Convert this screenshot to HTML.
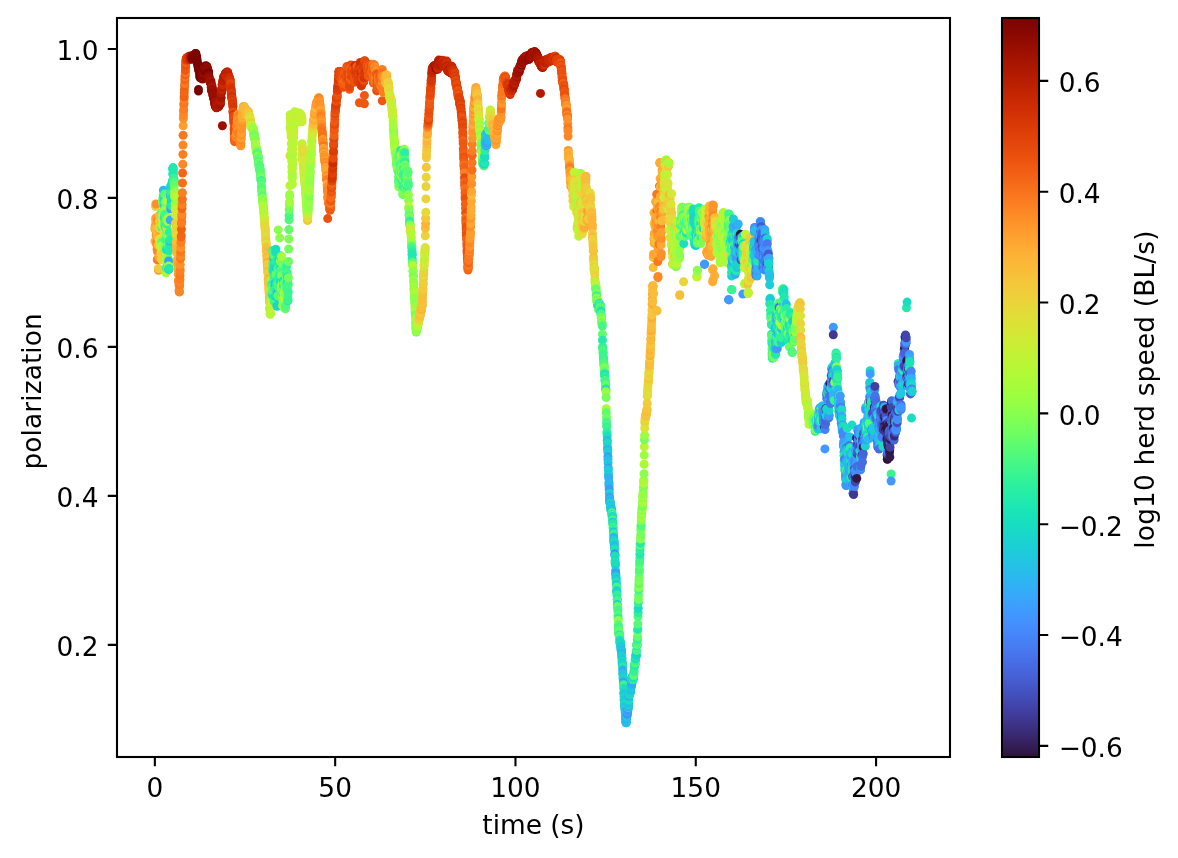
<!DOCTYPE html>
<html><head><meta charset="utf-8"><title>polarization vs time</title>
<style>html,body{margin:0;padding:0;background:#fff;overflow:hidden;}svg{display:block;}text{font-family:"DejaVu Sans","Liberation Sans",sans-serif;font-size:26.40px;fill:#000;}</style></head><body>
<svg width="1178" height="858" viewBox="0 0 1178 858">
<rect width="1178" height="858" fill="#fff"/>
<defs><linearGradient id="cb" x1="0" y1="1" x2="0" y2="0">
<stop offset="0.0000" stop-color="#30123b"/>
<stop offset="0.0156" stop-color="#351e58"/>
<stop offset="0.0312" stop-color="#392a73"/>
<stop offset="0.0469" stop-color="#3d358b"/>
<stop offset="0.0625" stop-color="#4040a2"/>
<stop offset="0.0781" stop-color="#424bb5"/>
<stop offset="0.0938" stop-color="#4456c7"/>
<stop offset="0.1094" stop-color="#4661d6"/>
<stop offset="0.1250" stop-color="#466be3"/>
<stop offset="0.1406" stop-color="#4776ee"/>
<stop offset="0.1562" stop-color="#4680f6"/>
<stop offset="0.1719" stop-color="#458afc"/>
<stop offset="0.1875" stop-color="#4294ff"/>
<stop offset="0.2031" stop-color="#3d9efe"/>
<stop offset="0.2188" stop-color="#37a8fa"/>
<stop offset="0.2344" stop-color="#2fb2f4"/>
<stop offset="0.2500" stop-color="#28bceb"/>
<stop offset="0.2656" stop-color="#22c5e2"/>
<stop offset="0.2812" stop-color="#1ccdd8"/>
<stop offset="0.2969" stop-color="#19d5cd"/>
<stop offset="0.3125" stop-color="#18ddc2"/>
<stop offset="0.3281" stop-color="#19e3b9"/>
<stop offset="0.3438" stop-color="#1fe9af"/>
<stop offset="0.3594" stop-color="#27eea4"/>
<stop offset="0.3750" stop-color="#32f298"/>
<stop offset="0.3906" stop-color="#3ff68a"/>
<stop offset="0.4062" stop-color="#4ef97d"/>
<stop offset="0.4219" stop-color="#5dfc6f"/>
<stop offset="0.4375" stop-color="#6dfe62"/>
<stop offset="0.4531" stop-color="#7dff56"/>
<stop offset="0.4688" stop-color="#8bff4b"/>
<stop offset="0.4844" stop-color="#99fe42"/>
<stop offset="0.5000" stop-color="#a4fc3c"/>
<stop offset="0.5156" stop-color="#affa37"/>
<stop offset="0.5312" stop-color="#b9f635"/>
<stop offset="0.5469" stop-color="#c3f134"/>
<stop offset="0.5625" stop-color="#cdec34"/>
<stop offset="0.5781" stop-color="#d7e535"/>
<stop offset="0.5938" stop-color="#dfdf37"/>
<stop offset="0.6094" stop-color="#e7d739"/>
<stop offset="0.6250" stop-color="#eecf3a"/>
<stop offset="0.6406" stop-color="#f4c73a"/>
<stop offset="0.6562" stop-color="#f8be39"/>
<stop offset="0.6719" stop-color="#fbb637"/>
<stop offset="0.6875" stop-color="#fdac34"/>
<stop offset="0.7031" stop-color="#fea130"/>
<stop offset="0.7188" stop-color="#fe962b"/>
<stop offset="0.7344" stop-color="#fd8a26"/>
<stop offset="0.7500" stop-color="#fb7e21"/>
<stop offset="0.7656" stop-color="#f8721c"/>
<stop offset="0.7812" stop-color="#f46617"/>
<stop offset="0.7969" stop-color="#f05b12"/>
<stop offset="0.8125" stop-color="#eb500e"/>
<stop offset="0.8281" stop-color="#e5470b"/>
<stop offset="0.8438" stop-color="#df3f08"/>
<stop offset="0.8594" stop-color="#d83706"/>
<stop offset="0.8750" stop-color="#d02f05"/>
<stop offset="0.8906" stop-color="#c82803"/>
<stop offset="0.9062" stop-color="#be2102"/>
<stop offset="0.9219" stop-color="#b41b01"/>
<stop offset="0.9375" stop-color="#a91601"/>
<stop offset="0.9531" stop-color="#9e1001"/>
<stop offset="0.9688" stop-color="#920b01"/>
<stop offset="0.9844" stop-color="#850702"/>
<stop offset="1.0000" stop-color="#7a0403"/>
</linearGradient><clipPath id="axclip"><rect x="117.00" y="18.00" width="833.00" height="739.00"/></clipPath></defs>
<g clip-path="url(#axclip)">
<g fill="none" stroke-linecap="round" stroke-width="9.0">
<path stroke="#e9d539" d="M154.9 228.4h0"/>
<path stroke="#fcb336" d="M155.0 241.1h0"/>
<path stroke="#fdac34" d="M155.1 229.5h0"/>
<path stroke="#faba39" d="M155.2 226.2h0"/>
<path stroke="#fcb336" d="M155.3 226.0h0"/>
<path stroke="#e9d539" d="M155.5 220.7h0"/>
<path stroke="#f1cb3a" d="M155.6 206.5h0"/>
<path stroke="#fe9e2f" d="M155.7 218.1h0M155.8 224.6h0"/>
<path stroke="#fe9029" d="M155.9 204.0h0"/>
<path stroke="#fcb336" d="M156.1 235.4h0"/>
<path stroke="#faba39" d="M156.2 243.7h0"/>
<path stroke="#eecf3a" d="M156.3 233.4h0"/>
<path stroke="#fe9e2f" d="M156.4 243.7h0M156.5 235.8h0"/>
<path stroke="#fe9029" d="M156.7 233.6h0"/>
<path stroke="#fc8725" d="M156.8 241.9h0"/>
<path stroke="#f8be39" d="M156.9 226.8h0"/>
<path stroke="#fe9029" d="M157.0 234.5h0"/>
<path stroke="#fc8725" d="M157.1 249.3h0"/>
<path stroke="#fb7e21" d="M157.3 259.7h0"/>
<path stroke="#fc8725" d="M157.4 251.4h0"/>
<path stroke="#f9781e" d="M157.5 259.1h0"/>
<path stroke="#f5c53a" d="M157.6 233.8h0"/>
<path stroke="#f8be39" d="M157.7 231.8h0"/>
<path stroke="#faba39" d="M157.9 236.8h0"/>
<path stroke="#f9781e" d="M158.0 220.1h0"/>
<path stroke="#fe962b" d="M158.1 222.5h0"/>
<path stroke="#faba39" d="M158.2 245.2h0M158.3 268.6h0"/>
<path stroke="#fe962b" d="M158.5 270.3h0"/>
<path stroke="#f1cb3a" d="M158.6 268.7h0"/>
<path stroke="#fea732" d="M158.7 257.1h0M158.8 237.6h0"/>
<path stroke="#fe9029" d="M159.0 218.1h0"/>
<path stroke="#faba39" d="M159.1 227.3h0"/>
<path stroke="#d2e935" d="M159.2 239.3h0"/>
<path stroke="#fe9e2f" d="M159.3 229.8h0"/>
<path stroke="#f8be39" d="M159.4 215.1h0"/>
<path stroke="#f1cb3a" d="M159.6 221.3h0"/>
<path stroke="#e3db38" d="M159.7 228.3h0"/>
<path stroke="#f5c53a" d="M159.8 226.5h0"/>
<path stroke="#e3db38" d="M159.9 245.1h0"/>
<path stroke="#d2e935" d="M160.0 242.3h0"/>
<path stroke="#d9e436" d="M160.2 238.8h0"/>
<path stroke="#eecf3a" d="M160.3 224.7h0"/>
<path stroke="#e3db38" d="M160.4 227.1h0"/>
<path stroke="#b1f936" d="M160.5 246.2h0"/>
<path stroke="#e3db38" d="M160.6 244.2h0"/>
<path stroke="#d2e935" d="M160.8 243.6h0"/>
<path stroke="#e3db38" d="M160.9 246.8h0"/>
<path stroke="#dfdf37" d="M161.0 246.9h0"/>
<path stroke="#b9f635" d="M161.1 252.6h0"/>
<path stroke="#eecf3a" d="M161.2 254.4h0"/>
<path stroke="#e9d539" d="M161.4 259.5h0"/>
<path stroke="#55fa76" d="M161.5 242.6h0"/>
<path stroke="#a4fc3c" d="M161.6 245.8h0"/>
<path stroke="#55fa76" d="M161.7 222.2h0"/>
<path stroke="#32f298" d="M161.8 227.2h0"/>
<path stroke="#38f491" d="M162.0 212.6h0"/>
<path stroke="#6dfe62" d="M162.1 215.3h0M162.2 225.8h0"/>
<path stroke="#d9e436" d="M162.3 221.2h0"/>
<path stroke="#bef434" d="M162.4 225.1h0"/>
<path stroke="#8bff4b" d="M162.6 202.8h0"/>
<path stroke="#61fc6c" d="M162.7 198.9h0"/>
<path stroke="#a4fc3c" d="M162.8 213.7h0"/>
<path stroke="#8bff4b" d="M162.9 201.7h0"/>
<path stroke="#c6f034" d="M163.0 215.6h0"/>
<path stroke="#6dfe62" d="M163.2 200.3h0"/>
<path stroke="#8bff4b" d="M163.3 194.5h0"/>
<path stroke="#28bceb" d="M163.4 190.3h0"/>
<path stroke="#22ebaa" d="M163.5 196.2h0"/>
<path stroke="#80ff53" d="M163.6 210.5h0"/>
<path stroke="#18e0bd" d="M163.8 200.4h0M163.9 204.7h0"/>
<path stroke="#dfdf37" d="M164.0 232.2h0"/>
<path stroke="#9cfe40" d="M164.1 227.7h0"/>
<path stroke="#38f491" d="M164.2 218.4h0"/>
<path stroke="#92ff47" d="M164.4 226.5h0"/>
<path stroke="#4ef97d" d="M164.5 223.8h0"/>
<path stroke="#1ae4b6" d="M164.6 216.6h0"/>
<path stroke="#55fa76" d="M164.7 194.1h0"/>
<path stroke="#4ef97d" d="M164.8 214.4h0"/>
<path stroke="#9cfe40" d="M165.0 209.7h0"/>
<path stroke="#43f787" d="M165.1 214.5h0"/>
<path stroke="#6dfe62" d="M165.2 202.3h0"/>
<path stroke="#2aefa1" d="M165.3 227.0h0"/>
<path stroke="#43f787" d="M165.4 239.8h0"/>
<path stroke="#61fc6c" d="M165.6 253.1h0"/>
<path stroke="#6dfe62" d="M165.7 247.6h0"/>
<path stroke="#bef434" d="M165.8 252.9h0"/>
<path stroke="#c6f034" d="M165.9 261.2h0"/>
<path stroke="#a4fc3c" d="M166.0 272.7h0"/>
<path stroke="#43f787" d="M166.2 267.7h0"/>
<path stroke="#b9f635" d="M166.3 259.2h0"/>
<path stroke="#1ae4b6" d="M166.4 249.7h0"/>
<path stroke="#75fe5c" d="M166.5 234.4h0"/>
<path stroke="#8bff4b" d="M166.6 219.3h0"/>
<path stroke="#d9e436" d="M166.8 227.6h0"/>
<path stroke="#32f298" d="M166.9 224.2h0"/>
<path stroke="#8bff4b" d="M167.0 196.8h0"/>
<path stroke="#9cfe40" d="M167.1 201.1h0"/>
<path stroke="#2aefa1" d="M167.2 222.6h0"/>
<path stroke="#dfdf37" d="M167.4 219.5h0"/>
<path stroke="#61fc6c" d="M167.5 196.0h0"/>
<path stroke="#b1f936" d="M167.6 200.3h0"/>
<path stroke="#2aefa1" d="M167.7 217.6h0"/>
<path stroke="#9cfe40" d="M167.8 221.6h0"/>
<path stroke="#b1f936" d="M168.0 218.1h0"/>
<path stroke="#55fa76" d="M168.1 245.4h0"/>
<path stroke="#f1cb3a" d="M168.2 268.6h0"/>
<path stroke="#6dfe62" d="M168.3 258.8h0"/>
<path stroke="#92ff47" d="M168.4 263.5h0"/>
<path stroke="#3ba0fd" d="M168.6 261.1h0"/>
<path stroke="#a9fb39" d="M168.7 266.1h0"/>
<path stroke="#25c0e7" d="M168.8 269.3h0"/>
<path stroke="#1ccdd8" d="M168.9 269.0h0"/>
<path stroke="#1fe9af" d="M169.0 268.5h0"/>
<path stroke="#22ebaa" d="M169.2 250.7h0"/>
<path stroke="#c6f034" d="M169.3 235.8h0"/>
<path stroke="#2aefa1" d="M169.4 232.2h0"/>
<path stroke="#22ebaa" d="M169.5 246.8h0"/>
<path stroke="#1fe9af" d="M169.6 245.6h0"/>
<path stroke="#38f491" d="M169.8 241.4h0"/>
<path stroke="#2eb4f2" d="M169.9 241.1h0"/>
<path stroke="#61fc6c" d="M170.0 239.0h0"/>
<path stroke="#22ebaa" d="M170.1 239.6h0"/>
<path stroke="#33adf7" d="M170.2 220.1h0"/>
<path stroke="#3ba0fd" d="M170.4 196.1h0"/>
<path stroke="#2eb4f2" d="M170.5 195.8h0"/>
<path stroke="#18d7ca" d="M170.6 186.3h0"/>
<path stroke="#3ba0fd" d="M170.7 208.8h0M170.9 206.1h0"/>
<path stroke="#2aefa1" d="M171.0 203.4h0"/>
<path stroke="#33adf7" d="M171.1 191.5h0"/>
<path stroke="#2aefa1" d="M171.2 195.7h0"/>
<path stroke="#32f298" d="M171.3 191.6h0"/>
<path stroke="#2eb4f2" d="M171.5 200.7h0"/>
<path stroke="#1fe9af" d="M171.6 205.7h0"/>
<path stroke="#1ae4b6" d="M171.7 198.7h0"/>
<path stroke="#18ddc2" d="M171.8 198.5h0"/>
<path stroke="#1ae4b6" d="M171.9 183.4h0M172.1 182.4h0"/>
<path stroke="#18ddc2" d="M172.2 186.1h0M172.3 187.4h0M172.4 184.5h0M172.5 180.7h0"/>
<path stroke="#18e0bd" d="M172.7 174.0h0M172.8 169.2h0"/>
<path stroke="#18d7ca" d="M172.9 168.7h0"/>
<path stroke="#22ebaa" d="M173.0 167.6h0"/>
<path stroke="#1fe9af" d="M173.1 168.6h0"/>
<path stroke="#22ebaa" d="M173.3 170.9h0"/>
<path stroke="#1fe9af" d="M173.4 173.9h0"/>
<path stroke="#2aefa1" d="M173.5 178.6h0"/>
<path stroke="#43f787" d="M173.6 178.5h0"/>
<path stroke="#38f491" d="M173.7 178.5h0"/>
<path stroke="#4ef97d" d="M173.9 182.0h0"/>
<path stroke="#32f298" d="M174.0 181.1h0"/>
<path stroke="#38f491" d="M174.1 180.3h0"/>
<path stroke="#4ef97d" d="M174.2 182.2h0"/>
<path stroke="#61fc6c" d="M174.3 185.3h0"/>
<path stroke="#8bff4b" d="M174.5 190.4h0"/>
<path stroke="#9cfe40" d="M174.6 193.4h0"/>
<path stroke="#61fc6c" d="M174.7 196.7h0"/>
<path stroke="#a4fc3c" d="M174.8 196.0h0"/>
<path stroke="#b9f635" d="M174.9 196.9h0"/>
<path stroke="#92ff47" d="M175.1 203.8h0"/>
<path stroke="#a9fb39" d="M175.2 207.4h0"/>
<path stroke="#c6f034" d="M175.3 209.4h0"/>
<path stroke="#d2e935" d="M175.4 214.9h0"/>
<path stroke="#f1cb3a" d="M175.5 223.2h0"/>
<path stroke="#dfdf37" d="M175.7 229.3h0"/>
<path stroke="#eecf3a" d="M175.8 230.1h0M175.9 230.3h0"/>
<path stroke="#f1cb3a" d="M176.0 233.1h0"/>
<path stroke="#e9d539" d="M176.1 235.1h0"/>
<path stroke="#f5c53a" d="M176.3 242.0h0"/>
<path stroke="#f8be39" d="M176.4 244.5h0M176.5 247.9h0"/>
<path stroke="#fea732" d="M176.6 246.6h0"/>
<path stroke="#f5c53a" d="M176.7 252.8h0"/>
<path stroke="#f8be39" d="M176.9 243.4h0M177.0 248.6h0"/>
<path stroke="#faba39" d="M177.1 252.4h0"/>
<path stroke="#fcb336" d="M177.2 249.3h0"/>
<path stroke="#fea732" d="M177.3 260.7h0"/>
<path stroke="#fe9e2f" d="M177.5 260.8h0"/>
<path stroke="#faba39" d="M177.6 260.9h0"/>
<path stroke="#fdac34" d="M177.7 259.1h0"/>
<path stroke="#fea732" d="M177.8 264.3h0"/>
<path stroke="#fe9e2f" d="M177.9 266.8h0M178.1 265.7h0"/>
<path stroke="#fdac34" d="M178.2 269.6h0"/>
<path stroke="#fe9e2f" d="M178.3 274.3h0"/>
<path stroke="#fea732" d="M178.4 280.2h0"/>
<path stroke="#fe9029" d="M178.5 280.8h0M178.7 280.8h0"/>
<path stroke="#fc8725" d="M178.8 281.9h0"/>
<path stroke="#fe9029" d="M178.9 280.7h0M179.0 285.0h0"/>
<path stroke="#fe962b" d="M179.1 290.5h0"/>
<path stroke="#f76f1a" d="M179.3 291.8h0"/>
<path stroke="#fc8725" d="M179.4 291.9h0M179.5 286.7h0"/>
<path stroke="#fb7e21" d="M179.6 284.7h0"/>
<path stroke="#fc8725" d="M179.7 281.6h0"/>
<path stroke="#fb7e21" d="M179.9 279.4h0"/>
<path stroke="#f9781e" d="M180.0 275.4h0"/>
<path stroke="#fb7e21" d="M180.1 271.2h0M180.2 269.8h0"/>
<path stroke="#fe9029" d="M180.3 264.7h0"/>
<path stroke="#f9781e" d="M180.5 258.9h0"/>
<path stroke="#fc8725" d="M180.6 255.5h0"/>
<path stroke="#f9781e" d="M180.7 251.9h0"/>
<path stroke="#fe9029" d="M180.8 247.4h0"/>
<path stroke="#fb7e21" d="M180.9 242.5h0M181.1 241.2h0"/>
<path stroke="#f46617" d="M181.2 236.8h0M181.3 235.8h0"/>
<path stroke="#f26014" d="M181.4 229.3h0"/>
<path stroke="#f9781e" d="M181.5 223.4h0"/>
<path stroke="#fb7e21" d="M181.7 221.5h0"/>
<path stroke="#f9781e" d="M181.8 216.8h0"/>
<path stroke="#fc8725" d="M181.9 214.2h0"/>
<path stroke="#f46617" d="M182.0 208.5h0"/>
<path stroke="#fb7e21" d="M182.1 204.5h0"/>
<path stroke="#f76f1a" d="M182.3 199.3h0"/>
<path stroke="#fb7e21" d="M182.4 192.8h0"/>
<path stroke="#f76f1a" d="M182.5 183.0h0"/>
<path stroke="#f46617" d="M182.6 173.0h0"/>
<path stroke="#fc8725" d="M182.8 164.2h0"/>
<path stroke="#fb7e21" d="M182.9 154.4h0"/>
<path stroke="#fc8725" d="M183.0 145.1h0"/>
<path stroke="#f9781e" d="M183.1 135.2h0"/>
<path stroke="#fe9e2f" d="M183.2 125.7h0"/>
<path stroke="#fe9029" d="M183.4 118.6h0"/>
<path stroke="#fc8725" d="M183.5 115.1h0M183.6 111.6h0"/>
<path stroke="#fb7e21" d="M183.7 109.4h0M183.8 105.1h0"/>
<path stroke="#f9781e" d="M184.0 103.2h0"/>
<path stroke="#fb7e21" d="M184.1 99.1h0"/>
<path stroke="#f26014" d="M184.2 96.5h0"/>
<path stroke="#f46617" d="M184.3 92.8h0M184.4 90.0h0"/>
<path stroke="#f26014" d="M184.6 86.0h0"/>
<path stroke="#f9781e" d="M184.7 83.6h0"/>
<path stroke="#f46617" d="M184.8 79.8h0M184.9 79.8h0"/>
<path stroke="#fb7e21" d="M185.0 76.6h0"/>
<path stroke="#f26014" d="M185.2 75.0h0"/>
<path stroke="#f9781e" d="M185.3 72.4h0"/>
<path stroke="#ef5811" d="M185.4 70.4h0M185.5 67.7h0"/>
<path stroke="#e84b0c" d="M185.6 64.7h0"/>
<path stroke="#ef5811" d="M185.8 63.3h0"/>
<path stroke="#f46617" d="M185.9 61.6h0"/>
<path stroke="#eb500e" d="M186.0 60.6h0"/>
<path stroke="#e84b0c" d="M186.1 59.6h0M186.2 58.9h0"/>
<path stroke="#e4450a" d="M186.4 58.1h0"/>
<path stroke="#eb500e" d="M186.5 59.4h0"/>
<path stroke="#e84b0c" d="M186.6 59.3h0"/>
<path stroke="#df3f08" d="M186.7 58.3h0M186.8 59.2h0"/>
<path stroke="#e84b0c" d="M187.0 58.5h0"/>
<path stroke="#df3f08" d="M187.1 58.5h0"/>
<path stroke="#d63506" d="M187.2 57.5h0"/>
<path stroke="#e84b0c" d="M187.3 58.2h0"/>
<path stroke="#d02f05" d="M187.4 59.7h0"/>
<path stroke="#dc3b07" d="M187.6 59.2h0"/>
<path stroke="#df3f08" d="M187.7 59.9h0"/>
<path stroke="#dc3b07" d="M187.8 58.6h0"/>
<path stroke="#d63506" d="M187.9 58.7h0"/>
<path stroke="#df3f08" d="M188.0 57.4h0M188.2 58.1h0"/>
<path stroke="#dc3b07" d="M188.3 58.2h0"/>
<path stroke="#e4450a" d="M188.4 58.5h0"/>
<path stroke="#d63506" d="M188.5 58.5h0"/>
<path stroke="#e4450a" d="M188.6 59.1h0"/>
<path stroke="#d63506" d="M188.8 57.2h0M188.9 56.3h0"/>
<path stroke="#dc3b07" d="M189.0 59.4h0M189.1 59.0h0"/>
<path stroke="#d63506" d="M189.2 58.1h0"/>
<path stroke="#c52603" d="M189.4 59.6h0M189.5 58.0h0"/>
<path stroke="#d02f05" d="M189.6 57.9h0"/>
<path stroke="#cc2b04" d="M189.7 57.2h0"/>
<path stroke="#d63506" d="M189.8 56.9h0M190.0 57.3h0"/>
<path stroke="#be2102" d="M190.1 56.9h0"/>
<path stroke="#d63506" d="M190.2 57.0h0M190.3 56.9h0"/>
<path stroke="#cc2b04" d="M190.4 56.6h0M190.6 56.5h0"/>
<path stroke="#be2102" d="M190.7 56.5h0"/>
<path stroke="#b91e02" d="M190.8 55.9h0M190.9 57.8h0"/>
<path stroke="#be2102" d="M191.0 57.3h0"/>
<path stroke="#b91e02" d="M191.2 57.8h0M191.3 56.5h0"/>
<path stroke="#a41301" d="M191.4 58.0h0"/>
<path stroke="#a91601" d="M191.5 58.7h0M191.6 56.8h0M191.8 59.0h0"/>
<path stroke="#920b01" d="M191.9 58.4h0M192.0 59.0h0"/>
<path stroke="#810602" d="M192.1 55.8h0"/>
<path stroke="#9b0f01" d="M192.2 58.0h0"/>
<path stroke="#920b01" d="M192.4 57.4h0"/>
<path stroke="#810602" d="M192.5 56.7h0"/>
<path stroke="#9b0f01" d="M192.6 56.1h0"/>
<path stroke="#810602" d="M192.7 57.9h0"/>
<path stroke="#9b0f01" d="M192.8 56.8h0"/>
<path stroke="#920b01" d="M193.0 57.3h0"/>
<path stroke="#8b0902" d="M193.1 57.2h0"/>
<path stroke="#9b0f01" d="M193.2 56.6h0"/>
<path stroke="#8b0902" d="M193.3 57.0h0"/>
<path stroke="#7a0403" d="M193.4 57.5h0"/>
<path stroke="#920b01" d="M193.6 58.9h0"/>
<path stroke="#8b0902" d="M193.7 57.9h0"/>
<path stroke="#920b01" d="M193.8 57.4h0"/>
<path stroke="#7a0403" d="M193.9 57.0h0M194.0 58.7h0"/>
<path stroke="#920b01" d="M194.2 58.1h0"/>
<path stroke="#810602" d="M194.3 58.4h0M194.4 57.0h0M194.5 57.8h0"/>
<path stroke="#7a0403" d="M194.7 56.3h0M194.8 56.8h0"/>
<path stroke="#810602" d="M194.9 56.3h0"/>
<path stroke="#8b0902" d="M195.0 55.4h0"/>
<path stroke="#7a0403" d="M195.1 54.7h0M195.3 53.8h0M195.4 53.5h0M195.5 54.6h0M195.6 54.8h0"/>
<path stroke="#8b0902" d="M195.7 54.3h0"/>
<path stroke="#810602" d="M195.9 53.4h0M196.0 55.2h0"/>
<path stroke="#7a0403" d="M196.1 56.0h0M196.2 55.6h0M196.3 57.6h0M196.5 57.9h0"/>
<path stroke="#810602" d="M196.6 57.9h0"/>
<path stroke="#7a0403" d="M196.7 57.3h0M196.8 58.4h0M196.9 59.3h0M197.1 59.7h0M197.2 60.0h0M197.3 61.9h0M197.4 64.3h0M197.5 62.1h0M197.7 65.2h0M197.8 65.9h0M197.9 65.4h0M198.0 64.8h0M198.1 65.6h0M198.3 67.9h0M198.4 68.7h0M198.5 89.4h0M198.5 91.0h0M198.5 69.9h0M198.6 70.3h0M198.7 69.5h0M198.9 69.8h0M199.0 70.2h0M199.1 68.9h0M199.2 69.6h0M199.3 70.9h0M199.5 74.3h0M199.6 76.6h0M199.7 75.5h0M199.8 74.3h0M199.9 76.6h0M200.1 77.8h0M200.2 75.8h0M200.3 76.7h0M200.4 76.2h0M200.5 76.4h0M200.7 76.4h0M200.8 77.2h0M200.9 74.6h0M201.0 74.8h0M201.1 75.0h0"/>
<path stroke="#810602" d="M201.3 73.9h0"/>
<path stroke="#7a0403" d="M201.4 73.4h0M201.5 75.6h0M201.6 75.3h0"/>
<path stroke="#8b0902" d="M201.7 74.7h0"/>
<path stroke="#7a0403" d="M201.9 76.6h0"/>
<path stroke="#810602" d="M202.0 76.0h0"/>
<path stroke="#7a0403" d="M202.1 75.4h0M202.2 75.7h0M202.3 75.9h0"/>
<path stroke="#8b0902" d="M202.5 79.0h0"/>
<path stroke="#7a0403" d="M202.6 77.3h0"/>
<path stroke="#810602" d="M202.7 76.1h0"/>
<path stroke="#920b01" d="M202.8 75.1h0M202.9 77.2h0"/>
<path stroke="#8b0902" d="M203.1 77.3h0M203.2 75.0h0M203.3 74.5h0M203.4 72.6h0M203.5 71.9h0"/>
<path stroke="#7a0403" d="M203.7 71.8h0"/>
<path stroke="#9b0f01" d="M203.8 72.7h0M203.9 70.8h0"/>
<path stroke="#920b01" d="M204.0 71.0h0"/>
<path stroke="#7a0403" d="M204.1 68.2h0M204.3 68.9h0"/>
<path stroke="#8b0902" d="M204.4 71.4h0"/>
<path stroke="#9b0f01" d="M204.5 70.4h0"/>
<path stroke="#920b01" d="M204.6 69.6h0"/>
<path stroke="#8b0902" d="M204.7 68.5h0"/>
<path stroke="#7a0403" d="M204.9 70.3h0"/>
<path stroke="#8b0902" d="M205.0 66.5h0"/>
<path stroke="#920b01" d="M205.1 66.0h0M205.2 66.9h0"/>
<path stroke="#a41301" d="M205.3 68.7h0"/>
<path stroke="#810602" d="M205.5 71.5h0M205.6 70.2h0M205.7 70.0h0"/>
<path stroke="#7a0403" d="M205.8 69.6h0"/>
<path stroke="#a41301" d="M205.9 68.4h0M206.1 68.8h0"/>
<path stroke="#920b01" d="M206.2 66.1h0"/>
<path stroke="#8b0902" d="M206.3 66.4h0"/>
<path stroke="#7a0403" d="M206.4 66.1h0"/>
<path stroke="#920b01" d="M206.6 67.7h0"/>
<path stroke="#810602" d="M206.7 66.5h0"/>
<path stroke="#8b0902" d="M206.8 68.9h0"/>
<path stroke="#7a0403" d="M206.9 68.6h0"/>
<path stroke="#920b01" d="M207.0 67.2h0M207.2 68.0h0"/>
<path stroke="#9b0f01" d="M207.3 68.3h0"/>
<path stroke="#8b0902" d="M207.4 68.8h0"/>
<path stroke="#920b01" d="M207.5 71.6h0M207.6 69.3h0"/>
<path stroke="#8b0902" d="M207.8 71.2h0"/>
<path stroke="#920b01" d="M207.9 71.6h0"/>
<path stroke="#7a0403" d="M208.0 72.5h0"/>
<path stroke="#8b0902" d="M208.1 71.9h0"/>
<path stroke="#810602" d="M208.2 72.2h0"/>
<path stroke="#920b01" d="M208.4 71.0h0"/>
<path stroke="#810602" d="M208.5 73.8h0"/>
<path stroke="#7a0403" d="M208.6 73.0h0"/>
<path stroke="#8b0902" d="M208.7 75.2h0"/>
<path stroke="#a41301" d="M208.8 77.6h0"/>
<path stroke="#9b0f01" d="M209.0 77.3h0"/>
<path stroke="#810602" d="M209.1 79.3h0"/>
<path stroke="#9b0f01" d="M209.2 79.2h0"/>
<path stroke="#8b0902" d="M209.3 79.0h0"/>
<path stroke="#a41301" d="M209.4 79.0h0"/>
<path stroke="#920b01" d="M209.6 79.5h0"/>
<path stroke="#a91601" d="M209.7 79.7h0"/>
<path stroke="#9b0f01" d="M209.8 79.7h0M209.9 80.2h0M210.0 80.8h0"/>
<path stroke="#a41301" d="M210.2 82.6h0"/>
<path stroke="#9b0f01" d="M210.3 81.3h0"/>
<path stroke="#a41301" d="M210.4 82.3h0M210.5 81.7h0"/>
<path stroke="#b21a01" d="M210.6 82.5h0"/>
<path stroke="#920b01" d="M210.8 81.6h0"/>
<path stroke="#a41301" d="M210.9 80.9h0"/>
<path stroke="#920b01" d="M211.0 83.5h0"/>
<path stroke="#9b0f01" d="M211.1 83.9h0"/>
<path stroke="#920b01" d="M211.2 87.3h0"/>
<path stroke="#a91601" d="M211.4 90.0h0"/>
<path stroke="#9b0f01" d="M211.5 87.2h0"/>
<path stroke="#a41301" d="M211.6 90.8h0"/>
<path stroke="#9b0f01" d="M211.7 88.8h0M211.8 88.7h0M212.0 85.9h0"/>
<path stroke="#b91e02" d="M212.1 87.8h0"/>
<path stroke="#b21a01" d="M212.2 90.1h0"/>
<path stroke="#920b01" d="M212.3 89.1h0M212.4 89.8h0"/>
<path stroke="#9b0f01" d="M212.6 89.6h0M212.7 91.9h0M212.8 92.9h0M212.9 94.7h0"/>
<path stroke="#8b0902" d="M213.0 94.5h0"/>
<path stroke="#9b0f01" d="M213.2 95.1h0"/>
<path stroke="#a91601" d="M213.3 95.8h0"/>
<path stroke="#9b0f01" d="M213.4 96.2h0"/>
<path stroke="#8b0902" d="M213.5 97.8h0M213.6 98.5h0"/>
<path stroke="#920b01" d="M213.8 97.3h0"/>
<path stroke="#9b0f01" d="M213.9 98.1h0"/>
<path stroke="#920b01" d="M214.0 96.5h0"/>
<path stroke="#9b0f01" d="M214.1 96.7h0M214.2 97.1h0M214.4 99.0h0"/>
<path stroke="#920b01" d="M214.5 100.1h0"/>
<path stroke="#a41301" d="M214.6 103.1h0"/>
<path stroke="#920b01" d="M214.7 102.6h0"/>
<path stroke="#a41301" d="M214.8 101.7h0M215.0 104.7h0M215.1 104.3h0M215.2 105.6h0"/>
<path stroke="#8b0902" d="M215.3 105.3h0"/>
<path stroke="#920b01" d="M215.4 104.4h0"/>
<path stroke="#a41301" d="M215.6 104.9h0"/>
<path stroke="#a91601" d="M215.7 106.3h0"/>
<path stroke="#920b01" d="M215.8 106.9h0M215.9 107.0h0"/>
<path stroke="#a41301" d="M216.0 106.9h0"/>
<path stroke="#a91601" d="M216.2 107.2h0"/>
<path stroke="#8b0902" d="M216.3 107.2h0"/>
<path stroke="#a91601" d="M216.4 107.8h0M216.5 106.9h0"/>
<path stroke="#b21a01" d="M216.6 107.6h0"/>
<path stroke="#b91e02" d="M216.8 107.1h0"/>
<path stroke="#a41301" d="M216.9 105.9h0M217.0 105.8h0"/>
<path stroke="#b91e02" d="M217.1 104.1h0"/>
<path stroke="#b21a01" d="M217.2 105.2h0"/>
<path stroke="#9b0f01" d="M217.4 103.0h0"/>
<path stroke="#b21a01" d="M217.5 103.3h0"/>
<path stroke="#a91601" d="M217.6 103.8h0"/>
<path stroke="#be2102" d="M217.7 103.7h0"/>
<path stroke="#b21a01" d="M217.8 104.1h0"/>
<path stroke="#a41301" d="M218.0 106.4h0"/>
<path stroke="#be2102" d="M218.1 106.2h0M218.2 106.0h0"/>
<path stroke="#a91601" d="M218.3 105.5h0"/>
<path stroke="#a41301" d="M218.5 105.0h0"/>
<path stroke="#b91e02" d="M218.6 105.5h0"/>
<path stroke="#b21a01" d="M218.7 106.8h0"/>
<path stroke="#a91601" d="M218.8 105.7h0"/>
<path stroke="#b21a01" d="M218.9 103.9h0"/>
<path stroke="#a91601" d="M219.1 102.8h0"/>
<path stroke="#b21a01" d="M219.2 101.3h0"/>
<path stroke="#a91601" d="M219.3 101.8h0M219.4 102.2h0"/>
<path stroke="#c52603" d="M219.5 102.9h0"/>
<path stroke="#a91601" d="M219.7 103.2h0"/>
<path stroke="#b91e02" d="M219.8 102.8h0"/>
<path stroke="#be2102" d="M219.9 102.9h0"/>
<path stroke="#b21a01" d="M220.0 102.2h0"/>
<path stroke="#b91e02" d="M220.1 103.5h0"/>
<path stroke="#a41301" d="M220.3 104.4h0M220.4 101.8h0"/>
<path stroke="#b91e02" d="M220.5 100.9h0"/>
<path stroke="#a91601" d="M220.6 98.4h0M220.7 97.8h0"/>
<path stroke="#b91e02" d="M220.9 97.9h0"/>
<path stroke="#a41301" d="M221.0 97.3h0"/>
<path stroke="#be2102" d="M221.1 92.8h0M221.2 92.8h0"/>
<path stroke="#b21a01" d="M221.3 92.8h0"/>
<path stroke="#b91e02" d="M221.5 91.5h0"/>
<path stroke="#b21a01" d="M221.6 91.6h0"/>
<path stroke="#be2102" d="M221.7 89.2h0"/>
<path stroke="#b91e02" d="M221.8 90.6h0"/>
<path stroke="#c52603" d="M221.9 89.4h0"/>
<path stroke="#b91e02" d="M222.1 87.4h0"/>
<path stroke="#a91601" d="M222.2 84.4h0"/>
<path stroke="#b91e02" d="M222.3 84.7h0"/>
<path stroke="#9b0f01" d="M222.4 125.7h0"/>
<path stroke="#cc2b04" d="M222.4 84.8h0"/>
<path stroke="#be2102" d="M222.5 82.9h0M222.7 82.6h0"/>
<path stroke="#c52603" d="M222.8 81.9h0"/>
<path stroke="#cc2b04" d="M222.9 82.9h0"/>
<path stroke="#c52603" d="M223.0 80.4h0"/>
<path stroke="#be2102" d="M223.1 80.7h0"/>
<path stroke="#b91e02" d="M223.3 79.7h0"/>
<path stroke="#c52603" d="M223.4 77.1h0M223.5 79.2h0"/>
<path stroke="#b91e02" d="M223.6 78.6h0M223.7 77.8h0"/>
<path stroke="#be2102" d="M223.9 76.6h0"/>
<path stroke="#cc2b04" d="M224.0 77.1h0"/>
<path stroke="#a91601" d="M224.1 77.6h0"/>
<path stroke="#c52603" d="M224.2 77.2h0"/>
<path stroke="#cc2b04" d="M224.3 77.3h0"/>
<path stroke="#b91e02" d="M224.5 78.1h0"/>
<path stroke="#b21a01" d="M224.6 78.5h0M224.7 77.7h0M224.8 77.4h0"/>
<path stroke="#cc2b04" d="M224.9 78.1h0"/>
<path stroke="#b21a01" d="M225.1 78.1h0M225.2 74.3h0"/>
<path stroke="#b91e02" d="M225.3 74.3h0"/>
<path stroke="#be2102" d="M225.4 73.2h0"/>
<path stroke="#cc2b04" d="M225.5 74.7h0M225.7 74.0h0"/>
<path stroke="#be2102" d="M225.8 75.1h0"/>
<path stroke="#b21a01" d="M225.9 74.1h0"/>
<path stroke="#c52603" d="M226.0 75.5h0"/>
<path stroke="#d02f05" d="M226.1 75.7h0"/>
<path stroke="#be2102" d="M226.3 76.1h0"/>
<path stroke="#b91e02" d="M226.4 73.9h0M226.5 72.8h0"/>
<path stroke="#be2102" d="M226.6 72.3h0"/>
<path stroke="#d02f05" d="M226.7 74.5h0"/>
<path stroke="#be2102" d="M226.9 74.2h0"/>
<path stroke="#d02f05" d="M227.0 75.3h0"/>
<path stroke="#b91e02" d="M227.1 72.5h0"/>
<path stroke="#c52603" d="M227.2 73.8h0"/>
<path stroke="#d63506" d="M227.3 72.1h0"/>
<path stroke="#b91e02" d="M227.5 72.1h0M227.6 72.7h0"/>
<path stroke="#c52603" d="M227.7 72.4h0"/>
<path stroke="#be2102" d="M227.8 74.0h0"/>
<path stroke="#d02f05" d="M227.9 76.5h0"/>
<path stroke="#c52603" d="M228.1 76.5h0M228.2 75.0h0"/>
<path stroke="#cc2b04" d="M228.3 75.9h0M228.4 78.1h0"/>
<path stroke="#be2102" d="M228.5 75.5h0"/>
<path stroke="#c52603" d="M228.7 77.2h0M228.8 78.8h0"/>
<path stroke="#d63506" d="M228.9 79.0h0"/>
<path stroke="#d02f05" d="M229.0 79.2h0"/>
<path stroke="#cc2b04" d="M229.1 79.8h0"/>
<path stroke="#d63506" d="M229.3 79.3h0"/>
<path stroke="#c52603" d="M229.4 79.9h0"/>
<path stroke="#dc3b07" d="M229.5 77.9h0"/>
<path stroke="#d02f05" d="M229.6 78.6h0"/>
<path stroke="#cc2b04" d="M229.7 78.4h0"/>
<path stroke="#dc3b07" d="M229.9 80.1h0"/>
<path stroke="#cc2b04" d="M230.0 79.9h0"/>
<path stroke="#d63506" d="M230.1 80.5h0M230.2 81.5h0"/>
<path stroke="#dc3b07" d="M230.4 84.2h0"/>
<path stroke="#cc2b04" d="M230.5 84.3h0"/>
<path stroke="#e4450a" d="M230.6 83.8h0"/>
<path stroke="#d63506" d="M230.7 87.0h0"/>
<path stroke="#dc3b07" d="M230.8 88.1h0"/>
<path stroke="#cc2b04" d="M231.0 89.6h0"/>
<path stroke="#d63506" d="M231.1 90.2h0"/>
<path stroke="#d02f05" d="M231.2 91.4h0"/>
<path stroke="#df3f08" d="M231.3 93.6h0"/>
<path stroke="#dc3b07" d="M231.4 93.0h0M231.6 96.5h0M231.7 95.3h0"/>
<path stroke="#cc2b04" d="M231.8 96.7h0"/>
<path stroke="#d02f05" d="M231.9 98.0h0"/>
<path stroke="#df3f08" d="M232.0 99.1h0"/>
<path stroke="#dc3b07" d="M232.2 99.1h0M232.3 100.8h0"/>
<path stroke="#d63506" d="M232.4 101.1h0"/>
<path stroke="#e4450a" d="M232.5 102.1h0"/>
<path stroke="#d63506" d="M232.6 103.4h0"/>
<path stroke="#dc3b07" d="M232.8 104.9h0"/>
<path stroke="#d63506" d="M232.9 106.7h0"/>
<path stroke="#dc3b07" d="M233.0 110.9h0"/>
<path stroke="#df3f08" d="M233.1 111.8h0"/>
<path stroke="#eb500e" d="M233.2 112.5h0"/>
<path stroke="#d63506" d="M233.4 114.6h0"/>
<path stroke="#e84b0c" d="M233.5 116.4h0"/>
<path stroke="#e4450a" d="M233.6 118.1h0"/>
<path stroke="#eb500e" d="M233.7 119.2h0"/>
<path stroke="#e84b0c" d="M233.8 121.3h0"/>
<path stroke="#e4450a" d="M234.0 123.2h0"/>
<path stroke="#eb500e" d="M234.1 128.1h0"/>
<path stroke="#e84b0c" d="M234.2 130.0h0M234.3 133.7h0"/>
<path stroke="#eb500e" d="M234.4 138.0h0"/>
<path stroke="#ef5811" d="M234.6 141.6h0M234.7 141.4h0"/>
<path stroke="#f46617" d="M234.8 140.2h0"/>
<path stroke="#ef5811" d="M234.9 140.5h0"/>
<path stroke="#f46617" d="M235.0 140.0h0"/>
<path stroke="#f76f1a" d="M235.2 138.0h0"/>
<path stroke="#f46617" d="M235.3 138.0h0"/>
<path stroke="#f26014" d="M235.4 137.4h0"/>
<path stroke="#ef5811" d="M235.5 137.0h0"/>
<path stroke="#f26014" d="M235.6 137.0h0"/>
<path stroke="#ef5811" d="M235.8 136.8h0"/>
<path stroke="#f76f1a" d="M235.9 137.6h0"/>
<path stroke="#fc8725" d="M236.0 137.0h0"/>
<path stroke="#fe962b" d="M236.1 135.3h0"/>
<path stroke="#fb7e21" d="M236.2 134.9h0"/>
<path stroke="#f9781e" d="M236.4 134.8h0"/>
<path stroke="#fe962b" d="M236.5 133.5h0"/>
<path stroke="#fb7e21" d="M236.6 131.6h0M236.7 131.1h0"/>
<path stroke="#fe9029" d="M236.8 126.8h0M237.0 125.2h0"/>
<path stroke="#fb7e21" d="M237.1 124.4h0"/>
<path stroke="#fc8725" d="M237.2 121.7h0"/>
<path stroke="#fe9029" d="M237.3 120.6h0"/>
<path stroke="#fe962b" d="M237.4 120.6h0M237.6 120.3h0M237.7 118.7h0"/>
<path stroke="#fe9029" d="M237.8 119.4h0"/>
<path stroke="#fc8725" d="M237.9 117.7h0"/>
<path stroke="#fea732" d="M238.0 114.4h0M238.2 115.0h0"/>
<path stroke="#fc8725" d="M238.3 117.6h0"/>
<path stroke="#fb7e21" d="M238.4 115.6h0"/>
<path stroke="#fe9029" d="M238.5 118.4h0"/>
<path stroke="#fe962b" d="M238.6 120.1h0"/>
<path stroke="#fe9029" d="M238.8 121.2h0"/>
<path stroke="#fe9e2f" d="M238.9 121.0h0"/>
<path stroke="#fc8725" d="M239.0 122.1h0"/>
<path stroke="#fe9e2f" d="M239.1 125.3h0"/>
<path stroke="#fe9029" d="M239.2 126.0h0M239.4 128.3h0M239.5 129.1h0"/>
<path stroke="#f76f1a" d="M239.6 132.7h0"/>
<path stroke="#fe9029" d="M239.7 133.8h0"/>
<path stroke="#f9781e" d="M239.8 135.6h0"/>
<path stroke="#fb7e21" d="M240.0 132.8h0M240.1 135.1h0"/>
<path stroke="#fc8725" d="M240.2 139.6h0"/>
<path stroke="#fe9029" d="M240.3 141.8h0M240.4 142.9h0"/>
<path stroke="#fb7e21" d="M240.6 143.8h0M240.7 145.8h0"/>
<path stroke="#fe962b" d="M240.8 145.2h0"/>
<path stroke="#fe9029" d="M240.9 143.8h0"/>
<path stroke="#fc8725" d="M241.0 139.5h0"/>
<path stroke="#fe9e2f" d="M241.2 138.3h0"/>
<path stroke="#fe962b" d="M241.3 135.4h0"/>
<path stroke="#fe9029" d="M241.4 134.4h0"/>
<path stroke="#fe9e2f" d="M241.5 132.9h0"/>
<path stroke="#fe9029" d="M241.6 128.9h0M241.8 128.0h0"/>
<path stroke="#fe962b" d="M241.9 125.8h0"/>
<path stroke="#fe9029" d="M242.0 123.0h0"/>
<path stroke="#fe9e2f" d="M242.1 120.3h0M242.3 118.2h0"/>
<path stroke="#fdac34" d="M242.4 117.8h0"/>
<path stroke="#fea732" d="M242.5 115.6h0"/>
<path stroke="#fdac34" d="M242.6 114.6h0"/>
<path stroke="#fea732" d="M242.7 112.0h0"/>
<path stroke="#fcb336" d="M242.9 110.4h0"/>
<path stroke="#fea732" d="M243.0 110.2h0"/>
<path stroke="#fcb336" d="M243.1 107.7h0M243.2 108.2h0M243.3 106.6h0"/>
<path stroke="#fdac34" d="M243.5 108.8h0M243.6 106.4h0"/>
<path stroke="#faba39" d="M243.7 107.3h0"/>
<path stroke="#fdac34" d="M243.8 106.5h0"/>
<path stroke="#faba39" d="M243.9 106.4h0"/>
<path stroke="#fdac34" d="M244.1 107.2h0"/>
<path stroke="#faba39" d="M244.2 108.8h0"/>
<path stroke="#fea732" d="M244.3 108.1h0"/>
<path stroke="#f8be39" d="M244.4 107.6h0"/>
<path stroke="#faba39" d="M244.5 109.4h0"/>
<path stroke="#f5c53a" d="M244.7 108.8h0"/>
<path stroke="#faba39" d="M244.8 108.3h0"/>
<path stroke="#f8be39" d="M244.9 109.1h0"/>
<path stroke="#fdac34" d="M245.0 109.5h0"/>
<path stroke="#fcb336" d="M245.1 110.7h0"/>
<path stroke="#fdac34" d="M245.3 109.9h0"/>
<path stroke="#fea732" d="M245.4 110.6h0"/>
<path stroke="#fcb336" d="M245.5 110.1h0"/>
<path stroke="#f8be39" d="M245.6 109.4h0M245.7 109.8h0"/>
<path stroke="#faba39" d="M245.9 109.4h0"/>
<path stroke="#f8be39" d="M246.0 110.1h0M246.1 111.2h0"/>
<path stroke="#faba39" d="M246.2 112.7h0"/>
<path stroke="#fdac34" d="M246.3 113.1h0"/>
<path stroke="#f1cb3a" d="M246.5 114.8h0"/>
<path stroke="#faba39" d="M246.6 113.8h0"/>
<path stroke="#f5c53a" d="M246.7 113.3h0"/>
<path stroke="#f8be39" d="M246.8 111.6h0"/>
<path stroke="#f5c53a" d="M246.9 111.7h0"/>
<path stroke="#fdac34" d="M247.1 110.9h0"/>
<path stroke="#f5c53a" d="M247.2 111.8h0"/>
<path stroke="#faba39" d="M247.3 113.3h0"/>
<path stroke="#fdac34" d="M247.4 112.5h0M247.5 113.3h0"/>
<path stroke="#faba39" d="M247.7 113.7h0"/>
<path stroke="#fcb336" d="M247.8 114.8h0"/>
<path stroke="#fdac34" d="M247.9 115.0h0"/>
<path stroke="#fcb336" d="M248.0 111.5h0"/>
<path stroke="#f5c53a" d="M248.1 111.6h0M248.3 112.4h0"/>
<path stroke="#f1cb3a" d="M248.4 113.3h0"/>
<path stroke="#f8be39" d="M248.5 112.5h0"/>
<path stroke="#f5c53a" d="M248.6 113.2h0"/>
<path stroke="#f8be39" d="M248.7 115.4h0"/>
<path stroke="#f1cb3a" d="M248.9 115.7h0M249.0 115.2h0"/>
<path stroke="#f5c53a" d="M249.1 117.0h0"/>
<path stroke="#f1cb3a" d="M249.2 115.2h0"/>
<path stroke="#faba39" d="M249.3 116.3h0"/>
<path stroke="#eecf3a" d="M249.5 115.7h0"/>
<path stroke="#f5c53a" d="M249.6 117.6h0"/>
<path stroke="#e3db38" d="M249.7 117.7h0"/>
<path stroke="#e9d539" d="M249.8 117.4h0"/>
<path stroke="#dfdf37" d="M249.9 116.6h0M250.1 120.6h0M250.2 121.0h0"/>
<path stroke="#d9e436" d="M250.3 120.3h0"/>
<path stroke="#d2e935" d="M250.4 120.3h0M250.5 120.3h0"/>
<path stroke="#eecf3a" d="M250.7 122.4h0"/>
<path stroke="#e3db38" d="M250.8 125.2h0"/>
<path stroke="#d9e436" d="M250.9 126.5h0"/>
<path stroke="#dfdf37" d="M251.0 125.6h0"/>
<path stroke="#cdec34" d="M251.1 126.3h0"/>
<path stroke="#b1f936" d="M251.3 125.9h0"/>
<path stroke="#cdec34" d="M251.4 125.9h0"/>
<path stroke="#d2e935" d="M251.5 127.0h0"/>
<path stroke="#bef434" d="M251.6 124.9h0"/>
<path stroke="#c6f034" d="M251.7 127.1h0M251.9 126.3h0"/>
<path stroke="#b1f936" d="M252.0 127.7h0"/>
<path stroke="#c6f034" d="M252.1 127.6h0"/>
<path stroke="#bef434" d="M252.2 127.8h0"/>
<path stroke="#b1f936" d="M252.3 127.9h0M252.5 127.6h0"/>
<path stroke="#a4fc3c" d="M252.6 127.7h0"/>
<path stroke="#bef434" d="M252.7 128.8h0M252.8 129.3h0"/>
<path stroke="#b9f635" d="M252.9 130.2h0"/>
<path stroke="#8bff4b" d="M253.1 129.6h0"/>
<path stroke="#a9fb39" d="M253.2 128.5h0"/>
<path stroke="#80ff53" d="M253.3 129.7h0"/>
<path stroke="#92ff47" d="M253.4 129.2h0"/>
<path stroke="#80ff53" d="M253.5 133.1h0"/>
<path stroke="#b9f635" d="M253.7 131.7h0"/>
<path stroke="#9cfe40" d="M253.8 132.3h0"/>
<path stroke="#80ff53" d="M253.9 135.1h0"/>
<path stroke="#92ff47" d="M254.0 136.4h0"/>
<path stroke="#b1f936" d="M254.2 135.7h0"/>
<path stroke="#75fe5c" d="M254.3 134.4h0"/>
<path stroke="#a4fc3c" d="M254.4 137.4h0"/>
<path stroke="#9cfe40" d="M254.5 135.9h0"/>
<path stroke="#6dfe62" d="M254.6 136.6h0"/>
<path stroke="#92ff47" d="M254.8 138.5h0"/>
<path stroke="#9cfe40" d="M254.9 138.7h0"/>
<path stroke="#8bff4b" d="M255.0 138.5h0"/>
<path stroke="#80ff53" d="M255.1 139.9h0M255.2 141.8h0"/>
<path stroke="#a4fc3c" d="M255.4 145.2h0"/>
<path stroke="#b9f635" d="M255.5 144.4h0"/>
<path stroke="#a4fc3c" d="M255.6 146.7h0"/>
<path stroke="#a9fb39" d="M255.7 145.9h0"/>
<path stroke="#92ff47" d="M255.8 146.8h0"/>
<path stroke="#80ff53" d="M256.0 146.5h0"/>
<path stroke="#b1f936" d="M256.1 147.0h0M256.2 150.1h0"/>
<path stroke="#8bff4b" d="M256.3 150.6h0"/>
<path stroke="#9cfe40" d="M256.4 152.2h0M256.6 151.4h0"/>
<path stroke="#a4fc3c" d="M256.7 150.4h0"/>
<path stroke="#92ff47" d="M256.8 150.1h0"/>
<path stroke="#8bff4b" d="M256.9 151.8h0M257.0 151.6h0"/>
<path stroke="#43f787" d="M257.2 152.3h0"/>
<path stroke="#a4fc3c" d="M257.3 154.2h0"/>
<path stroke="#61fc6c" d="M257.4 153.9h0"/>
<path stroke="#75fe5c" d="M257.5 153.1h0"/>
<path stroke="#43f787" d="M257.6 154.2h0"/>
<path stroke="#6dfe62" d="M257.8 155.8h0"/>
<path stroke="#43f787" d="M257.9 158.1h0"/>
<path stroke="#55fa76" d="M258.0 158.3h0M258.1 156.9h0"/>
<path stroke="#80ff53" d="M258.2 156.1h0"/>
<path stroke="#61fc6c" d="M258.4 158.0h0"/>
<path stroke="#43f787" d="M258.5 162.3h0"/>
<path stroke="#80ff53" d="M258.6 163.6h0"/>
<path stroke="#38f491" d="M258.7 164.6h0"/>
<path stroke="#8bff4b" d="M258.8 164.6h0"/>
<path stroke="#55fa76" d="M259.0 165.0h0"/>
<path stroke="#80ff53" d="M259.1 166.5h0"/>
<path stroke="#6dfe62" d="M259.2 167.7h0M259.3 168.4h0"/>
<path stroke="#8bff4b" d="M259.4 170.2h0"/>
<path stroke="#61fc6c" d="M259.6 169.0h0"/>
<path stroke="#75fe5c" d="M259.7 168.0h0"/>
<path stroke="#4ef97d" d="M259.8 166.2h0M259.9 167.2h0"/>
<path stroke="#61fc6c" d="M260.0 170.3h0"/>
<path stroke="#80ff53" d="M260.2 171.8h0"/>
<path stroke="#55fa76" d="M260.3 170.0h0M260.4 173.3h0"/>
<path stroke="#4ef97d" d="M260.5 175.1h0M260.6 176.6h0"/>
<path stroke="#61fc6c" d="M260.8 175.7h0"/>
<path stroke="#4ef97d" d="M260.9 178.4h0"/>
<path stroke="#38f491" d="M261.0 180.3h0"/>
<path stroke="#80ff53" d="M261.1 178.2h0"/>
<path stroke="#38f491" d="M261.2 180.5h0"/>
<path stroke="#4ef97d" d="M261.4 181.9h0"/>
<path stroke="#6dfe62" d="M261.5 186.2h0"/>
<path stroke="#55fa76" d="M261.6 187.3h0"/>
<path stroke="#4ef97d" d="M261.7 190.3h0"/>
<path stroke="#6dfe62" d="M261.8 192.1h0M262.0 192.6h0"/>
<path stroke="#8bff4b" d="M262.1 195.8h0"/>
<path stroke="#55fa76" d="M262.2 195.7h0"/>
<path stroke="#80ff53" d="M262.3 199.1h0"/>
<path stroke="#92ff47" d="M262.4 201.6h0"/>
<path stroke="#a4fc3c" d="M262.6 198.8h0M262.7 200.9h0"/>
<path stroke="#80ff53" d="M262.8 200.6h0"/>
<path stroke="#92ff47" d="M262.9 202.7h0M263.0 204.4h0"/>
<path stroke="#a4fc3c" d="M263.2 205.8h0"/>
<path stroke="#a9fb39" d="M263.3 207.4h0"/>
<path stroke="#b9f635" d="M263.4 207.3h0"/>
<path stroke="#a9fb39" d="M263.5 208.9h0"/>
<path stroke="#b1f936" d="M263.6 210.3h0"/>
<path stroke="#b9f635" d="M263.8 212.0h0"/>
<path stroke="#a9fb39" d="M263.9 213.7h0"/>
<path stroke="#b1f936" d="M264.0 213.4h0M264.1 217.1h0"/>
<path stroke="#c6f034" d="M264.2 217.9h0"/>
<path stroke="#d2e935" d="M264.4 221.0h0"/>
<path stroke="#bef434" d="M264.5 218.9h0"/>
<path stroke="#d2e935" d="M264.6 221.5h0"/>
<path stroke="#d9e436" d="M264.7 223.6h0"/>
<path stroke="#e3db38" d="M264.8 225.3h0"/>
<path stroke="#e9d539" d="M265.0 227.5h0"/>
<path stroke="#e3db38" d="M265.1 227.9h0"/>
<path stroke="#eecf3a" d="M265.2 230.4h0"/>
<path stroke="#e3db38" d="M265.3 230.3h0"/>
<path stroke="#e9d539" d="M265.4 233.6h0"/>
<path stroke="#e3db38" d="M265.6 235.8h0"/>
<path stroke="#dfdf37" d="M265.7 237.1h0"/>
<path stroke="#e3db38" d="M265.8 239.5h0"/>
<path stroke="#f1cb3a" d="M265.9 241.3h0"/>
<path stroke="#f8be39" d="M266.1 244.2h0"/>
<path stroke="#dfdf37" d="M266.2 244.0h0"/>
<path stroke="#f5c53a" d="M266.3 247.0h0"/>
<path stroke="#f8be39" d="M266.4 249.0h0"/>
<path stroke="#f1cb3a" d="M266.5 251.0h0"/>
<path stroke="#faba39" d="M266.7 251.5h0"/>
<path stroke="#eecf3a" d="M266.8 255.5h0"/>
<path stroke="#faba39" d="M266.9 255.9h0"/>
<path stroke="#f5c53a" d="M267.0 259.2h0"/>
<path stroke="#fdac34" d="M267.1 262.6h0"/>
<path stroke="#faba39" d="M267.3 264.9h0"/>
<path stroke="#eecf3a" d="M267.4 264.4h0"/>
<path stroke="#f8be39" d="M267.5 267.5h0"/>
<path stroke="#faba39" d="M267.6 268.5h0"/>
<path stroke="#eecf3a" d="M267.7 267.9h0"/>
<path stroke="#fcb336" d="M267.9 271.7h0"/>
<path stroke="#faba39" d="M268.0 272.7h0"/>
<path stroke="#eecf3a" d="M268.1 273.3h0"/>
<path stroke="#fcb336" d="M268.2 278.8h0"/>
<path stroke="#f8be39" d="M268.3 281.0h0"/>
<path stroke="#f5c53a" d="M268.5 281.0h0"/>
<path stroke="#f1cb3a" d="M268.6 283.5h0"/>
<path stroke="#f8be39" d="M268.7 284.9h0"/>
<path stroke="#f1cb3a" d="M268.8 287.7h0"/>
<path stroke="#f5c53a" d="M268.9 289.9h0"/>
<path stroke="#eecf3a" d="M269.1 291.8h0"/>
<path stroke="#f1cb3a" d="M269.2 293.7h0"/>
<path stroke="#f5c53a" d="M269.3 296.7h0"/>
<path stroke="#faba39" d="M269.4 298.2h0M269.5 301.4h0"/>
<path stroke="#f5c53a" d="M269.7 302.8h0"/>
<path stroke="#f1cb3a" d="M269.8 307.9h0"/>
<path stroke="#eecf3a" d="M269.9 308.5h0"/>
<path stroke="#f5c53a" d="M270.0 309.9h0"/>
<path stroke="#dfdf37" d="M270.1 313.9h0"/>
<path stroke="#b9f635" d="M270.3 314.2h0"/>
<path stroke="#b1f936" d="M270.4 313.0h0"/>
<path stroke="#cdec34" d="M270.5 308.4h0"/>
<path stroke="#a9fb39" d="M270.6 305.5h0"/>
<path stroke="#d2e935" d="M270.7 302.4h0"/>
<path stroke="#d9e436" d="M270.9 298.4h0"/>
<path stroke="#a9fb39" d="M271.0 298.1h0"/>
<path stroke="#75fe5c" d="M271.1 295.4h0"/>
<path stroke="#b9f635" d="M271.2 289.0h0M271.3 282.0h0"/>
<path stroke="#b1f936" d="M271.5 280.3h0"/>
<path stroke="#8bff4b" d="M271.6 280.2h0"/>
<path stroke="#75fe5c" d="M271.7 283.9h0"/>
<path stroke="#8bff4b" d="M271.8 280.8h0"/>
<path stroke="#2aefa1" d="M271.9 284.4h0"/>
<path stroke="#55fa76" d="M272.1 287.1h0M272.2 289.1h0"/>
<path stroke="#80ff53" d="M272.3 290.3h0"/>
<path stroke="#18ddc2" d="M272.4 294.5h0"/>
<path stroke="#4ef97d" d="M272.5 291.5h0M272.7 268.5h0"/>
<path stroke="#1fe9af" d="M272.8 250.6h0"/>
<path stroke="#38f491" d="M272.9 263.8h0"/>
<path stroke="#1ae4b6" d="M273.0 271.1h0"/>
<path stroke="#55fa76" d="M273.1 251.2h0"/>
<path stroke="#1ad2d2" d="M273.3 258.0h0"/>
<path stroke="#22ebaa" d="M273.4 255.4h0"/>
<path stroke="#4ef97d" d="M273.5 254.3h0"/>
<path stroke="#38f491" d="M273.6 251.0h0"/>
<path stroke="#55fa76" d="M273.7 251.7h0"/>
<path stroke="#4ef97d" d="M273.9 255.1h0"/>
<path stroke="#18e0bd" d="M274.0 266.5h0"/>
<path stroke="#32f298" d="M274.1 277.0h0"/>
<path stroke="#38f491" d="M274.2 288.3h0M274.3 301.2h0"/>
<path stroke="#4ef97d" d="M274.5 298.3h0"/>
<path stroke="#1ae4b6" d="M274.6 296.0h0"/>
<path stroke="#32f298" d="M274.7 287.8h0"/>
<path stroke="#55fa76" d="M274.8 290.5h0"/>
<path stroke="#1ad2d2" d="M274.9 285.0h0"/>
<path stroke="#1fe9af" d="M275.1 272.4h0"/>
<path stroke="#28bceb" d="M275.2 283.5h0"/>
<path stroke="#32f298" d="M275.3 289.2h0"/>
<path stroke="#22ebaa" d="M275.4 262.2h0"/>
<path stroke="#18e0bd" d="M275.5 249.5h0M275.7 252.3h0M275.8 249.3h0"/>
<path stroke="#2aefa1" d="M275.9 262.4h0"/>
<path stroke="#18d7ca" d="M276.0 268.0h0"/>
<path stroke="#61fc6c" d="M276.1 274.2h0"/>
<path stroke="#1fe9af" d="M276.3 284.5h0"/>
<path stroke="#22ebaa" d="M276.4 294.2h0"/>
<path stroke="#32f298" d="M276.5 289.6h0"/>
<path stroke="#1ccdd8" d="M276.6 291.4h0"/>
<path stroke="#32f298" d="M276.7 291.7h0"/>
<path stroke="#1fe9af" d="M276.9 295.9h0"/>
<path stroke="#1ad2d2" d="M277.0 296.9h0"/>
<path stroke="#1ccdd8" d="M277.1 306.2h0"/>
<path stroke="#18d7ca" d="M277.2 305.4h0M277.3 295.3h0"/>
<path stroke="#25c0e7" d="M277.5 292.4h0"/>
<path stroke="#1ae4b6" d="M277.6 280.1h0"/>
<path stroke="#43f787" d="M277.7 282.8h0"/>
<path stroke="#55fa76" d="M277.8 295.7h0"/>
<path stroke="#43f787" d="M278.0 285.9h0"/>
<path stroke="#80ff53" d="M278.1 268.6h0"/>
<path stroke="#2aefa1" d="M278.2 269.0h0"/>
<path stroke="#8bff4b" d="M278.2 229.9h0"/>
<path stroke="#38f491" d="M278.3 266.2h0"/>
<path stroke="#43f787" d="M278.4 268.5h0"/>
<path stroke="#22ebaa" d="M278.6 265.4h0"/>
<path stroke="#61fc6c" d="M278.7 268.8h0"/>
<path stroke="#1ad2d2" d="M278.8 259.6h0"/>
<path stroke="#2aefa1" d="M278.9 277.6h0M279.0 277.3h0"/>
<path stroke="#32f298" d="M279.2 281.5h0"/>
<path stroke="#9cfe40" d="M279.3 287.4h0"/>
<path stroke="#55fa76" d="M279.4 284.6h0"/>
<path stroke="#38f491" d="M279.5 286.8h0"/>
<path stroke="#80ff53" d="M279.6 282.7h0"/>
<path stroke="#8bff4b" d="M279.6 237.9h0"/>
<path stroke="#32f298" d="M279.8 276.7h0"/>
<path stroke="#2aefa1" d="M279.9 275.2h0"/>
<path stroke="#1ae4b6" d="M280.0 281.8h0"/>
<path stroke="#1ad2d2" d="M280.1 268.4h0"/>
<path stroke="#92ff47" d="M280.2 260.9h0"/>
<path stroke="#32f298" d="M280.4 256.7h0"/>
<path stroke="#1fe9af" d="M280.5 255.8h0M280.6 271.7h0"/>
<path stroke="#2aefa1" d="M280.7 271.4h0"/>
<path stroke="#55fa76" d="M280.8 270.0h0"/>
<path stroke="#43f787" d="M281.0 273.2h0"/>
<path stroke="#18e0bd" d="M281.1 284.9h0"/>
<path stroke="#38f491" d="M281.2 275.4h0"/>
<path stroke="#8bff4b" d="M281.3 286.4h0"/>
<path stroke="#75fe5c" d="M281.4 262.3h0"/>
<path stroke="#a4fc3c" d="M281.6 256.4h0"/>
<path stroke="#75fe5c" d="M281.7 275.4h0"/>
<path stroke="#43f787" d="M281.8 291.6h0"/>
<path stroke="#b9f635" d="M281.9 289.3h0"/>
<path stroke="#75fe5c" d="M282.0 283.7h0"/>
<path stroke="#92ff47" d="M282.2 290.8h0"/>
<path stroke="#9cfe40" d="M282.3 285.2h0"/>
<path stroke="#8bff4b" d="M282.4 297.1h0"/>
<path stroke="#2aefa1" d="M282.5 305.3h0"/>
<path stroke="#a4fc3c" d="M282.6 305.6h0"/>
<path stroke="#38f491" d="M282.8 293.1h0"/>
<path stroke="#8bff4b" d="M282.9 300.6h0"/>
<path stroke="#43f787" d="M283.0 293.0h0"/>
<path stroke="#75fe5c" d="M283.1 288.4h0"/>
<path stroke="#8bff4b" d="M283.2 282.6h0"/>
<path stroke="#1ae4b6" d="M283.4 280.7h0"/>
<path stroke="#2aefa1" d="M283.5 286.1h0"/>
<path stroke="#92ff47" d="M283.6 292.9h0"/>
<path stroke="#61fc6c" d="M283.7 297.8h0"/>
<path stroke="#4ef97d" d="M283.8 306.9h0"/>
<path stroke="#b9f635" d="M284.0 307.5h0"/>
<path stroke="#a9fb39" d="M284.1 307.0h0"/>
<path stroke="#8bff4b" d="M284.2 305.6h0"/>
<path stroke="#b9f635" d="M284.3 298.4h0"/>
<path stroke="#75fe5c" d="M284.4 283.2h0"/>
<path stroke="#b1f936" d="M284.6 294.7h0"/>
<path stroke="#b9f635" d="M284.7 293.9h0"/>
<path stroke="#a9fb39" d="M284.8 293.5h0"/>
<path stroke="#6dfe62" d="M284.9 289.4h0"/>
<path stroke="#a9fb39" d="M285.0 296.6h0"/>
<path stroke="#b1f936" d="M285.2 289.0h0"/>
<path stroke="#c6f034" d="M285.3 292.7h0"/>
<path stroke="#61fc6c" d="M285.4 308.8h0"/>
<path stroke="#4ef97d" d="M285.5 306.0h0"/>
<path stroke="#8bff4b" d="M285.6 294.8h0"/>
<path stroke="#4ef97d" d="M285.8 283.4h0"/>
<path stroke="#a4fc3c" d="M285.9 290.1h0"/>
<path stroke="#6dfe62" d="M286.0 290.6h0"/>
<path stroke="#55fa76" d="M286.1 280.5h0"/>
<path stroke="#2aefa1" d="M286.2 273.9h0"/>
<path stroke="#80ff53" d="M286.4 276.4h0"/>
<path stroke="#32f298" d="M286.5 266.8h0"/>
<path stroke="#a9fb39" d="M286.6 291.3h0"/>
<path stroke="#61fc6c" d="M286.7 288.7h0"/>
<path stroke="#4ef97d" d="M286.8 288.0h0"/>
<path stroke="#43f787" d="M287.0 288.3h0"/>
<path stroke="#1fe9af" d="M287.1 275.2h0"/>
<path stroke="#43f787" d="M287.2 272.4h0"/>
<path stroke="#1ae4b6" d="M287.3 276.9h0"/>
<path stroke="#2aefa1" d="M287.4 282.2h0"/>
<path stroke="#1ae4b6" d="M287.6 281.9h0"/>
<path stroke="#4ef97d" d="M287.7 292.3h0M287.8 296.0h0"/>
<path stroke="#22ebaa" d="M287.9 300.8h0"/>
<path stroke="#38f491" d="M288.0 299.9h0M288.2 292.1h0"/>
<path stroke="#43f787" d="M288.3 284.4h0"/>
<path stroke="#75fe5c" d="M288.4 277.7h0"/>
<path stroke="#6dfe62" d="M288.5 261.5h0"/>
<path stroke="#75fe5c" d="M288.6 249.0h0"/>
<path stroke="#80ff53" d="M288.8 238.9h0"/>
<path stroke="#61fc6c" d="M288.9 229.6h0"/>
<path stroke="#4ef97d" d="M289.0 219.9h0"/>
<path stroke="#43f787" d="M289.1 215.4h0"/>
<path stroke="#6dfe62" d="M289.2 209.8h0"/>
<path stroke="#80ff53" d="M289.4 205.0h0"/>
<path stroke="#a4fc3c" d="M289.5 201.9h0"/>
<path stroke="#9cfe40" d="M289.6 194.5h0M289.7 196.2h0"/>
<path stroke="#bef434" d="M289.9 185.6h0"/>
<path stroke="#e3db38" d="M290.0 155.8h0"/>
<path stroke="#cdec34" d="M290.1 127.8h0"/>
<path stroke="#bef434" d="M290.2 114.8h0"/>
<path stroke="#c6f034" d="M290.3 117.5h0"/>
<path stroke="#cdec34" d="M290.5 120.7h0"/>
<path stroke="#c6f034" d="M290.6 123.2h0M290.7 126.6h0"/>
<path stroke="#b1f936" d="M290.8 129.4h0"/>
<path stroke="#cdec34" d="M290.9 131.6h0"/>
<path stroke="#bef434" d="M291.1 134.8h0"/>
<path stroke="#c6f034" d="M291.2 136.9h0"/>
<path stroke="#bef434" d="M291.3 143.7h0M291.4 149.5h0"/>
<path stroke="#b1f936" d="M291.5 154.3h0"/>
<path stroke="#b9f635" d="M291.7 160.9h0"/>
<path stroke="#b1f936" d="M291.8 167.1h0"/>
<path stroke="#a9fb39" d="M291.9 171.6h0"/>
<path stroke="#b9f635" d="M292.0 177.4h0M292.1 184.6h0"/>
<path stroke="#b1f936" d="M292.3 183.4h0M292.4 178.3h0"/>
<path stroke="#a9fb39" d="M292.5 173.9h0"/>
<path stroke="#bef434" d="M292.6 168.6h0"/>
<path stroke="#b1f936" d="M292.7 164.0h0"/>
<path stroke="#b9f635" d="M292.9 159.9h0"/>
<path stroke="#a9fb39" d="M293.0 154.4h0"/>
<path stroke="#bef434" d="M293.1 148.9h0"/>
<path stroke="#b1f936" d="M293.2 143.1h0"/>
<path stroke="#b9f635" d="M293.3 142.2h0M293.5 138.2h0"/>
<path stroke="#bef434" d="M293.6 136.5h0M293.7 133.1h0"/>
<path stroke="#cdec34" d="M293.8 130.7h0"/>
<path stroke="#bef434" d="M293.9 126.9h0"/>
<path stroke="#b9f635" d="M294.1 125.1h0"/>
<path stroke="#bef434" d="M294.2 120.8h0"/>
<path stroke="#b9f635" d="M294.3 118.7h0"/>
<path stroke="#bef434" d="M294.4 116.8h0"/>
<path stroke="#d2e935" d="M294.5 113.1h0"/>
<path stroke="#a4fc3c" d="M294.7 111.7h0"/>
<path stroke="#c6f034" d="M294.8 113.4h0"/>
<path stroke="#b1f936" d="M294.9 112.3h0"/>
<path stroke="#c6f034" d="M295.0 112.5h0"/>
<path stroke="#a9fb39" d="M295.1 113.4h0"/>
<path stroke="#b9f635" d="M295.3 113.8h0"/>
<path stroke="#bef434" d="M295.4 114.6h0M295.5 113.0h0"/>
<path stroke="#d2e935" d="M295.6 114.1h0"/>
<path stroke="#c6f034" d="M295.7 113.7h0"/>
<path stroke="#b9f635" d="M295.9 113.2h0M296.0 115.3h0"/>
<path stroke="#bef434" d="M296.1 115.4h0M296.2 112.8h0"/>
<path stroke="#c6f034" d="M296.3 115.2h0"/>
<path stroke="#b1f936" d="M296.5 116.3h0"/>
<path stroke="#c6f034" d="M296.6 118.2h0"/>
<path stroke="#b9f635" d="M296.7 117.9h0M296.8 118.9h0"/>
<path stroke="#bef434" d="M296.9 117.8h0"/>
<path stroke="#c6f034" d="M297.1 118.7h0"/>
<path stroke="#b9f635" d="M297.2 120.8h0"/>
<path stroke="#b1f936" d="M297.3 122.1h0M297.4 118.1h0"/>
<path stroke="#a4fc3c" d="M297.5 118.7h0"/>
<path stroke="#a9fb39" d="M297.7 117.4h0"/>
<path stroke="#b9f635" d="M297.8 117.6h0"/>
<path stroke="#b1f936" d="M297.9 119.1h0"/>
<path stroke="#cdec34" d="M298.0 120.4h0"/>
<path stroke="#b9f635" d="M298.1 119.4h0"/>
<path stroke="#c6f034" d="M298.3 118.3h0"/>
<path stroke="#bef434" d="M298.4 115.6h0"/>
<path stroke="#b9f635" d="M298.5 113.3h0"/>
<path stroke="#c6f034" d="M298.6 115.8h0"/>
<path stroke="#bef434" d="M298.7 113.6h0M298.9 115.0h0"/>
<path stroke="#cdec34" d="M299.0 115.8h0M299.1 113.0h0"/>
<path stroke="#b9f635" d="M299.2 116.4h0"/>
<path stroke="#b1f936" d="M299.3 118.0h0"/>
<path stroke="#d2e935" d="M299.5 114.9h0"/>
<path stroke="#bef434" d="M299.6 114.4h0"/>
<path stroke="#d9e436" d="M299.7 115.1h0"/>
<path stroke="#d2e935" d="M299.8 115.3h0"/>
<path stroke="#bef434" d="M299.9 113.4h0"/>
<path stroke="#a9fb39" d="M300.1 115.0h0"/>
<path stroke="#d2e935" d="M300.2 115.6h0"/>
<path stroke="#bef434" d="M300.3 114.9h0"/>
<path stroke="#d2e935" d="M300.4 117.6h0"/>
<path stroke="#cdec34" d="M300.5 116.6h0"/>
<path stroke="#d2e935" d="M300.7 118.3h0"/>
<path stroke="#c6f034" d="M300.8 118.9h0"/>
<path stroke="#b9f635" d="M300.9 117.2h0"/>
<path stroke="#d2e935" d="M301.0 116.2h0"/>
<path stroke="#b9f635" d="M301.1 116.6h0"/>
<path stroke="#c6f034" d="M301.3 116.0h0"/>
<path stroke="#bef434" d="M301.4 115.6h0"/>
<path stroke="#c6f034" d="M301.5 118.3h0"/>
<path stroke="#bef434" d="M301.6 118.7h0"/>
<path stroke="#c6f034" d="M301.8 119.5h0"/>
<path stroke="#cdec34" d="M301.9 118.2h0"/>
<path stroke="#e9d539" d="M302.0 159.4h0"/>
<path stroke="#c6f034" d="M302.0 121.7h0"/>
<path stroke="#bef434" d="M302.1 143.8h0"/>
<path stroke="#cdec34" d="M302.2 145.9h0"/>
<path stroke="#b1f936" d="M302.4 149.1h0"/>
<path stroke="#bef434" d="M302.5 152.3h0"/>
<path stroke="#d2e935" d="M302.6 154.3h0"/>
<path stroke="#e3db38" d="M302.7 156.4h0"/>
<path stroke="#d2e935" d="M302.8 160.0h0"/>
<path stroke="#e3db38" d="M302.8 149.3h0"/>
<path stroke="#d2e935" d="M303.0 161.9h0M303.1 163.7h0M303.2 164.4h0M303.3 165.7h0M303.4 165.9h0"/>
<path stroke="#c6f034" d="M303.6 168.3h0"/>
<path stroke="#d2e935" d="M303.7 168.7h0M303.8 172.5h0"/>
<path stroke="#cdec34" d="M303.9 171.5h0"/>
<path stroke="#d2e935" d="M304.0 174.2h0"/>
<path stroke="#cdec34" d="M304.2 175.0h0"/>
<path stroke="#c6f034" d="M304.3 176.4h0"/>
<path stroke="#cdec34" d="M304.4 177.8h0"/>
<path stroke="#b1f936" d="M304.5 178.4h0"/>
<path stroke="#b9f635" d="M304.6 179.5h0"/>
<path stroke="#d2e935" d="M304.8 181.9h0"/>
<path stroke="#cdec34" d="M304.9 181.7h0M305.0 183.2h0"/>
<path stroke="#c6f034" d="M305.1 185.5h0"/>
<path stroke="#b1f936" d="M305.2 185.5h0"/>
<path stroke="#cdec34" d="M305.4 188.1h0"/>
<path stroke="#a9fb39" d="M305.5 187.8h0"/>
<path stroke="#bef434" d="M305.6 190.2h0"/>
<path stroke="#b1f936" d="M305.7 192.9h0"/>
<path stroke="#bef434" d="M305.8 194.2h0"/>
<path stroke="#a9fb39" d="M306.0 195.9h0"/>
<path stroke="#b9f635" d="M306.1 197.7h0"/>
<path stroke="#b1f936" d="M306.2 199.1h0"/>
<path stroke="#a9fb39" d="M306.3 201.3h0M306.4 203.0h0"/>
<path stroke="#b1f936" d="M306.6 205.7h0"/>
<path stroke="#a4fc3c" d="M306.7 207.5h0M306.8 209.2h0"/>
<path stroke="#a9fb39" d="M306.9 211.1h0"/>
<path stroke="#9cfe40" d="M307.0 212.7h0"/>
<path stroke="#b1f936" d="M307.2 215.3h0"/>
<path stroke="#d9e436" d="M307.3 217.1h0M307.4 217.6h0"/>
<path stroke="#e3db38" d="M307.5 220.4h0"/>
<path stroke="#f5c53a" d="M307.6 220.3h0"/>
<path stroke="#dfdf37" d="M307.8 217.9h0M307.9 214.8h0"/>
<path stroke="#cdec34" d="M308.0 213.5h0"/>
<path stroke="#a9fb39" d="M308.1 211.0h0M308.2 209.8h0"/>
<path stroke="#92ff47" d="M308.4 208.4h0M308.5 205.6h0"/>
<path stroke="#8bff4b" d="M308.6 203.2h0"/>
<path stroke="#9cfe40" d="M308.7 201.6h0"/>
<path stroke="#92ff47" d="M308.8 199.2h0"/>
<path stroke="#8bff4b" d="M309.0 195.7h0"/>
<path stroke="#80ff53" d="M309.1 196.0h0"/>
<path stroke="#8bff4b" d="M309.2 193.0h0"/>
<path stroke="#a4fc3c" d="M309.3 190.6h0"/>
<path stroke="#9cfe40" d="M309.4 187.6h0"/>
<path stroke="#a9fb39" d="M309.6 185.6h0"/>
<path stroke="#a4fc3c" d="M309.7 182.9h0"/>
<path stroke="#92ff47" d="M309.8 181.0h0M309.9 178.6h0M310.0 177.3h0"/>
<path stroke="#9cfe40" d="M310.2 174.1h0M310.3 172.6h0M310.4 171.2h0"/>
<path stroke="#8bff4b" d="M310.5 166.0h0"/>
<path stroke="#9cfe40" d="M310.6 164.9h0M310.8 162.7h0"/>
<path stroke="#a4fc3c" d="M310.9 160.3h0"/>
<path stroke="#bef434" d="M311.0 158.1h0"/>
<path stroke="#9cfe40" d="M311.1 155.6h0"/>
<path stroke="#a9fb39" d="M311.2 154.2h0"/>
<path stroke="#a4fc3c" d="M311.4 150.9h0"/>
<path stroke="#b1f936" d="M311.5 147.5h0"/>
<path stroke="#b9f635" d="M311.6 146.7h0M311.7 142.6h0"/>
<path stroke="#bef434" d="M311.8 140.8h0"/>
<path stroke="#b1f936" d="M312.0 140.0h0"/>
<path stroke="#bef434" d="M312.1 136.7h0"/>
<path stroke="#cdec34" d="M312.2 135.0h0"/>
<path stroke="#d9e436" d="M312.3 133.9h0"/>
<path stroke="#b9f635" d="M312.4 132.9h0"/>
<path stroke="#cdec34" d="M312.6 131.8h0M312.7 129.0h0M312.8 129.7h0"/>
<path stroke="#e3db38" d="M312.9 128.2h0"/>
<path stroke="#e9d539" d="M313.0 126.1h0"/>
<path stroke="#dfdf37" d="M313.2 125.1h0"/>
<path stroke="#f1cb3a" d="M313.3 125.6h0"/>
<path stroke="#faba39" d="M313.4 123.5h0"/>
<path stroke="#f1cb3a" d="M313.5 121.5h0"/>
<path stroke="#f8be39" d="M313.7 122.6h0M313.8 121.2h0"/>
<path stroke="#fdac34" d="M313.9 119.8h0"/>
<path stroke="#fea732" d="M314.0 120.0h0"/>
<path stroke="#fcb336" d="M314.1 118.2h0M314.3 117.6h0"/>
<path stroke="#f8be39" d="M314.4 116.2h0"/>
<path stroke="#fcb336" d="M314.5 115.5h0"/>
<path stroke="#fe9e2f" d="M314.6 114.0h0M314.7 113.4h0M314.9 113.1h0"/>
<path stroke="#fdac34" d="M315.0 112.1h0"/>
<path stroke="#fea732" d="M315.1 111.0h0"/>
<path stroke="#fdac34" d="M315.2 110.8h0"/>
<path stroke="#fea732" d="M315.3 110.3h0"/>
<path stroke="#fdac34" d="M315.5 108.6h0"/>
<path stroke="#fea732" d="M315.6 108.5h0"/>
<path stroke="#fe9e2f" d="M315.7 108.3h0"/>
<path stroke="#fdac34" d="M315.8 108.5h0"/>
<path stroke="#faba39" d="M315.9 107.5h0"/>
<path stroke="#fdac34" d="M316.1 105.0h0"/>
<path stroke="#fe9e2f" d="M316.2 104.6h0M316.3 104.0h0"/>
<path stroke="#fe9029" d="M316.4 103.7h0"/>
<path stroke="#fe9e2f" d="M316.5 103.4h0"/>
<path stroke="#fea732" d="M316.7 103.1h0"/>
<path stroke="#fe962b" d="M316.8 102.8h0"/>
<path stroke="#fe9029" d="M316.9 103.5h0"/>
<path stroke="#fe962b" d="M317.0 102.7h0"/>
<path stroke="#fe9e2f" d="M317.1 103.8h0"/>
<path stroke="#fe962b" d="M317.3 103.6h0"/>
<path stroke="#fe9e2f" d="M317.4 101.4h0M317.5 102.7h0"/>
<path stroke="#fea732" d="M317.6 102.2h0M317.7 102.5h0"/>
<path stroke="#fe9e2f" d="M317.9 101.7h0"/>
<path stroke="#fe9029" d="M318.0 100.0h0"/>
<path stroke="#fe962b" d="M318.1 100.8h0"/>
<path stroke="#fe9e2f" d="M318.2 99.5h0"/>
<path stroke="#fe9029" d="M318.3 99.6h0M318.5 99.0h0"/>
<path stroke="#fe962b" d="M318.6 98.2h0"/>
<path stroke="#fe9e2f" d="M318.7 98.0h0"/>
<path stroke="#fea732" d="M318.8 97.7h0"/>
<path stroke="#fe9029" d="M318.9 99.1h0"/>
<path stroke="#fc8725" d="M319.1 98.2h0"/>
<path stroke="#fdac34" d="M319.2 101.5h0"/>
<path stroke="#fea732" d="M319.3 101.3h0"/>
<path stroke="#fdac34" d="M319.4 101.4h0"/>
<path stroke="#fe9029" d="M319.5 101.4h0"/>
<path stroke="#fe962b" d="M319.7 103.3h0"/>
<path stroke="#fc8725" d="M319.8 105.2h0"/>
<path stroke="#fe9029" d="M319.9 104.7h0"/>
<path stroke="#fe962b" d="M320.0 106.2h0M320.1 107.0h0"/>
<path stroke="#fc8725" d="M320.3 108.2h0"/>
<path stroke="#fe9e2f" d="M320.4 109.0h0"/>
<path stroke="#fe9029" d="M320.5 110.6h0"/>
<path stroke="#fea732" d="M320.6 111.4h0"/>
<path stroke="#fdac34" d="M320.7 111.0h0"/>
<path stroke="#fe9e2f" d="M320.9 112.5h0"/>
<path stroke="#fe9029" d="M321.0 113.3h0"/>
<path stroke="#fb7e21" d="M321.1 116.1h0"/>
<path stroke="#fc8725" d="M321.2 118.7h0"/>
<path stroke="#fe9029" d="M321.3 119.8h0"/>
<path stroke="#fdac34" d="M321.5 122.9h0"/>
<path stroke="#fe9029" d="M321.6 123.8h0M321.7 127.7h0"/>
<path stroke="#fb7e21" d="M321.8 127.4h0"/>
<path stroke="#f9781e" d="M321.9 129.7h0"/>
<path stroke="#fe9029" d="M322.1 132.3h0"/>
<path stroke="#f76f1a" d="M322.2 132.1h0"/>
<path stroke="#f9781e" d="M322.3 134.7h0"/>
<path stroke="#f76f1a" d="M322.4 136.5h0"/>
<path stroke="#f9781e" d="M322.5 139.0h0M322.7 138.9h0"/>
<path stroke="#fe9029" d="M322.8 139.6h0"/>
<path stroke="#fe962b" d="M322.9 139.6h0"/>
<path stroke="#fc8725" d="M323.0 142.3h0"/>
<path stroke="#fe9029" d="M323.1 142.9h0"/>
<path stroke="#fc8725" d="M323.3 143.4h0"/>
<path stroke="#f9781e" d="M323.4 145.9h0"/>
<path stroke="#fea732" d="M323.5 148.4h0"/>
<path stroke="#fb7e21" d="M323.6 150.9h0"/>
<path stroke="#fe9e2f" d="M323.7 149.9h0M323.9 149.2h0"/>
<path stroke="#fe9029" d="M324.0 151.7h0"/>
<path stroke="#fdac34" d="M324.1 153.8h0"/>
<path stroke="#fe962b" d="M324.2 155.2h0"/>
<path stroke="#fe9e2f" d="M324.3 156.6h0"/>
<path stroke="#fc8725" d="M324.5 157.5h0"/>
<path stroke="#fe9e2f" d="M324.6 158.2h0"/>
<path stroke="#fea732" d="M324.7 160.4h0"/>
<path stroke="#fc8725" d="M324.8 159.5h0"/>
<path stroke="#fe9e2f" d="M324.9 162.0h0"/>
<path stroke="#fe9029" d="M325.1 161.0h0"/>
<path stroke="#fe9e2f" d="M325.2 160.2h0M325.3 163.5h0"/>
<path stroke="#fb7e21" d="M325.4 162.8h0"/>
<path stroke="#fe9029" d="M325.6 163.5h0"/>
<path stroke="#fb7e21" d="M325.7 166.8h0"/>
<path stroke="#fe9e2f" d="M325.8 169.8h0"/>
<path stroke="#fdac34" d="M325.9 167.6h0"/>
<path stroke="#fe962b" d="M326.0 170.7h0"/>
<path stroke="#fe9e2f" d="M326.2 168.8h0"/>
<path stroke="#fea732" d="M326.3 170.1h0"/>
<path stroke="#fe962b" d="M326.4 175.6h0"/>
<path stroke="#fe9029" d="M326.5 176.1h0M326.6 179.3h0"/>
<path stroke="#fc8725" d="M326.8 180.1h0"/>
<path stroke="#fe9e2f" d="M326.9 177.7h0"/>
<path stroke="#fb7e21" d="M327.0 179.8h0"/>
<path stroke="#fdac34" d="M327.1 184.2h0"/>
<path stroke="#fe9029" d="M327.2 187.0h0M327.4 188.5h0M327.5 189.6h0"/>
<path stroke="#fc8725" d="M327.6 189.9h0"/>
<path stroke="#eb500e" d="M327.7 218.6h0"/>
<path stroke="#fc8725" d="M327.7 192.3h0"/>
<path stroke="#fe962b" d="M327.8 196.5h0"/>
<path stroke="#f46617" d="M328.0 197.8h0"/>
<path stroke="#fe962b" d="M328.1 198.3h0"/>
<path stroke="#fb7e21" d="M328.2 199.6h0"/>
<path stroke="#fe962b" d="M328.3 200.1h0"/>
<path stroke="#fb7e21" d="M328.4 200.4h0"/>
<path stroke="#fe962b" d="M328.6 200.7h0"/>
<path stroke="#fc8725" d="M328.7 202.9h0"/>
<path stroke="#fe9029" d="M328.8 203.2h0"/>
<path stroke="#f9781e" d="M328.9 202.2h0"/>
<path stroke="#fb7e21" d="M329.0 203.2h0"/>
<path stroke="#f9781e" d="M329.2 204.0h0"/>
<path stroke="#f46617" d="M329.3 205.4h0"/>
<path stroke="#fc8725" d="M329.4 207.1h0"/>
<path stroke="#fe9029" d="M329.5 207.4h0"/>
<path stroke="#fb7e21" d="M329.6 207.1h0"/>
<path stroke="#f76f1a" d="M329.8 208.3h0"/>
<path stroke="#f46617" d="M329.9 209.5h0"/>
<path stroke="#f9781e" d="M330.0 209.2h0"/>
<path stroke="#ef5811" d="M330.1 210.3h0"/>
<path stroke="#f26014" d="M330.2 207.6h0"/>
<path stroke="#ef5811" d="M330.4 206.9h0"/>
<path stroke="#f46617" d="M330.5 204.7h0"/>
<path stroke="#fb7e21" d="M330.6 203.0h0"/>
<path stroke="#f26014" d="M330.7 201.4h0"/>
<path stroke="#ef5811" d="M330.8 200.7h0"/>
<path stroke="#f46617" d="M331.0 197.4h0"/>
<path stroke="#f76f1a" d="M331.1 197.2h0"/>
<path stroke="#f46617" d="M331.2 195.2h0"/>
<path stroke="#f76f1a" d="M331.3 193.9h0"/>
<path stroke="#ef5811" d="M331.4 192.3h0M331.6 188.3h0"/>
<path stroke="#e84b0c" d="M331.7 187.6h0"/>
<path stroke="#ef5811" d="M331.8 185.7h0"/>
<path stroke="#f46617" d="M331.9 183.0h0"/>
<path stroke="#e4450a" d="M332.0 181.1h0"/>
<path stroke="#df3f08" d="M332.2 179.0h0"/>
<path stroke="#d63506" d="M332.3 178.0h0"/>
<path stroke="#d02f05" d="M332.4 175.1h0"/>
<path stroke="#df3f08" d="M332.5 173.9h0M332.6 171.4h0"/>
<path stroke="#d63506" d="M332.8 168.5h0"/>
<path stroke="#dc3b07" d="M332.9 164.8h0"/>
<path stroke="#cc2b04" d="M333.0 162.8h0M333.1 160.0h0"/>
<path stroke="#e84b0c" d="M333.2 158.3h0M333.4 153.8h0"/>
<path stroke="#dc3b07" d="M333.5 151.1h0"/>
<path stroke="#df3f08" d="M333.6 146.0h0"/>
<path stroke="#e84b0c" d="M333.7 143.6h0"/>
<path stroke="#eb500e" d="M333.8 139.6h0"/>
<path stroke="#e4450a" d="M334.0 138.1h0"/>
<path stroke="#f26014" d="M334.1 135.2h0M334.2 131.8h0"/>
<path stroke="#ef5811" d="M334.3 129.4h0M334.4 127.2h0"/>
<path stroke="#e4450a" d="M334.6 124.2h0"/>
<path stroke="#ef5811" d="M334.7 121.9h0M334.8 119.5h0"/>
<path stroke="#eb500e" d="M334.9 116.1h0"/>
<path stroke="#e4450a" d="M335.0 113.3h0"/>
<path stroke="#ef5811" d="M335.2 111.6h0"/>
<path stroke="#e4450a" d="M335.3 109.6h0M335.4 110.1h0"/>
<path stroke="#e84b0c" d="M335.5 109.2h0"/>
<path stroke="#eb500e" d="M335.6 106.7h0"/>
<path stroke="#e4450a" d="M335.8 106.9h0"/>
<path stroke="#e84b0c" d="M335.9 105.0h0"/>
<path stroke="#df3f08" d="M336.0 105.0h0"/>
<path stroke="#dc3b07" d="M336.1 104.5h0M336.2 102.5h0"/>
<path stroke="#eb500e" d="M336.4 101.1h0M336.5 99.7h0"/>
<path stroke="#df3f08" d="M336.6 97.7h0M336.7 98.0h0"/>
<path stroke="#e4450a" d="M336.8 97.8h0"/>
<path stroke="#df3f08" d="M337.0 97.1h0"/>
<path stroke="#e4450a" d="M337.1 96.1h0"/>
<path stroke="#eb500e" d="M337.2 95.1h0"/>
<path stroke="#ef5811" d="M337.3 91.7h0"/>
<path stroke="#e84b0c" d="M337.5 90.6h0"/>
<path stroke="#df3f08" d="M337.6 90.2h0"/>
<path stroke="#dc3b07" d="M337.7 88.3h0"/>
<path stroke="#df3f08" d="M337.8 87.0h0"/>
<path stroke="#dc3b07" d="M337.9 86.5h0"/>
<path stroke="#d63506" d="M338.1 85.1h0M338.2 83.3h0"/>
<path stroke="#eb500e" d="M338.3 81.0h0"/>
<path stroke="#dc3b07" d="M338.4 80.1h0"/>
<path stroke="#d63506" d="M338.5 78.5h0"/>
<path stroke="#e84b0c" d="M338.7 76.0h0"/>
<path stroke="#e4450a" d="M338.8 74.2h0M338.9 72.2h0"/>
<path stroke="#dc3b07" d="M339.0 71.5h0"/>
<path stroke="#e84b0c" d="M339.1 71.6h0"/>
<path stroke="#d63506" d="M339.3 71.6h0"/>
<path stroke="#eb500e" d="M339.4 71.4h0"/>
<path stroke="#dc3b07" d="M339.5 73.4h0"/>
<path stroke="#df3f08" d="M339.6 73.3h0"/>
<path stroke="#dc3b07" d="M339.7 72.8h0M339.9 74.6h0"/>
<path stroke="#e84b0c" d="M340.0 72.6h0M340.1 71.5h0"/>
<path stroke="#df3f08" d="M340.2 72.4h0M340.3 71.9h0"/>
<path stroke="#e84b0c" d="M340.5 73.3h0"/>
<path stroke="#e4450a" d="M340.6 75.7h0"/>
<path stroke="#ef5811" d="M340.7 75.2h0"/>
<path stroke="#e4450a" d="M340.8 74.0h0"/>
<path stroke="#eb500e" d="M340.9 75.4h0"/>
<path stroke="#e4450a" d="M341.1 77.9h0"/>
<path stroke="#f26014" d="M341.2 79.5h0"/>
<path stroke="#e84b0c" d="M341.3 80.4h0M341.4 76.1h0"/>
<path stroke="#e4450a" d="M341.5 74.7h0"/>
<path stroke="#df3f08" d="M341.7 74.5h0"/>
<path stroke="#f26014" d="M341.8 72.5h0"/>
<path stroke="#eb500e" d="M341.9 72.7h0"/>
<path stroke="#e4450a" d="M342.0 74.6h0"/>
<path stroke="#e84b0c" d="M342.1 74.1h0"/>
<path stroke="#ef5811" d="M342.3 78.1h0"/>
<path stroke="#f26014" d="M342.4 78.9h0"/>
<path stroke="#e4450a" d="M342.5 80.2h0"/>
<path stroke="#f26014" d="M342.6 80.2h0"/>
<path stroke="#eb500e" d="M342.7 84.2h0"/>
<path stroke="#e84b0c" d="M342.9 78.9h0"/>
<path stroke="#eb500e" d="M343.0 82.8h0"/>
<path stroke="#f26014" d="M343.1 79.9h0"/>
<path stroke="#f46617" d="M343.2 83.7h0"/>
<path stroke="#e84b0c" d="M343.3 87.2h0M343.5 85.8h0"/>
<path stroke="#f26014" d="M343.6 84.1h0"/>
<path stroke="#ef5811" d="M343.7 83.3h0"/>
<path stroke="#f76f1a" d="M343.8 82.6h0"/>
<path stroke="#ef5811" d="M343.9 77.0h0"/>
<path stroke="#f46617" d="M344.1 76.8h0"/>
<path stroke="#f26014" d="M344.2 74.5h0M344.3 78.6h0"/>
<path stroke="#ef5811" d="M344.4 84.2h0"/>
<path stroke="#f46617" d="M344.5 79.3h0"/>
<path stroke="#e4450a" d="M344.7 77.0h0"/>
<path stroke="#f26014" d="M344.8 72.6h0"/>
<path stroke="#ef5811" d="M344.9 74.7h0"/>
<path stroke="#eb500e" d="M345.0 78.3h0"/>
<path stroke="#f26014" d="M345.1 83.7h0"/>
<path stroke="#eb500e" d="M345.3 78.9h0"/>
<path stroke="#f46617" d="M345.4 80.5h0"/>
<path stroke="#f76f1a" d="M345.5 80.2h0M345.6 76.0h0"/>
<path stroke="#e84b0c" d="M345.7 75.3h0"/>
<path stroke="#f46617" d="M345.9 73.2h0"/>
<path stroke="#e84b0c" d="M346.0 76.0h0"/>
<path stroke="#eb500e" d="M346.1 75.3h0"/>
<path stroke="#ef5811" d="M346.2 79.9h0"/>
<path stroke="#eb500e" d="M346.3 77.5h0M346.5 71.1h0"/>
<path stroke="#e84b0c" d="M346.6 69.6h0"/>
<path stroke="#ef5811" d="M346.7 72.0h0"/>
<path stroke="#e84b0c" d="M346.8 67.1h0M346.9 66.4h0"/>
<path stroke="#ef5811" d="M347.1 71.4h0"/>
<path stroke="#f26014" d="M347.2 67.9h0"/>
<path stroke="#ef5811" d="M347.3 72.7h0M347.4 74.2h0"/>
<path stroke="#f26014" d="M347.5 72.1h0"/>
<path stroke="#eb500e" d="M347.7 72.9h0"/>
<path stroke="#e84b0c" d="M347.8 72.4h0"/>
<path stroke="#eb500e" d="M347.9 71.1h0"/>
<path stroke="#ef5811" d="M348.0 71.6h0"/>
<path stroke="#eb500e" d="M348.1 73.9h0"/>
<path stroke="#e4450a" d="M348.3 73.6h0"/>
<path stroke="#e84b0c" d="M348.4 72.0h0"/>
<path stroke="#ef5811" d="M348.5 68.3h0"/>
<path stroke="#e84b0c" d="M348.6 79.2h0"/>
<path stroke="#e4450a" d="M348.7 73.7h0"/>
<path stroke="#e84b0c" d="M348.9 74.1h0"/>
<path stroke="#e4450a" d="M349.0 79.3h0"/>
<path stroke="#ef5811" d="M349.1 82.5h0"/>
<path stroke="#df3f08" d="M349.2 78.4h0"/>
<path stroke="#eb500e" d="M349.4 86.3h0"/>
<path stroke="#ef5811" d="M349.5 89.3h0"/>
<path stroke="#e4450a" d="M349.6 86.7h0M349.7 81.0h0"/>
<path stroke="#df3f08" d="M349.8 81.4h0"/>
<path stroke="#eb500e" d="M350.0 80.8h0"/>
<path stroke="#f26014" d="M350.1 78.3h0"/>
<path stroke="#ef5811" d="M350.2 76.3h0M350.3 73.1h0"/>
<path stroke="#f46617" d="M350.4 75.0h0"/>
<path stroke="#f26014" d="M350.6 78.3h0"/>
<path stroke="#f46617" d="M350.7 69.5h0"/>
<path stroke="#e84b0c" d="M350.8 65.0h0"/>
<path stroke="#ef5811" d="M350.9 69.0h0"/>
<path stroke="#f46617" d="M351.0 67.9h0"/>
<path stroke="#ef5811" d="M351.2 71.5h0"/>
<path stroke="#eb500e" d="M351.3 71.7h0"/>
<path stroke="#e4450a" d="M351.4 77.1h0M351.5 80.2h0"/>
<path stroke="#f26014" d="M351.6 79.0h0"/>
<path stroke="#dc3b07" d="M351.8 77.0h0"/>
<path stroke="#eb500e" d="M351.9 78.6h0"/>
<path stroke="#f46617" d="M352.0 79.8h0"/>
<path stroke="#e4450a" d="M352.1 77.0h0M352.2 71.8h0"/>
<path stroke="#f46617" d="M352.4 72.3h0M352.5 71.4h0"/>
<path stroke="#eb500e" d="M352.6 73.2h0"/>
<path stroke="#dc3b07" d="M352.7 69.3h0"/>
<path stroke="#e4450a" d="M352.8 73.0h0"/>
<path stroke="#ef5811" d="M353.0 65.9h0"/>
<path stroke="#e84b0c" d="M353.1 66.8h0"/>
<path stroke="#e4450a" d="M353.2 72.5h0"/>
<path stroke="#e84b0c" d="M353.3 68.8h0"/>
<path stroke="#e4450a" d="M353.4 71.4h0M353.6 72.7h0"/>
<path stroke="#ef5811" d="M353.7 74.2h0"/>
<path stroke="#f46617" d="M353.8 69.4h0"/>
<path stroke="#e84b0c" d="M353.9 73.0h0"/>
<path stroke="#eb500e" d="M354.0 74.2h0"/>
<path stroke="#df3f08" d="M354.2 75.4h0M354.3 75.2h0"/>
<path stroke="#e84b0c" d="M354.4 75.3h0"/>
<path stroke="#ef5811" d="M354.5 78.4h0"/>
<path stroke="#eb500e" d="M354.6 82.3h0M354.8 75.2h0"/>
<path stroke="#e4450a" d="M354.9 71.5h0"/>
<path stroke="#dc3b07" d="M355.0 70.8h0"/>
<path stroke="#c52603" d="M355.1 65.6h0"/>
<path stroke="#dc3b07" d="M355.2 70.5h0"/>
<path stroke="#e84b0c" d="M355.4 68.1h0"/>
<path stroke="#e4450a" d="M355.5 70.7h0M355.6 70.7h0"/>
<path stroke="#dc3b07" d="M355.7 72.2h0M355.8 69.0h0"/>
<path stroke="#df3f08" d="M356.0 68.6h0"/>
<path stroke="#e4450a" d="M356.1 69.3h0"/>
<path stroke="#e84b0c" d="M356.2 71.9h0"/>
<path stroke="#dc3b07" d="M356.3 71.1h0M356.4 69.9h0M356.6 70.6h0"/>
<path stroke="#d02f05" d="M356.7 75.2h0"/>
<path stroke="#e4450a" d="M356.8 75.6h0"/>
<path stroke="#d02f05" d="M356.9 71.8h0"/>
<path stroke="#e84b0c" d="M357.0 69.6h0"/>
<path stroke="#e4450a" d="M357.2 67.6h0M357.3 66.2h0"/>
<path stroke="#f26014" d="M357.4 66.1h0"/>
<path stroke="#e4450a" d="M357.5 71.5h0"/>
<path stroke="#df3f08" d="M357.6 73.2h0"/>
<path stroke="#dc3b07" d="M357.8 73.9h0"/>
<path stroke="#df3f08" d="M357.9 75.3h0M358.0 81.5h0"/>
<path stroke="#eb500e" d="M358.1 75.3h0"/>
<path stroke="#df3f08" d="M358.2 76.8h0"/>
<path stroke="#d63506" d="M358.4 74.4h0"/>
<path stroke="#dc3b07" d="M358.5 75.1h0"/>
<path stroke="#e84b0c" d="M358.6 76.0h0"/>
<path stroke="#dc3b07" d="M358.7 74.8h0M358.8 75.8h0M359.0 68.2h0M359.1 70.0h0"/>
<path stroke="#df3f08" d="M359.2 72.9h0"/>
<path stroke="#e4450a" d="M359.3 69.9h0"/>
<path stroke="#ef5811" d="M359.4 102.8h0"/>
<path stroke="#df3f08" d="M359.4 67.9h0"/>
<path stroke="#e84b0c" d="M359.6 74.6h0"/>
<path stroke="#df3f08" d="M359.7 71.0h0M359.8 71.2h0M359.9 68.3h0M360.0 67.9h0"/>
<path stroke="#d63506" d="M360.2 65.8h0"/>
<path stroke="#d02f05" d="M360.3 62.5h0"/>
<path stroke="#cc2b04" d="M360.4 71.3h0"/>
<path stroke="#e84b0c" d="M360.5 69.2h0"/>
<path stroke="#e4450a" d="M360.6 72.3h0"/>
<path stroke="#d63506" d="M360.8 71.6h0"/>
<path stroke="#d02f05" d="M360.9 76.3h0"/>
<path stroke="#e4450a" d="M361.0 78.4h0"/>
<path stroke="#d02f05" d="M361.1 82.2h0M361.3 85.9h0"/>
<path stroke="#df3f08" d="M361.4 84.7h0"/>
<path stroke="#eb500e" d="M361.5 83.1h0"/>
<path stroke="#d63506" d="M361.6 84.7h0M361.7 78.1h0"/>
<path stroke="#dc3b07" d="M361.9 80.4h0"/>
<path stroke="#df3f08" d="M362.0 81.9h0"/>
<path stroke="#d02f05" d="M362.1 81.6h0"/>
<path stroke="#d63506" d="M362.2 75.8h0"/>
<path stroke="#e4450a" d="M362.3 78.6h0M362.5 76.8h0"/>
<path stroke="#eb500e" d="M362.6 78.1h0"/>
<path stroke="#e84b0c" d="M362.7 69.4h0M362.8 70.6h0"/>
<path stroke="#df3f08" d="M362.9 69.3h0M363.1 66.4h0"/>
<path stroke="#dc3b07" d="M363.2 66.1h0"/>
<path stroke="#df3f08" d="M363.3 72.4h0"/>
<path stroke="#ef5811" d="M363.4 72.2h0"/>
<path stroke="#df3f08" d="M363.5 74.8h0"/>
<path stroke="#dc3b07" d="M363.7 81.9h0"/>
<path stroke="#e84b0c" d="M363.8 75.3h0"/>
<path stroke="#eb500e" d="M363.9 80.3h0"/>
<path stroke="#d63506" d="M364.0 77.7h0"/>
<path stroke="#df3f08" d="M364.1 72.9h0"/>
<path stroke="#e4450a" d="M364.3 71.1h0"/>
<path stroke="#df3f08" d="M364.4 66.5h0"/>
<path stroke="#ef5811" d="M364.4 95.4h0M364.4 103.8h0"/>
<path stroke="#dc3b07" d="M364.5 61.7h0M364.6 61.0h0"/>
<path stroke="#e84b0c" d="M364.7 60.8h0"/>
<path stroke="#dc3b07" d="M364.9 66.0h0"/>
<path stroke="#df3f08" d="M365.0 69.8h0"/>
<path stroke="#e4450a" d="M365.1 69.5h0"/>
<path stroke="#dc3b07" d="M365.2 72.1h0"/>
<path stroke="#d02f05" d="M365.3 72.3h0"/>
<path stroke="#cc2b04" d="M365.5 71.3h0"/>
<path stroke="#d02f05" d="M365.6 72.2h0"/>
<path stroke="#df3f08" d="M365.7 69.0h0"/>
<path stroke="#dc3b07" d="M365.8 73.1h0M365.9 72.0h0"/>
<path stroke="#e4450a" d="M366.1 72.3h0M366.2 72.2h0"/>
<path stroke="#dc3b07" d="M366.3 72.8h0"/>
<path stroke="#d02f05" d="M366.4 70.1h0"/>
<path stroke="#e4450a" d="M366.5 66.1h0"/>
<path stroke="#e84b0c" d="M366.7 66.3h0"/>
<path stroke="#df3f08" d="M366.8 65.3h0M366.9 63.8h0"/>
<path stroke="#e4450a" d="M367.0 65.4h0"/>
<path stroke="#e84b0c" d="M367.1 63.7h0"/>
<path stroke="#df3f08" d="M367.3 67.3h0"/>
<path stroke="#eb500e" d="M367.4 69.2h0"/>
<path stroke="#ef5811" d="M367.5 65.1h0"/>
<path stroke="#eb500e" d="M367.6 67.2h0M367.7 65.3h0"/>
<path stroke="#e84b0c" d="M367.9 68.2h0"/>
<path stroke="#f26014" d="M368.0 71.0h0"/>
<path stroke="#eb500e" d="M368.1 71.3h0"/>
<path stroke="#e84b0c" d="M368.2 72.4h0M368.3 76.2h0"/>
<path stroke="#ef5811" d="M368.5 75.5h0"/>
<path stroke="#e84b0c" d="M368.6 68.5h0"/>
<path stroke="#df3f08" d="M368.7 69.0h0"/>
<path stroke="#eb500e" d="M368.8 69.0h0"/>
<path stroke="#f26014" d="M368.9 71.2h0M369.1 68.3h0M369.2 70.4h0"/>
<path stroke="#f76f1a" d="M369.3 72.4h0"/>
<path stroke="#f46617" d="M369.4 73.4h0M369.5 69.3h0M369.7 66.5h0"/>
<path stroke="#eb500e" d="M369.8 69.8h0"/>
<path stroke="#ef5811" d="M369.9 72.7h0"/>
<path stroke="#e4450a" d="M370.0 72.4h0"/>
<path stroke="#eb500e" d="M370.1 76.3h0"/>
<path stroke="#f26014" d="M370.3 76.5h0"/>
<path stroke="#e84b0c" d="M370.4 73.6h0"/>
<path stroke="#ef5811" d="M370.5 68.5h0"/>
<path stroke="#eb500e" d="M370.6 71.9h0"/>
<path stroke="#e4450a" d="M370.7 72.7h0"/>
<path stroke="#f46617" d="M370.9 72.6h0"/>
<path stroke="#ef5811" d="M371.0 66.5h0"/>
<path stroke="#f26014" d="M371.1 65.9h0"/>
<path stroke="#e84b0c" d="M371.2 68.6h0"/>
<path stroke="#f46617" d="M371.3 69.6h0"/>
<path stroke="#eb500e" d="M371.5 67.2h0"/>
<path stroke="#e84b0c" d="M371.6 65.3h0"/>
<path stroke="#eb500e" d="M371.7 66.6h0"/>
<path stroke="#f26014" d="M371.8 67.7h0"/>
<path stroke="#eb500e" d="M371.9 68.0h0"/>
<path stroke="#e84b0c" d="M372.1 68.5h0"/>
<path stroke="#eb500e" d="M372.2 66.3h0"/>
<path stroke="#f76f1a" d="M372.3 66.7h0"/>
<path stroke="#eb500e" d="M372.4 66.7h0"/>
<path stroke="#f76f1a" d="M372.5 68.8h0"/>
<path stroke="#ef5811" d="M372.7 64.5h0"/>
<path stroke="#f9781e" d="M372.8 64.2h0"/>
<path stroke="#f46617" d="M372.9 66.8h0M373.0 66.1h0"/>
<path stroke="#f26014" d="M373.2 68.5h0"/>
<path stroke="#f76f1a" d="M373.3 77.3h0"/>
<path stroke="#ef5811" d="M373.4 79.9h0"/>
<path stroke="#fb7e21" d="M373.5 82.6h0"/>
<path stroke="#ef5811" d="M373.6 83.1h0"/>
<path stroke="#f26014" d="M373.8 82.0h0"/>
<path stroke="#f76f1a" d="M373.9 77.2h0"/>
<path stroke="#ef5811" d="M374.0 70.5h0"/>
<path stroke="#f46617" d="M374.1 68.4h0"/>
<path stroke="#fb7e21" d="M374.2 64.8h0"/>
<path stroke="#f76f1a" d="M374.4 66.7h0"/>
<path stroke="#fb7e21" d="M374.5 67.1h0"/>
<path stroke="#f76f1a" d="M374.6 66.5h0M374.7 66.0h0"/>
<path stroke="#fe9029" d="M374.8 66.7h0"/>
<path stroke="#fb7e21" d="M375.0 69.5h0"/>
<path stroke="#f76f1a" d="M375.1 75.5h0"/>
<path stroke="#f46617" d="M375.2 79.2h0"/>
<path stroke="#f76f1a" d="M375.3 81.7h0"/>
<path stroke="#fc8725" d="M375.4 82.2h0"/>
<path stroke="#fb7e21" d="M375.6 79.8h0M375.7 81.6h0"/>
<path stroke="#f9781e" d="M375.8 79.8h0M375.9 78.2h0"/>
<path stroke="#fc8725" d="M376.0 80.1h0"/>
<path stroke="#fe9029" d="M376.2 75.5h0M376.3 70.1h0"/>
<path stroke="#ef5811" d="M376.4 74.1h0"/>
<path stroke="#f46617" d="M376.5 81.0h0"/>
<path stroke="#f9781e" d="M376.6 84.9h0"/>
<path stroke="#eb500e" d="M376.8 90.9h0"/>
<path stroke="#e84b0c" d="M376.9 89.6h0"/>
<path stroke="#eb500e" d="M377.0 85.0h0"/>
<path stroke="#ef5811" d="M377.1 75.4h0"/>
<path stroke="#f46617" d="M377.2 74.1h0"/>
<path stroke="#f26014" d="M377.4 81.3h0"/>
<path stroke="#ef5811" d="M377.5 88.4h0"/>
<path stroke="#e84b0c" d="M377.6 82.2h0"/>
<path stroke="#f26014" d="M377.7 81.8h0"/>
<path stroke="#eb500e" d="M377.8 77.4h0M378.0 74.4h0"/>
<path stroke="#ef5811" d="M378.1 74.8h0M378.2 74.6h0"/>
<path stroke="#fc8725" d="M378.3 77.2h0"/>
<path stroke="#fb7e21" d="M378.4 78.9h0M378.6 81.9h0"/>
<path stroke="#f76f1a" d="M378.7 86.9h0"/>
<path stroke="#eb500e" d="M378.8 86.1h0"/>
<path stroke="#f46617" d="M378.9 84.4h0M379.0 83.3h0"/>
<path stroke="#f26014" d="M379.2 84.6h0M379.3 83.7h0"/>
<path stroke="#f9781e" d="M379.4 78.9h0"/>
<path stroke="#eb500e" d="M379.5 77.0h0"/>
<path stroke="#fb7e21" d="M379.6 82.1h0"/>
<path stroke="#f9781e" d="M379.8 77.3h0"/>
<path stroke="#f76f1a" d="M379.9 82.4h0"/>
<path stroke="#ef5811" d="M380.0 76.4h0"/>
<path stroke="#f46617" d="M380.1 80.1h0M380.2 82.6h0"/>
<path stroke="#e4450a" d="M380.4 81.1h0"/>
<path stroke="#f9781e" d="M380.5 80.7h0"/>
<path stroke="#f26014" d="M380.6 79.1h0"/>
<path stroke="#f9781e" d="M380.7 85.8h0"/>
<path stroke="#f76f1a" d="M380.8 82.9h0M381.0 79.5h0"/>
<path stroke="#ef5811" d="M381.1 80.9h0"/>
<path stroke="#fb7e21" d="M381.2 86.0h0"/>
<path stroke="#f76f1a" d="M381.3 84.9h0M381.4 85.4h0"/>
<path stroke="#fe9029" d="M381.6 86.9h0"/>
<path stroke="#f76f1a" d="M381.7 83.6h0"/>
<path stroke="#f9781e" d="M381.8 80.1h0"/>
<path stroke="#fc8725" d="M381.9 75.7h0"/>
<path stroke="#f76f1a" d="M382.0 80.8h0"/>
<path stroke="#fc8725" d="M382.2 72.5h0"/>
<path stroke="#ef5811" d="M382.3 100.8h0"/>
<path stroke="#fb7e21" d="M382.3 69.5h0"/>
<path stroke="#f76f1a" d="M382.4 73.1h0"/>
<path stroke="#fc8725" d="M382.5 76.0h0"/>
<path stroke="#fb7e21" d="M382.6 83.1h0"/>
<path stroke="#fe9e2f" d="M382.8 83.0h0"/>
<path stroke="#f9781e" d="M382.9 80.8h0M383.0 86.3h0"/>
<path stroke="#f76f1a" d="M383.1 89.7h0"/>
<path stroke="#fc8725" d="M383.2 92.4h0"/>
<path stroke="#fb7e21" d="M383.4 91.2h0M383.5 91.8h0"/>
<path stroke="#fe962b" d="M383.6 84.1h0"/>
<path stroke="#fc8725" d="M383.7 79.0h0"/>
<path stroke="#f9781e" d="M383.8 87.0h0"/>
<path stroke="#fb7e21" d="M384.0 86.0h0"/>
<path stroke="#fe962b" d="M384.1 78.1h0"/>
<path stroke="#fe9029" d="M384.2 77.5h0"/>
<path stroke="#f9781e" d="M384.3 83.1h0"/>
<path stroke="#fc8725" d="M384.4 82.2h0"/>
<path stroke="#fe9029" d="M384.6 83.5h0M384.7 75.9h0"/>
<path stroke="#fea732" d="M384.8 77.4h0"/>
<path stroke="#fe9029" d="M384.9 76.0h0"/>
<path stroke="#fb7e21" d="M385.1 82.5h0"/>
<path stroke="#fe962b" d="M385.2 82.5h0"/>
<path stroke="#fdac34" d="M385.3 82.3h0"/>
<path stroke="#fe9e2f" d="M385.4 80.3h0"/>
<path stroke="#fea732" d="M385.5 81.2h0"/>
<path stroke="#faba39" d="M385.7 81.0h0"/>
<path stroke="#fdac34" d="M385.8 80.1h0"/>
<path stroke="#fcb336" d="M385.9 78.2h0"/>
<path stroke="#fdac34" d="M386.0 76.5h0M386.1 77.9h0"/>
<path stroke="#f8be39" d="M386.3 76.6h0"/>
<path stroke="#fdac34" d="M386.4 78.5h0"/>
<path stroke="#faba39" d="M386.5 75.0h0"/>
<path stroke="#f8be39" d="M386.6 74.9h0"/>
<path stroke="#faba39" d="M386.7 75.4h0M386.9 77.0h0"/>
<path stroke="#f8be39" d="M387.0 81.3h0"/>
<path stroke="#faba39" d="M387.1 82.9h0"/>
<path stroke="#fcb336" d="M387.2 81.9h0"/>
<path stroke="#f1cb3a" d="M387.3 84.4h0M387.5 83.1h0"/>
<path stroke="#f8be39" d="M387.6 81.8h0"/>
<path stroke="#f1cb3a" d="M387.7 84.7h0"/>
<path stroke="#f8be39" d="M387.8 83.2h0"/>
<path stroke="#f1cb3a" d="M387.9 85.2h0"/>
<path stroke="#f8be39" d="M388.1 84.5h0"/>
<path stroke="#eecf3a" d="M388.2 82.4h0"/>
<path stroke="#e9d539" d="M388.3 82.9h0"/>
<path stroke="#f5c53a" d="M388.4 86.3h0"/>
<path stroke="#e9d539" d="M388.5 89.9h0"/>
<path stroke="#f1cb3a" d="M388.7 87.2h0"/>
<path stroke="#e3db38" d="M388.8 87.5h0"/>
<path stroke="#e9d539" d="M388.9 87.6h0"/>
<path stroke="#dfdf37" d="M389.0 89.3h0"/>
<path stroke="#e9d539" d="M389.1 92.2h0"/>
<path stroke="#d2e935" d="M389.3 95.2h0"/>
<path stroke="#dfdf37" d="M389.4 96.2h0"/>
<path stroke="#e3db38" d="M389.5 96.4h0"/>
<path stroke="#d9e436" d="M389.6 95.0h0"/>
<path stroke="#dfdf37" d="M389.7 97.2h0"/>
<path stroke="#cdec34" d="M389.9 97.1h0"/>
<path stroke="#d2e935" d="M390.0 96.2h0"/>
<path stroke="#c6f034" d="M390.1 96.4h0"/>
<path stroke="#d2e935" d="M390.2 97.7h0"/>
<path stroke="#c6f034" d="M390.3 99.9h0"/>
<path stroke="#d9e436" d="M390.5 98.4h0"/>
<path stroke="#c6f034" d="M390.6 97.9h0"/>
<path stroke="#cdec34" d="M390.7 98.2h0"/>
<path stroke="#d2e935" d="M390.8 99.2h0"/>
<path stroke="#d9e436" d="M390.9 100.0h0"/>
<path stroke="#d2e935" d="M391.1 101.6h0"/>
<path stroke="#c6f034" d="M391.2 101.2h0"/>
<path stroke="#dfdf37" d="M391.3 100.7h0"/>
<path stroke="#c6f034" d="M391.4 103.7h0M391.5 104.4h0"/>
<path stroke="#bef434" d="M391.7 104.1h0"/>
<path stroke="#d9e436" d="M391.8 106.5h0"/>
<path stroke="#c6f034" d="M391.9 106.4h0"/>
<path stroke="#d2e935" d="M392.0 108.9h0"/>
<path stroke="#c6f034" d="M392.1 110.2h0"/>
<path stroke="#cdec34" d="M392.3 110.7h0"/>
<path stroke="#c6f034" d="M392.4 111.5h0"/>
<path stroke="#d9e436" d="M392.5 115.3h0"/>
<path stroke="#bef434" d="M392.6 115.8h0"/>
<path stroke="#c6f034" d="M392.7 115.4h0"/>
<path stroke="#cdec34" d="M392.9 115.9h0"/>
<path stroke="#c6f034" d="M393.0 117.2h0"/>
<path stroke="#b9f635" d="M393.1 120.5h0"/>
<path stroke="#a9fb39" d="M393.2 124.7h0"/>
<path stroke="#a4fc3c" d="M393.3 128.6h0"/>
<path stroke="#a9fb39" d="M393.5 129.7h0M393.6 130.8h0"/>
<path stroke="#a4fc3c" d="M393.7 131.3h0"/>
<path stroke="#92ff47" d="M393.8 133.9h0"/>
<path stroke="#a4fc3c" d="M393.9 137.0h0M394.1 138.2h0"/>
<path stroke="#b1f936" d="M394.2 140.8h0"/>
<path stroke="#a4fc3c" d="M394.3 141.0h0"/>
<path stroke="#a9fb39" d="M394.4 141.8h0"/>
<path stroke="#a4fc3c" d="M394.5 144.0h0"/>
<path stroke="#a9fb39" d="M394.7 144.8h0"/>
<path stroke="#9cfe40" d="M394.8 146.8h0"/>
<path stroke="#a9fb39" d="M394.9 148.4h0"/>
<path stroke="#a4fc3c" d="M395.0 150.7h0M395.1 151.9h0"/>
<path stroke="#bef434" d="M395.3 152.6h0"/>
<path stroke="#a4fc3c" d="M395.4 152.2h0"/>
<path stroke="#a9fb39" d="M395.5 152.9h0"/>
<path stroke="#a4fc3c" d="M395.6 153.0h0"/>
<path stroke="#b1f936" d="M395.7 154.5h0"/>
<path stroke="#a9fb39" d="M395.9 153.8h0"/>
<path stroke="#8bff4b" d="M396.0 154.0h0"/>
<path stroke="#80ff53" d="M396.1 157.4h0M396.2 158.9h0"/>
<path stroke="#6dfe62" d="M396.3 160.9h0"/>
<path stroke="#92ff47" d="M396.5 161.2h0"/>
<path stroke="#6dfe62" d="M396.6 163.6h0"/>
<path stroke="#75fe5c" d="M396.7 164.1h0"/>
<path stroke="#6dfe62" d="M396.8 164.2h0"/>
<path stroke="#61fc6c" d="M397.0 166.7h0"/>
<path stroke="#75fe5c" d="M397.1 165.8h0M397.2 164.3h0"/>
<path stroke="#6dfe62" d="M397.3 169.0h0M397.4 169.6h0"/>
<path stroke="#75fe5c" d="M397.6 166.3h0"/>
<path stroke="#80ff53" d="M397.7 166.6h0"/>
<path stroke="#4ef97d" d="M397.8 159.4h0"/>
<path stroke="#75fe5c" d="M397.9 160.4h0"/>
<path stroke="#6dfe62" d="M398.0 165.2h0"/>
<path stroke="#4ef97d" d="M398.2 171.0h0M398.3 171.7h0"/>
<path stroke="#b1f936" d="M398.4 168.6h0"/>
<path stroke="#6dfe62" d="M398.5 177.5h0"/>
<path stroke="#4ef97d" d="M398.6 181.2h0"/>
<path stroke="#8bff4b" d="M398.8 186.8h0"/>
<path stroke="#61fc6c" d="M398.9 183.4h0M399.0 183.9h0M399.1 170.8h0"/>
<path stroke="#4ef97d" d="M399.2 173.5h0M399.4 158.6h0M399.5 154.0h0"/>
<path stroke="#92ff47" d="M399.6 151.1h0"/>
<path stroke="#61fc6c" d="M399.7 159.2h0M399.8 168.0h0"/>
<path stroke="#43f787" d="M400.0 164.2h0"/>
<path stroke="#4ef97d" d="M400.1 174.0h0"/>
<path stroke="#75fe5c" d="M400.2 174.3h0M400.3 158.8h0"/>
<path stroke="#22ebaa" d="M400.4 157.3h0M400.6 150.5h0"/>
<path stroke="#38f491" d="M400.7 153.5h0"/>
<path stroke="#8bff4b" d="M400.8 159.8h0"/>
<path stroke="#9cfe40" d="M400.9 155.7h0"/>
<path stroke="#4ef97d" d="M401.0 163.5h0"/>
<path stroke="#92ff47" d="M401.2 171.8h0"/>
<path stroke="#55fa76" d="M401.3 165.9h0"/>
<path stroke="#6dfe62" d="M401.4 170.1h0"/>
<path stroke="#43f787" d="M401.5 170.0h0"/>
<path stroke="#80ff53" d="M401.6 168.2h0"/>
<path stroke="#22ebaa" d="M401.8 179.7h0"/>
<path stroke="#1fe9af" d="M401.9 173.0h0"/>
<path stroke="#32f298" d="M402.0 169.4h0"/>
<path stroke="#75fe5c" d="M402.1 169.2h0M402.2 172.1h0"/>
<path stroke="#92ff47" d="M402.4 177.3h0"/>
<path stroke="#75fe5c" d="M402.5 170.4h0"/>
<path stroke="#8bff4b" d="M402.6 178.3h0"/>
<path stroke="#6dfe62" d="M402.7 190.0h0"/>
<path stroke="#61fc6c" d="M402.8 194.5h0"/>
<path stroke="#80ff53" d="M403.0 193.5h0"/>
<path stroke="#32f298" d="M403.1 186.8h0"/>
<path stroke="#61fc6c" d="M403.2 175.1h0M403.3 178.0h0"/>
<path stroke="#43f787" d="M403.4 174.9h0"/>
<path stroke="#38f491" d="M403.6 174.5h0"/>
<path stroke="#32f298" d="M403.7 168.1h0"/>
<path stroke="#55fa76" d="M403.8 150.6h0"/>
<path stroke="#2aefa1" d="M403.9 153.5h0"/>
<path stroke="#75fe5c" d="M404.0 154.7h0"/>
<path stroke="#43f787" d="M404.2 156.9h0"/>
<path stroke="#92ff47" d="M404.3 149.3h0"/>
<path stroke="#4ef97d" d="M404.4 152.7h0"/>
<path stroke="#61fc6c" d="M404.5 155.4h0"/>
<path stroke="#2aefa1" d="M404.6 152.8h0"/>
<path stroke="#4ef97d" d="M404.8 160.0h0"/>
<path stroke="#2aefa1" d="M404.9 162.3h0"/>
<path stroke="#6dfe62" d="M405.0 165.0h0"/>
<path stroke="#92ff47" d="M405.1 169.0h0"/>
<path stroke="#55fa76" d="M405.2 168.1h0"/>
<path stroke="#6dfe62" d="M405.4 168.9h0"/>
<path stroke="#32f298" d="M405.5 173.3h0"/>
<path stroke="#4ef97d" d="M405.6 179.5h0"/>
<path stroke="#61fc6c" d="M405.7 183.4h0"/>
<path stroke="#2aefa1" d="M405.8 179.5h0"/>
<path stroke="#4ef97d" d="M406.0 184.6h0"/>
<path stroke="#6dfe62" d="M406.1 188.8h0"/>
<path stroke="#4ef97d" d="M406.2 177.1h0"/>
<path stroke="#80ff53" d="M406.3 174.8h0"/>
<path stroke="#22ebaa" d="M406.4 174.3h0"/>
<path stroke="#4ef97d" d="M406.6 175.4h0"/>
<path stroke="#43f787" d="M406.7 185.1h0"/>
<path stroke="#55fa76" d="M406.8 190.8h0"/>
<path stroke="#1ae4b6" d="M406.9 185.6h0"/>
<path stroke="#80ff53" d="M407.0 184.0h0"/>
<path stroke="#4ef97d" d="M407.2 174.1h0"/>
<path stroke="#43f787" d="M407.3 171.4h0"/>
<path stroke="#75fe5c" d="M407.4 178.0h0"/>
<path stroke="#55fa76" d="M407.5 171.0h0"/>
<path stroke="#80ff53" d="M407.6 174.6h0"/>
<path stroke="#6dfe62" d="M407.8 172.8h0"/>
<path stroke="#61fc6c" d="M407.9 171.4h0"/>
<path stroke="#55fa76" d="M408.0 172.8h0"/>
<path stroke="#b9f635" d="M408.1 183.8h0"/>
<path stroke="#4ef97d" d="M408.2 182.7h0"/>
<path stroke="#43f787" d="M408.4 185.5h0"/>
<path stroke="#92ff47" d="M408.5 194.9h0"/>
<path stroke="#8bff4b" d="M408.6 200.5h0"/>
<path stroke="#cdec34" d="M408.7 207.8h0"/>
<path stroke="#bef434" d="M408.9 206.6h0"/>
<path stroke="#80ff53" d="M409.0 209.5h0"/>
<path stroke="#75fe5c" d="M409.1 214.0h0"/>
<path stroke="#8bff4b" d="M409.2 216.0h0"/>
<path stroke="#61fc6c" d="M409.3 215.5h0"/>
<path stroke="#75fe5c" d="M409.5 217.5h0"/>
<path stroke="#32f298" d="M409.6 221.1h0"/>
<path stroke="#2aefa1" d="M409.7 222.2h0"/>
<path stroke="#4ef97d" d="M409.8 224.1h0"/>
<path stroke="#55fa76" d="M409.9 224.5h0"/>
<path stroke="#9cfe40" d="M410.1 226.0h0"/>
<path stroke="#92ff47" d="M410.2 226.5h0"/>
<path stroke="#b1f936" d="M410.3 230.8h0"/>
<path stroke="#c6f034" d="M410.4 229.7h0"/>
<path stroke="#d9e436" d="M410.5 229.5h0"/>
<path stroke="#dfdf37" d="M410.7 229.8h0"/>
<path stroke="#e3db38" d="M410.8 232.3h0"/>
<path stroke="#c6f034" d="M410.9 232.1h0"/>
<path stroke="#b9f635" d="M411.0 233.3h0"/>
<path stroke="#a9fb39" d="M411.1 236.1h0"/>
<path stroke="#bef434" d="M411.3 237.8h0"/>
<path stroke="#b1f936" d="M411.4 241.4h0"/>
<path stroke="#9cfe40" d="M411.5 241.9h0"/>
<path stroke="#75fe5c" d="M411.6 245.8h0"/>
<path stroke="#55fa76" d="M411.7 246.3h0"/>
<path stroke="#43f787" d="M411.9 248.6h0"/>
<path stroke="#2aefa1" d="M412.0 251.2h0"/>
<path stroke="#1ae4b6" d="M412.1 254.5h0"/>
<path stroke="#1fe9af" d="M412.2 254.5h0"/>
<path stroke="#22ebaa" d="M412.3 258.7h0"/>
<path stroke="#61fc6c" d="M412.5 262.5h0"/>
<path stroke="#4ef97d" d="M412.6 264.1h0"/>
<path stroke="#92ff47" d="M412.7 265.1h0"/>
<path stroke="#b9f635" d="M412.8 266.2h0"/>
<path stroke="#9cfe40" d="M412.9 271.2h0"/>
<path stroke="#92ff47" d="M413.1 271.0h0"/>
<path stroke="#a9fb39" d="M413.2 276.1h0"/>
<path stroke="#b1f936" d="M413.3 275.5h0"/>
<path stroke="#80ff53" d="M413.4 275.6h0"/>
<path stroke="#a4fc3c" d="M413.5 280.6h0"/>
<path stroke="#92ff47" d="M413.7 281.9h0M413.8 284.6h0"/>
<path stroke="#a9fb39" d="M413.9 287.5h0"/>
<path stroke="#8bff4b" d="M414.0 290.0h0"/>
<path stroke="#a4fc3c" d="M414.1 291.5h0"/>
<path stroke="#b1f936" d="M414.3 293.5h0"/>
<path stroke="#a9fb39" d="M414.4 296.0h0"/>
<path stroke="#80ff53" d="M414.5 298.2h0"/>
<path stroke="#92ff47" d="M414.6 299.1h0M414.7 302.3h0"/>
<path stroke="#8bff4b" d="M414.9 304.5h0"/>
<path stroke="#9cfe40" d="M415.0 307.6h0"/>
<path stroke="#92ff47" d="M415.1 310.9h0"/>
<path stroke="#b1f936" d="M415.2 312.3h0"/>
<path stroke="#75fe5c" d="M415.3 314.8h0"/>
<path stroke="#9cfe40" d="M415.5 318.5h0M415.6 321.7h0"/>
<path stroke="#8bff4b" d="M415.7 324.3h0M415.8 327.2h0M415.9 327.9h0"/>
<path stroke="#75fe5c" d="M416.1 329.3h0"/>
<path stroke="#55fa76" d="M416.2 332.1h0"/>
<path stroke="#9cfe40" d="M416.3 331.6h0"/>
<path stroke="#80ff53" d="M416.4 329.9h0"/>
<path stroke="#9cfe40" d="M416.5 330.1h0"/>
<path stroke="#80ff53" d="M416.7 330.0h0"/>
<path stroke="#9cfe40" d="M416.8 329.7h0M416.9 328.1h0"/>
<path stroke="#8bff4b" d="M417.0 327.7h0"/>
<path stroke="#92ff47" d="M417.1 327.1h0"/>
<path stroke="#a9fb39" d="M417.3 326.1h0"/>
<path stroke="#92ff47" d="M417.4 327.0h0"/>
<path stroke="#a4fc3c" d="M417.5 325.0h0"/>
<path stroke="#bef434" d="M417.6 325.0h0"/>
<path stroke="#b1f936" d="M417.7 325.4h0"/>
<path stroke="#a9fb39" d="M417.9 324.5h0"/>
<path stroke="#b1f936" d="M418.0 323.2h0"/>
<path stroke="#b9f635" d="M418.1 323.1h0"/>
<path stroke="#d2e935" d="M418.2 322.8h0"/>
<path stroke="#b9f635" d="M418.3 323.4h0"/>
<path stroke="#bef434" d="M418.5 322.4h0"/>
<path stroke="#d2e935" d="M418.6 321.6h0"/>
<path stroke="#cdec34" d="M418.7 319.9h0"/>
<path stroke="#d9e436" d="M418.8 319.7h0"/>
<path stroke="#e3db38" d="M418.9 318.0h0"/>
<path stroke="#eecf3a" d="M419.1 319.3h0"/>
<path stroke="#e9d539" d="M419.2 318.8h0M419.3 316.9h0M419.4 318.2h0"/>
<path stroke="#eecf3a" d="M419.5 318.5h0M419.7 316.6h0"/>
<path stroke="#f1cb3a" d="M419.8 316.4h0M419.9 315.0h0"/>
<path stroke="#f8be39" d="M420.0 316.0h0"/>
<path stroke="#f1cb3a" d="M420.1 312.6h0"/>
<path stroke="#faba39" d="M420.3 314.2h0"/>
<path stroke="#e3db38" d="M420.4 312.7h0"/>
<path stroke="#f5c53a" d="M420.5 314.2h0"/>
<path stroke="#f1cb3a" d="M420.6 310.9h0"/>
<path stroke="#f5c53a" d="M420.8 309.5h0"/>
<path stroke="#eecf3a" d="M420.9 311.2h0"/>
<path stroke="#f8be39" d="M421.0 310.5h0"/>
<path stroke="#f1cb3a" d="M421.1 311.2h0"/>
<path stroke="#faba39" d="M421.2 309.8h0"/>
<path stroke="#fcb336" d="M421.4 309.4h0M421.5 309.5h0"/>
<path stroke="#f5c53a" d="M421.6 307.7h0"/>
<path stroke="#f8be39" d="M421.7 307.3h0"/>
<path stroke="#faba39" d="M421.8 306.0h0"/>
<path stroke="#f5c53a" d="M422.0 305.4h0"/>
<path stroke="#faba39" d="M422.1 304.7h0"/>
<path stroke="#f8be39" d="M422.2 305.3h0"/>
<path stroke="#eecf3a" d="M422.3 301.8h0"/>
<path stroke="#f8be39" d="M422.4 300.7h0M422.6 298.0h0M422.7 294.2h0M422.8 292.6h0"/>
<path stroke="#f5c53a" d="M422.9 289.9h0"/>
<path stroke="#f1cb3a" d="M423.0 288.6h0"/>
<path stroke="#f5c53a" d="M423.2 284.4h0"/>
<path stroke="#eecf3a" d="M423.3 282.9h0M423.4 279.1h0"/>
<path stroke="#f1cb3a" d="M423.5 276.2h0"/>
<path stroke="#d9e436" d="M423.6 274.9h0"/>
<path stroke="#eecf3a" d="M423.8 273.0h0"/>
<path stroke="#e9d539" d="M423.9 270.1h0"/>
<path stroke="#cdec34" d="M424.0 266.4h0"/>
<path stroke="#d9e436" d="M424.1 264.9h0"/>
<path stroke="#d2e935" d="M424.2 262.7h0"/>
<path stroke="#d9e436" d="M424.4 260.2h0"/>
<path stroke="#c6f034" d="M424.5 258.7h0"/>
<path stroke="#bef434" d="M424.6 254.7h0"/>
<path stroke="#c6f034" d="M424.7 253.0h0"/>
<path stroke="#d2e935" d="M424.8 251.4h0"/>
<path stroke="#d9e436" d="M425.0 250.1h0"/>
<path stroke="#b9f635" d="M425.1 248.8h0"/>
<path stroke="#d9e436" d="M425.2 247.6h0"/>
<path stroke="#e9d539" d="M425.3 235.7h0"/>
<path stroke="#f8be39" d="M425.4 228.3h0"/>
<path stroke="#fcb336" d="M425.6 223.6h0"/>
<path stroke="#f5c53a" d="M425.7 218.3h0"/>
<path stroke="#e3db38" d="M425.8 212.3h0"/>
<path stroke="#e9d539" d="M425.9 198.9h0M426.0 186.5h0M426.2 177.2h0"/>
<path stroke="#f5c53a" d="M426.3 167.2h0"/>
<path stroke="#f1cb3a" d="M426.4 157.7h0"/>
<path stroke="#f5c53a" d="M426.5 154.6h0"/>
<path stroke="#f1cb3a" d="M426.6 151.0h0"/>
<path stroke="#f5c53a" d="M426.8 147.5h0"/>
<path stroke="#faba39" d="M426.9 143.7h0"/>
<path stroke="#fcb336" d="M427.0 140.6h0"/>
<path stroke="#f5c53a" d="M427.1 136.7h0"/>
<path stroke="#fdac34" d="M427.2 134.5h0"/>
<path stroke="#fea732" d="M427.4 133.3h0"/>
<path stroke="#fdac34" d="M427.5 131.7h0"/>
<path stroke="#fe962b" d="M427.6 128.1h0M427.7 127.6h0"/>
<path stroke="#fb7e21" d="M427.8 126.5h0"/>
<path stroke="#f76f1a" d="M428.0 125.0h0M428.1 124.2h0"/>
<path stroke="#ef5811" d="M428.2 123.2h0M428.3 121.0h0"/>
<path stroke="#df3f08" d="M428.4 120.2h0"/>
<path stroke="#e84b0c" d="M428.6 118.7h0"/>
<path stroke="#ef5811" d="M428.7 117.2h0M428.8 115.1h0"/>
<path stroke="#eb500e" d="M428.9 113.4h0"/>
<path stroke="#e84b0c" d="M429.0 110.3h0M429.2 110.2h0"/>
<path stroke="#ef5811" d="M429.3 107.0h0"/>
<path stroke="#eb500e" d="M429.4 107.0h0"/>
<path stroke="#f26014" d="M429.5 103.5h0"/>
<path stroke="#ef5811" d="M429.6 102.7h0M429.8 99.7h0M429.9 98.0h0"/>
<path stroke="#f46617" d="M430.0 97.0h0"/>
<path stroke="#e84b0c" d="M430.1 95.9h0M430.2 94.6h0"/>
<path stroke="#e4450a" d="M430.4 93.0h0M430.5 91.5h0"/>
<path stroke="#e84b0c" d="M430.6 90.6h0"/>
<path stroke="#eb500e" d="M430.7 87.6h0"/>
<path stroke="#e4450a" d="M430.8 88.2h0"/>
<path stroke="#e84b0c" d="M431.0 84.3h0"/>
<path stroke="#df3f08" d="M431.1 83.0h0"/>
<path stroke="#dc3b07" d="M431.2 80.3h0"/>
<path stroke="#d63506" d="M431.3 80.7h0M431.4 79.0h0M431.6 77.2h0M431.7 75.1h0"/>
<path stroke="#d02f05" d="M431.8 73.1h0"/>
<path stroke="#c52603" d="M431.9 72.6h0M432.0 71.1h0"/>
<path stroke="#b91e02" d="M432.2 69.7h0"/>
<path stroke="#c52603" d="M432.3 68.1h0"/>
<path stroke="#a41301" d="M432.4 68.8h0"/>
<path stroke="#be2102" d="M432.5 69.2h0"/>
<path stroke="#b21a01" d="M432.7 68.5h0"/>
<path stroke="#c52603" d="M432.8 67.6h0M432.9 67.6h0"/>
<path stroke="#be2102" d="M433.0 69.3h0"/>
<path stroke="#cc2b04" d="M433.1 68.8h0"/>
<path stroke="#c52603" d="M433.3 68.3h0"/>
<path stroke="#cc2b04" d="M433.4 67.0h0"/>
<path stroke="#b91e02" d="M433.5 67.7h0"/>
<path stroke="#be2102" d="M433.6 67.2h0"/>
<path stroke="#c52603" d="M433.7 66.2h0"/>
<path stroke="#b21a01" d="M433.9 65.9h0M434.0 66.4h0M434.1 66.3h0"/>
<path stroke="#be2102" d="M434.2 66.2h0"/>
<path stroke="#b91e02" d="M434.3 67.7h0"/>
<path stroke="#be2102" d="M434.5 67.3h0"/>
<path stroke="#a41301" d="M434.6 66.8h0"/>
<path stroke="#be2102" d="M434.7 66.4h0"/>
<path stroke="#c52603" d="M434.8 67.3h0"/>
<path stroke="#b21a01" d="M434.9 66.1h0"/>
<path stroke="#be2102" d="M435.1 66.5h0"/>
<path stroke="#9b0f01" d="M435.2 65.3h0"/>
<path stroke="#b21a01" d="M435.3 65.5h0"/>
<path stroke="#a91601" d="M435.4 65.9h0"/>
<path stroke="#b91e02" d="M435.5 65.7h0"/>
<path stroke="#9b0f01" d="M435.7 67.4h0"/>
<path stroke="#a91601" d="M435.8 66.9h0M435.9 67.2h0M436.0 67.6h0M436.1 66.9h0"/>
<path stroke="#be2102" d="M436.3 66.7h0"/>
<path stroke="#b21a01" d="M436.4 67.4h0"/>
<path stroke="#a41301" d="M436.5 69.0h0M436.6 69.0h0"/>
<path stroke="#a91601" d="M436.7 68.6h0M436.9 68.1h0"/>
<path stroke="#8b0902" d="M437.0 69.0h0"/>
<path stroke="#b21a01" d="M437.1 66.4h0M437.2 65.2h0M437.3 65.7h0"/>
<path stroke="#a41301" d="M437.5 67.5h0"/>
<path stroke="#b21a01" d="M437.6 66.8h0"/>
<path stroke="#a91601" d="M437.7 69.2h0M437.8 67.3h0"/>
<path stroke="#cc2b04" d="M437.9 68.3h0"/>
<path stroke="#c52603" d="M438.1 65.4h0"/>
<path stroke="#be2102" d="M438.2 64.0h0"/>
<path stroke="#b21a01" d="M438.3 64.8h0M438.4 64.5h0"/>
<path stroke="#b91e02" d="M438.5 61.1h0"/>
<path stroke="#be2102" d="M438.7 60.1h0"/>
<path stroke="#b21a01" d="M438.8 62.2h0"/>
<path stroke="#b91e02" d="M438.9 64.1h0M439.0 63.1h0"/>
<path stroke="#be2102" d="M439.1 65.5h0"/>
<path stroke="#b91e02" d="M439.3 64.1h0M439.4 64.1h0"/>
<path stroke="#d02f05" d="M439.5 64.2h0"/>
<path stroke="#be2102" d="M439.6 65.7h0"/>
<path stroke="#b91e02" d="M439.7 62.9h0"/>
<path stroke="#cc2b04" d="M439.9 64.2h0"/>
<path stroke="#b21a01" d="M440.0 64.4h0"/>
<path stroke="#be2102" d="M440.1 62.4h0"/>
<path stroke="#b21a01" d="M440.2 62.5h0"/>
<path stroke="#b91e02" d="M440.3 62.9h0M440.5 62.5h0"/>
<path stroke="#d02f05" d="M440.6 63.0h0"/>
<path stroke="#be2102" d="M440.7 61.7h0"/>
<path stroke="#b21a01" d="M440.8 62.8h0"/>
<path stroke="#b91e02" d="M440.9 62.0h0"/>
<path stroke="#b21a01" d="M441.1 63.2h0"/>
<path stroke="#b91e02" d="M441.2 63.7h0"/>
<path stroke="#c52603" d="M441.3 60.7h0"/>
<path stroke="#b91e02" d="M441.4 62.0h0"/>
<path stroke="#c52603" d="M441.5 61.5h0"/>
<path stroke="#b21a01" d="M441.7 62.5h0"/>
<path stroke="#a91601" d="M441.8 60.3h0"/>
<path stroke="#b91e02" d="M441.9 62.0h0M442.0 63.8h0"/>
<path stroke="#b21a01" d="M442.1 64.3h0"/>
<path stroke="#c52603" d="M442.3 62.2h0"/>
<path stroke="#b21a01" d="M442.4 64.2h0"/>
<path stroke="#be2102" d="M442.5 63.7h0"/>
<path stroke="#b91e02" d="M442.6 64.4h0"/>
<path stroke="#b21a01" d="M442.7 63.3h0"/>
<path stroke="#b91e02" d="M442.9 63.7h0"/>
<path stroke="#be2102" d="M443.0 63.7h0"/>
<path stroke="#cc2b04" d="M443.1 62.8h0"/>
<path stroke="#d02f05" d="M443.2 60.5h0"/>
<path stroke="#c52603" d="M443.3 63.1h0"/>
<path stroke="#cc2b04" d="M443.5 61.8h0"/>
<path stroke="#a91601" d="M443.6 63.4h0"/>
<path stroke="#be2102" d="M443.7 64.2h0"/>
<path stroke="#cc2b04" d="M443.8 64.7h0"/>
<path stroke="#be2102" d="M443.9 66.1h0"/>
<path stroke="#c52603" d="M444.1 66.4h0"/>
<path stroke="#be2102" d="M444.2 65.2h0"/>
<path stroke="#cc2b04" d="M444.3 63.1h0"/>
<path stroke="#b91e02" d="M444.4 63.4h0"/>
<path stroke="#cc2b04" d="M444.6 64.2h0"/>
<path stroke="#c52603" d="M444.7 66.1h0"/>
<path stroke="#cc2b04" d="M444.8 62.8h0"/>
<path stroke="#b91e02" d="M444.9 64.9h0"/>
<path stroke="#d02f05" d="M445.0 64.3h0"/>
<path stroke="#b21a01" d="M445.2 64.3h0"/>
<path stroke="#cc2b04" d="M445.3 65.7h0"/>
<path stroke="#be2102" d="M445.4 66.1h0"/>
<path stroke="#b21a01" d="M445.5 63.0h0"/>
<path stroke="#c52603" d="M445.6 62.3h0"/>
<path stroke="#b21a01" d="M445.8 62.6h0"/>
<path stroke="#d02f05" d="M445.9 62.4h0M446.0 62.9h0M446.1 61.5h0"/>
<path stroke="#cc2b04" d="M446.2 62.4h0"/>
<path stroke="#be2102" d="M446.4 62.9h0"/>
<path stroke="#b21a01" d="M446.5 61.9h0"/>
<path stroke="#c52603" d="M446.6 61.0h0"/>
<path stroke="#cc2b04" d="M446.7 61.6h0"/>
<path stroke="#c52603" d="M446.8 62.3h0"/>
<path stroke="#d02f05" d="M447.0 62.2h0"/>
<path stroke="#cc2b04" d="M447.1 65.1h0"/>
<path stroke="#d02f05" d="M447.2 65.5h0"/>
<path stroke="#be2102" d="M447.3 66.0h0"/>
<path stroke="#d63506" d="M447.4 67.7h0"/>
<path stroke="#b91e02" d="M447.6 69.7h0"/>
<path stroke="#d63506" d="M447.7 70.6h0"/>
<path stroke="#c52603" d="M447.8 69.3h0"/>
<path stroke="#d63506" d="M447.9 70.7h0"/>
<path stroke="#c52603" d="M448.0 71.0h0"/>
<path stroke="#cc2b04" d="M448.2 70.8h0"/>
<path stroke="#b91e02" d="M448.3 68.8h0"/>
<path stroke="#a41301" d="M448.4 69.8h0"/>
<path stroke="#b91e02" d="M448.5 67.4h0"/>
<path stroke="#d02f05" d="M448.6 67.4h0"/>
<path stroke="#be2102" d="M448.8 69.0h0"/>
<path stroke="#cc2b04" d="M448.9 69.7h0"/>
<path stroke="#be2102" d="M449.0 69.0h0"/>
<path stroke="#b91e02" d="M449.1 71.8h0"/>
<path stroke="#cc2b04" d="M449.2 71.2h0M449.4 70.4h0"/>
<path stroke="#b21a01" d="M449.5 68.8h0"/>
<path stroke="#d02f05" d="M449.6 70.6h0"/>
<path stroke="#be2102" d="M449.7 69.8h0"/>
<path stroke="#d63506" d="M449.8 70.1h0"/>
<path stroke="#b91e02" d="M450.0 70.4h0"/>
<path stroke="#be2102" d="M450.1 68.0h0M450.2 70.7h0"/>
<path stroke="#a91601" d="M450.3 69.0h0"/>
<path stroke="#c52603" d="M450.4 69.2h0"/>
<path stroke="#b91e02" d="M450.6 72.5h0"/>
<path stroke="#b21a01" d="M450.7 71.8h0"/>
<path stroke="#c52603" d="M450.8 71.9h0"/>
<path stroke="#b91e02" d="M450.9 71.3h0"/>
<path stroke="#be2102" d="M451.0 73.0h0"/>
<path stroke="#cc2b04" d="M451.2 71.5h0"/>
<path stroke="#d02f05" d="M451.3 71.5h0"/>
<path stroke="#be2102" d="M451.4 70.5h0M451.5 67.6h0M451.6 66.9h0"/>
<path stroke="#c52603" d="M451.8 66.3h0"/>
<path stroke="#d63506" d="M451.9 67.7h0"/>
<path stroke="#b91e02" d="M452.0 68.6h0"/>
<path stroke="#c52603" d="M452.1 67.6h0"/>
<path stroke="#be2102" d="M452.2 71.6h0"/>
<path stroke="#cc2b04" d="M452.4 70.7h0"/>
<path stroke="#d63506" d="M452.5 69.1h0"/>
<path stroke="#c52603" d="M452.6 68.9h0M452.7 70.2h0"/>
<path stroke="#cc2b04" d="M452.8 72.4h0"/>
<path stroke="#d02f05" d="M453.0 71.0h0"/>
<path stroke="#cc2b04" d="M453.1 71.6h0"/>
<path stroke="#d63506" d="M453.2 70.3h0"/>
<path stroke="#cc2b04" d="M453.3 74.6h0"/>
<path stroke="#d02f05" d="M453.4 73.6h0"/>
<path stroke="#cc2b04" d="M453.6 72.5h0"/>
<path stroke="#dc3b07" d="M453.7 75.0h0"/>
<path stroke="#d63506" d="M453.8 73.2h0"/>
<path stroke="#d02f05" d="M453.9 70.9h0"/>
<path stroke="#df3f08" d="M454.0 72.4h0"/>
<path stroke="#d63506" d="M454.2 73.7h0"/>
<path stroke="#dc3b07" d="M454.3 73.0h0M454.4 73.5h0"/>
<path stroke="#d63506" d="M454.5 72.5h0"/>
<path stroke="#c52603" d="M454.6 72.6h0"/>
<path stroke="#df3f08" d="M454.8 72.7h0M454.9 74.2h0M455.0 75.8h0"/>
<path stroke="#dc3b07" d="M455.1 78.8h0"/>
<path stroke="#d63506" d="M455.2 76.8h0"/>
<path stroke="#e4450a" d="M455.4 77.7h0"/>
<path stroke="#df3f08" d="M455.5 79.9h0"/>
<path stroke="#dc3b07" d="M455.6 78.9h0"/>
<path stroke="#e84b0c" d="M455.7 80.8h0"/>
<path stroke="#d63506" d="M455.8 84.3h0M456.0 83.5h0"/>
<path stroke="#df3f08" d="M456.1 83.2h0"/>
<path stroke="#eb500e" d="M456.2 82.7h0"/>
<path stroke="#df3f08" d="M456.3 82.9h0M456.5 84.4h0"/>
<path stroke="#e4450a" d="M456.6 84.3h0"/>
<path stroke="#eb500e" d="M456.7 85.0h0M456.8 86.7h0"/>
<path stroke="#e84b0c" d="M456.9 86.5h0"/>
<path stroke="#dc3b07" d="M457.1 88.8h0"/>
<path stroke="#e4450a" d="M457.2 89.3h0"/>
<path stroke="#e84b0c" d="M457.3 88.7h0"/>
<path stroke="#df3f08" d="M457.4 88.8h0"/>
<path stroke="#e4450a" d="M457.5 90.1h0"/>
<path stroke="#ef5811" d="M457.7 90.9h0"/>
<path stroke="#f26014" d="M457.8 93.5h0"/>
<path stroke="#eb500e" d="M457.9 95.7h0"/>
<path stroke="#e4450a" d="M458.0 93.4h0M458.1 92.9h0"/>
<path stroke="#df3f08" d="M458.3 93.3h0"/>
<path stroke="#eb500e" d="M458.4 92.3h0"/>
<path stroke="#e84b0c" d="M458.5 93.7h0"/>
<path stroke="#ef5811" d="M458.6 98.1h0M458.7 95.6h0"/>
<path stroke="#eb500e" d="M458.9 97.2h0"/>
<path stroke="#e84b0c" d="M459.0 98.0h0"/>
<path stroke="#df3f08" d="M459.1 97.4h0"/>
<path stroke="#e84b0c" d="M459.2 98.9h0"/>
<path stroke="#df3f08" d="M459.3 99.0h0"/>
<path stroke="#ef5811" d="M459.5 102.1h0"/>
<path stroke="#e4450a" d="M459.6 103.7h0"/>
<path stroke="#eb500e" d="M459.7 104.1h0"/>
<path stroke="#d63506" d="M459.8 102.1h0"/>
<path stroke="#e84b0c" d="M459.9 102.7h0"/>
<path stroke="#df3f08" d="M460.1 100.6h0"/>
<path stroke="#e84b0c" d="M460.2 101.4h0"/>
<path stroke="#df3f08" d="M460.3 102.2h0M460.4 105.2h0M460.5 105.2h0"/>
<path stroke="#d63506" d="M460.7 105.7h0"/>
<path stroke="#e84b0c" d="M460.8 105.8h0"/>
<path stroke="#dc3b07" d="M460.9 108.2h0"/>
<path stroke="#e4450a" d="M461.0 109.6h0M461.1 110.4h0"/>
<path stroke="#df3f08" d="M461.3 112.4h0"/>
<path stroke="#e4450a" d="M461.4 115.5h0"/>
<path stroke="#ef5811" d="M461.5 113.3h0"/>
<path stroke="#df3f08" d="M461.6 113.9h0"/>
<path stroke="#e4450a" d="M461.7 116.7h0"/>
<path stroke="#e84b0c" d="M461.9 115.9h0"/>
<path stroke="#ef5811" d="M462.0 118.6h0"/>
<path stroke="#df3f08" d="M462.1 120.4h0"/>
<path stroke="#e84b0c" d="M462.2 120.3h0"/>
<path stroke="#df3f08" d="M462.3 123.1h0"/>
<path stroke="#e84b0c" d="M462.5 124.3h0"/>
<path stroke="#e4450a" d="M462.6 127.4h0"/>
<path stroke="#eb500e" d="M462.7 132.0h0M462.8 133.5h0M462.9 137.0h0"/>
<path stroke="#f26014" d="M463.1 140.8h0"/>
<path stroke="#ef5811" d="M463.2 143.4h0M463.3 148.6h0M463.4 150.4h0"/>
<path stroke="#f26014" d="M463.5 153.9h0"/>
<path stroke="#eb500e" d="M463.7 157.2h0"/>
<path stroke="#ef5811" d="M463.8 159.4h0"/>
<path stroke="#f26014" d="M463.9 163.1h0"/>
<path stroke="#fb7e21" d="M464.0 165.4h0"/>
<path stroke="#f46617" d="M464.1 166.3h0"/>
<path stroke="#f26014" d="M464.3 168.8h0"/>
<path stroke="#fb7e21" d="M464.4 173.0h0"/>
<path stroke="#e84b0c" d="M464.5 177.8h0"/>
<path stroke="#f26014" d="M464.6 182.0h0"/>
<path stroke="#ef5811" d="M464.7 185.3h0"/>
<path stroke="#f76f1a" d="M464.9 188.7h0"/>
<path stroke="#f26014" d="M465.0 192.9h0M465.1 196.8h0"/>
<path stroke="#eb500e" d="M465.2 198.8h0"/>
<path stroke="#f26014" d="M465.3 204.1h0M465.5 208.3h0"/>
<path stroke="#eb500e" d="M465.6 212.9h0"/>
<path stroke="#f76f1a" d="M465.7 217.6h0"/>
<path stroke="#ef5811" d="M465.8 220.7h0"/>
<path stroke="#f46617" d="M465.9 223.8h0"/>
<path stroke="#eb500e" d="M466.1 227.1h0M466.2 229.2h0"/>
<path stroke="#ef5811" d="M466.3 232.6h0"/>
<path stroke="#e84b0c" d="M466.4 235.6h0"/>
<path stroke="#f26014" d="M466.5 239.1h0M466.7 239.8h0M466.8 243.2h0"/>
<path stroke="#ef5811" d="M466.9 246.1h0M467.0 250.1h0"/>
<path stroke="#eb500e" d="M467.1 252.3h0M467.3 254.3h0"/>
<path stroke="#f26014" d="M467.4 257.4h0"/>
<path stroke="#eb500e" d="M467.5 259.8h0"/>
<path stroke="#f76f1a" d="M467.6 262.4h0"/>
<path stroke="#ef5811" d="M467.7 266.5h0M467.9 268.2h0"/>
<path stroke="#f46617" d="M468.0 270.1h0"/>
<path stroke="#f76f1a" d="M468.1 268.0h0"/>
<path stroke="#f46617" d="M468.2 267.2h0"/>
<path stroke="#f9781e" d="M468.4 265.7h0"/>
<path stroke="#f26014" d="M468.5 262.7h0"/>
<path stroke="#f76f1a" d="M468.6 261.1h0"/>
<path stroke="#fb7e21" d="M468.7 259.4h0"/>
<path stroke="#f9781e" d="M468.8 258.2h0M469.0 255.5h0M469.1 255.7h0"/>
<path stroke="#fb7e21" d="M469.2 253.9h0"/>
<path stroke="#f76f1a" d="M469.3 252.0h0"/>
<path stroke="#fe9029" d="M469.4 251.1h0"/>
<path stroke="#fb7e21" d="M469.6 250.1h0"/>
<path stroke="#fe962b" d="M469.7 246.4h0"/>
<path stroke="#fc8725" d="M469.8 242.7h0M469.9 240.8h0"/>
<path stroke="#fe962b" d="M470.0 238.7h0"/>
<path stroke="#fe9e2f" d="M470.2 236.4h0"/>
<path stroke="#fe962b" d="M470.3 234.1h0"/>
<path stroke="#fe9e2f" d="M470.4 233.3h0M470.5 231.9h0"/>
<path stroke="#fe9029" d="M470.6 226.9h0"/>
<path stroke="#fea732" d="M470.8 223.4h0"/>
<path stroke="#fe962b" d="M470.9 218.5h0"/>
<path stroke="#fea732" d="M471.0 215.3h0"/>
<path stroke="#fdac34" d="M471.1 211.1h0M471.2 207.3h0"/>
<path stroke="#fea732" d="M471.4 201.0h0"/>
<path stroke="#faba39" d="M471.5 195.2h0"/>
<path stroke="#fea732" d="M471.6 191.4h0"/>
<path stroke="#fe9029" d="M471.7 183.8h0"/>
<path stroke="#fe962b" d="M471.8 176.7h0"/>
<path stroke="#f76f1a" d="M472.0 170.0h0"/>
<path stroke="#f9781e" d="M472.1 162.6h0"/>
<path stroke="#f46617" d="M472.2 155.6h0"/>
<path stroke="#fb7e21" d="M472.3 150.9h0M472.4 144.3h0"/>
<path stroke="#fe962b" d="M472.6 138.2h0"/>
<path stroke="#fe9e2f" d="M472.7 133.3h0"/>
<path stroke="#fe962b" d="M472.8 130.5h0M472.9 127.0h0"/>
<path stroke="#fdac34" d="M473.0 124.5h0"/>
<path stroke="#fe9e2f" d="M473.2 121.0h0"/>
<path stroke="#fea732" d="M473.3 116.9h0"/>
<path stroke="#fe962b" d="M473.4 113.7h0"/>
<path stroke="#fea732" d="M473.5 111.8h0"/>
<path stroke="#fe9029" d="M473.6 108.2h0"/>
<path stroke="#fe962b" d="M473.8 109.6h0"/>
<path stroke="#fdac34" d="M473.9 107.6h0"/>
<path stroke="#fcb336" d="M474.0 105.5h0M474.1 105.5h0"/>
<path stroke="#fdac34" d="M474.2 103.4h0"/>
<path stroke="#fea732" d="M474.4 104.3h0"/>
<path stroke="#fc8725" d="M474.5 103.0h0"/>
<path stroke="#fea732" d="M474.6 101.9h0M474.7 100.4h0M474.8 98.1h0"/>
<path stroke="#fe962b" d="M475.0 97.7h0"/>
<path stroke="#fc8725" d="M475.1 97.1h0M475.2 95.4h0"/>
<path stroke="#fe9029" d="M475.3 95.2h0"/>
<path stroke="#fe962b" d="M475.4 92.9h0"/>
<path stroke="#fea732" d="M475.6 91.0h0"/>
<path stroke="#fdac34" d="M475.7 89.5h0M475.8 89.4h0"/>
<path stroke="#fea732" d="M475.9 87.5h0"/>
<path stroke="#fcb336" d="M476.0 90.0h0"/>
<path stroke="#fdac34" d="M476.2 90.2h0"/>
<path stroke="#fcb336" d="M476.3 90.8h0M476.4 92.4h0"/>
<path stroke="#fdac34" d="M476.5 93.5h0"/>
<path stroke="#fcb336" d="M476.6 93.1h0"/>
<path stroke="#faba39" d="M476.8 93.8h0"/>
<path stroke="#f8be39" d="M476.9 93.6h0M477.0 95.2h0"/>
<path stroke="#f5c53a" d="M477.1 95.1h0"/>
<path stroke="#f8be39" d="M477.2 96.2h0M477.4 96.0h0"/>
<path stroke="#f5c53a" d="M477.5 96.6h0M477.6 98.8h0"/>
<path stroke="#fcb336" d="M477.7 99.8h0M477.8 101.6h0"/>
<path stroke="#f1cb3a" d="M478.0 103.8h0"/>
<path stroke="#eecf3a" d="M478.1 106.0h0M478.2 106.7h0"/>
<path stroke="#e9d539" d="M478.3 109.1h0"/>
<path stroke="#dfdf37" d="M478.4 109.0h0"/>
<path stroke="#e3db38" d="M478.6 111.3h0"/>
<path stroke="#e9d539" d="M478.7 112.0h0"/>
<path stroke="#d9e436" d="M478.8 115.6h0"/>
<path stroke="#c6f034" d="M478.9 119.3h0"/>
<path stroke="#d2e935" d="M479.0 119.9h0"/>
<path stroke="#cdec34" d="M479.2 119.5h0"/>
<path stroke="#c6f034" d="M479.3 122.7h0"/>
<path stroke="#9cfe40" d="M479.4 124.5h0"/>
<path stroke="#c6f034" d="M479.5 127.4h0"/>
<path stroke="#d2e935" d="M479.6 130.3h0"/>
<path stroke="#92ff47" d="M479.8 129.8h0"/>
<path stroke="#80ff53" d="M479.9 130.6h0"/>
<path stroke="#8bff4b" d="M480.0 130.5h0"/>
<path stroke="#92ff47" d="M480.1 130.6h0"/>
<path stroke="#b9f635" d="M480.3 131.7h0"/>
<path stroke="#b1f936" d="M480.4 133.9h0M480.5 134.2h0"/>
<path stroke="#92ff47" d="M480.6 135.5h0"/>
<path stroke="#8bff4b" d="M480.7 138.9h0"/>
<path stroke="#bef434" d="M480.9 138.5h0"/>
<path stroke="#9cfe40" d="M481.0 143.7h0"/>
<path stroke="#8bff4b" d="M481.1 143.6h0"/>
<path stroke="#9cfe40" d="M481.2 145.4h0"/>
<path stroke="#6dfe62" d="M481.3 149.3h0"/>
<path stroke="#8bff4b" d="M481.5 150.8h0"/>
<path stroke="#75fe5c" d="M481.6 145.7h0M481.7 147.1h0"/>
<path stroke="#6dfe62" d="M481.8 147.5h0"/>
<path stroke="#9cfe40" d="M481.9 152.0h0"/>
<path stroke="#a4fc3c" d="M482.1 157.1h0"/>
<path stroke="#80ff53" d="M482.2 158.4h0M482.3 158.1h0"/>
<path stroke="#4ef97d" d="M482.4 162.0h0"/>
<path stroke="#9cfe40" d="M482.5 161.2h0"/>
<path stroke="#6dfe62" d="M482.7 162.8h0"/>
<path stroke="#43f787" d="M482.8 163.9h0"/>
<path stroke="#61fc6c" d="M482.9 162.8h0"/>
<path stroke="#38f491" d="M483.0 161.5h0"/>
<path stroke="#61fc6c" d="M483.1 162.1h0"/>
<path stroke="#4ef97d" d="M483.3 164.1h0"/>
<path stroke="#55fa76" d="M483.4 164.9h0"/>
<path stroke="#80ff53" d="M483.5 160.8h0"/>
<path stroke="#18d7ca" d="M483.6 161.3h0"/>
<path stroke="#4ef97d" d="M483.7 161.2h0"/>
<path stroke="#18d7ca" d="M483.9 165.6h0"/>
<path stroke="#4ef97d" d="M484.0 165.7h0"/>
<path stroke="#18e0bd" d="M484.1 164.2h0"/>
<path stroke="#1ae4b6" d="M484.2 163.3h0"/>
<path stroke="#33adf7" d="M484.3 163.2h0"/>
<path stroke="#1fe9af" d="M484.5 163.1h0M484.6 157.1h0"/>
<path stroke="#18ddc2" d="M484.7 155.7h0"/>
<path stroke="#18e0bd" d="M484.8 157.7h0"/>
<path stroke="#2aefa1" d="M484.9 150.5h0"/>
<path stroke="#1ccdd8" d="M485.1 142.3h0"/>
<path stroke="#18d7ca" d="M485.2 145.1h0"/>
<path stroke="#1ccdd8" d="M485.3 139.6h0"/>
<path stroke="#4099ff" d="M485.4 135.5h0"/>
<path stroke="#1ae4b6" d="M485.5 136.1h0M485.7 138.0h0"/>
<path stroke="#25c0e7" d="M485.8 139.9h0"/>
<path stroke="#2eb4f2" d="M485.9 140.8h0"/>
<path stroke="#18d7ca" d="M486.0 145.2h0"/>
<path stroke="#1ccdd8" d="M486.1 144.9h0"/>
<path stroke="#28bceb" d="M486.3 141.2h0M486.4 133.2h0"/>
<path stroke="#18d7ca" d="M486.5 138.1h0"/>
<path stroke="#4099ff" d="M486.6 141.9h0"/>
<path stroke="#3ba0fd" d="M486.7 145.7h0"/>
<path stroke="#25c0e7" d="M486.9 144.6h0"/>
<path stroke="#18d7ca" d="M487.0 140.2h0"/>
<path stroke="#20c7df" d="M487.1 142.6h0"/>
<path stroke="#458cfd" d="M487.2 142.6h0"/>
<path stroke="#4099ff" d="M487.3 137.2h0M487.5 143.1h0"/>
<path stroke="#4680f6" d="M487.6 138.0h0"/>
<path stroke="#1ae4b6" d="M487.7 136.2h0"/>
<path stroke="#37a8fa" d="M487.8 142.3h0"/>
<path stroke="#18d7ca" d="M487.9 138.0h0"/>
<path stroke="#2eb4f2" d="M488.1 137.6h0"/>
<path stroke="#28bceb" d="M488.2 140.0h0M488.3 139.1h0M488.4 131.9h0"/>
<path stroke="#2eb4f2" d="M488.5 130.4h0"/>
<path stroke="#18d7ca" d="M488.7 128.8h0"/>
<path stroke="#32f298" d="M488.8 123.3h0"/>
<path stroke="#38f491" d="M488.9 129.2h0M489.0 130.2h0"/>
<path stroke="#61fc6c" d="M489.1 130.0h0"/>
<path stroke="#92ff47" d="M489.3 127.8h0"/>
<path stroke="#43f787" d="M489.4 127.8h0"/>
<path stroke="#80ff53" d="M489.5 123.2h0"/>
<path stroke="#9cfe40" d="M489.6 117.6h0"/>
<path stroke="#80ff53" d="M489.7 116.8h0"/>
<path stroke="#9cfe40" d="M489.9 116.3h0"/>
<path stroke="#b9f635" d="M490.0 115.5h0"/>
<path stroke="#cdec34" d="M490.1 111.4h0"/>
<path stroke="#b1f936" d="M490.2 109.9h0"/>
<path stroke="#d9e436" d="M490.3 113.2h0"/>
<path stroke="#d2e935" d="M490.5 112.5h0"/>
<path stroke="#c6f034" d="M490.6 111.0h0"/>
<path stroke="#d2e935" d="M490.7 112.0h0"/>
<path stroke="#bef434" d="M490.8 116.2h0"/>
<path stroke="#d9e436" d="M490.9 114.9h0M491.1 116.9h0"/>
<path stroke="#e3db38" d="M491.2 116.7h0"/>
<path stroke="#e9d539" d="M491.3 117.2h0"/>
<path stroke="#e3db38" d="M491.4 117.6h0"/>
<path stroke="#f1cb3a" d="M491.5 119.5h0"/>
<path stroke="#f5c53a" d="M491.7 120.5h0"/>
<path stroke="#e9d539" d="M491.8 120.2h0M491.9 121.8h0"/>
<path stroke="#eecf3a" d="M492.0 121.6h0M492.2 121.4h0"/>
<path stroke="#f1cb3a" d="M492.3 123.2h0"/>
<path stroke="#eecf3a" d="M492.4 122.5h0"/>
<path stroke="#f5c53a" d="M492.5 123.7h0"/>
<path stroke="#f8be39" d="M492.6 125.7h0"/>
<path stroke="#fcb336" d="M492.8 124.6h0M492.9 127.0h0M493.0 127.4h0"/>
<path stroke="#f8be39" d="M493.1 128.5h0"/>
<path stroke="#faba39" d="M493.2 129.9h0"/>
<path stroke="#fcb336" d="M493.4 129.5h0"/>
<path stroke="#faba39" d="M493.5 129.5h0"/>
<path stroke="#fea732" d="M493.6 131.5h0"/>
<path stroke="#fdac34" d="M493.7 132.8h0"/>
<path stroke="#faba39" d="M493.8 132.6h0M494.0 132.0h0"/>
<path stroke="#f8be39" d="M494.1 134.2h0"/>
<path stroke="#faba39" d="M494.2 133.5h0"/>
<path stroke="#f8be39" d="M494.3 133.5h0"/>
<path stroke="#fea732" d="M494.4 136.3h0M494.6 134.9h0"/>
<path stroke="#fdac34" d="M494.7 135.4h0"/>
<path stroke="#fea732" d="M494.8 136.5h0"/>
<path stroke="#faba39" d="M494.9 135.7h0"/>
<path stroke="#fea732" d="M495.0 137.5h0"/>
<path stroke="#faba39" d="M495.2 140.6h0"/>
<path stroke="#fdac34" d="M495.3 141.0h0M495.4 142.4h0"/>
<path stroke="#faba39" d="M495.5 143.4h0"/>
<path stroke="#fea732" d="M495.6 142.9h0M495.8 143.3h0M495.9 144.8h0"/>
<path stroke="#fe9e2f" d="M496.0 142.4h0"/>
<path stroke="#fdac34" d="M496.1 141.9h0"/>
<path stroke="#fe962b" d="M496.2 140.3h0"/>
<path stroke="#fe9e2f" d="M496.4 138.8h0"/>
<path stroke="#fea732" d="M496.5 137.7h0"/>
<path stroke="#fdac34" d="M496.6 137.4h0"/>
<path stroke="#fe9e2f" d="M496.7 136.6h0"/>
<path stroke="#fcb336" d="M496.8 133.1h0"/>
<path stroke="#fea732" d="M497.0 134.4h0M497.1 130.8h0"/>
<path stroke="#fe9029" d="M497.2 130.8h0"/>
<path stroke="#fe962b" d="M497.3 130.4h0M497.4 128.0h0"/>
<path stroke="#fea732" d="M497.6 127.4h0"/>
<path stroke="#fe962b" d="M497.7 125.6h0"/>
<path stroke="#fb7e21" d="M497.8 125.3h0"/>
<path stroke="#fe9e2f" d="M497.9 124.5h0"/>
<path stroke="#fe9029" d="M498.0 123.1h0"/>
<path stroke="#fe962b" d="M498.2 121.5h0"/>
<path stroke="#fe9029" d="M498.3 121.0h0"/>
<path stroke="#fea732" d="M498.4 121.6h0"/>
<path stroke="#fe962b" d="M498.5 121.5h0M498.6 120.7h0"/>
<path stroke="#fe9e2f" d="M498.8 121.7h0"/>
<path stroke="#fe962b" d="M498.9 121.8h0"/>
<path stroke="#fea732" d="M499.0 118.7h0"/>
<path stroke="#fc8725" d="M499.1 118.9h0"/>
<path stroke="#fe9029" d="M499.2 120.1h0M499.4 119.6h0"/>
<path stroke="#fe962b" d="M499.5 120.4h0"/>
<path stroke="#fc8725" d="M499.6 120.9h0M499.7 120.5h0"/>
<path stroke="#fe9029" d="M499.8 120.6h0"/>
<path stroke="#fe962b" d="M500.0 119.8h0"/>
<path stroke="#fe9029" d="M500.1 120.4h0"/>
<path stroke="#fe962b" d="M500.2 118.7h0"/>
<path stroke="#fe9e2f" d="M500.3 120.0h0M500.4 120.3h0"/>
<path stroke="#fc8725" d="M500.6 118.6h0"/>
<path stroke="#fe9029" d="M500.7 117.4h0"/>
<path stroke="#fe962b" d="M500.8 117.2h0M500.9 117.9h0M501.0 116.3h0"/>
<path stroke="#fe9029" d="M501.2 111.9h0"/>
<path stroke="#f9781e" d="M501.3 108.9h0M501.4 105.2h0"/>
<path stroke="#fe962b" d="M501.5 103.2h0"/>
<path stroke="#fc8725" d="M501.6 98.6h0M501.8 96.4h0"/>
<path stroke="#f9781e" d="M501.9 95.5h0"/>
<path stroke="#fb7e21" d="M502.0 94.9h0"/>
<path stroke="#fc8725" d="M502.1 92.6h0"/>
<path stroke="#f9781e" d="M502.2 92.1h0M502.4 88.7h0"/>
<path stroke="#fc8725" d="M502.5 87.8h0"/>
<path stroke="#fb7e21" d="M502.6 87.5h0"/>
<path stroke="#f76f1a" d="M502.7 86.5h0"/>
<path stroke="#fb7e21" d="M502.8 85.6h0M503.0 84.8h0"/>
<path stroke="#f76f1a" d="M503.1 84.0h0"/>
<path stroke="#f26014" d="M503.2 81.0h0"/>
<path stroke="#f46617" d="M503.3 79.5h0M503.4 78.3h0"/>
<path stroke="#f26014" d="M503.6 79.5h0"/>
<path stroke="#fc8725" d="M503.7 80.6h0"/>
<path stroke="#f9781e" d="M503.8 80.4h0"/>
<path stroke="#f46617" d="M503.9 78.3h0"/>
<path stroke="#f9781e" d="M504.1 78.0h0"/>
<path stroke="#ef5811" d="M504.2 78.3h0M504.3 79.5h0"/>
<path stroke="#f46617" d="M504.4 79.0h0M504.5 76.8h0"/>
<path stroke="#f26014" d="M504.7 77.0h0M504.8 76.2h0"/>
<path stroke="#f76f1a" d="M504.9 75.9h0"/>
<path stroke="#ef5811" d="M505.0 77.2h0"/>
<path stroke="#f26014" d="M505.1 77.0h0M505.3 77.4h0M505.4 78.8h0"/>
<path stroke="#e4450a" d="M505.5 77.5h0"/>
<path stroke="#eb500e" d="M505.6 77.8h0M505.7 78.4h0M505.9 79.7h0"/>
<path stroke="#ef5811" d="M506.0 79.0h0M506.1 80.0h0"/>
<path stroke="#e84b0c" d="M506.2 81.5h0"/>
<path stroke="#ef5811" d="M506.3 80.8h0"/>
<path stroke="#eb500e" d="M506.5 81.8h0"/>
<path stroke="#ef5811" d="M506.6 81.5h0"/>
<path stroke="#e84b0c" d="M506.7 83.4h0"/>
<path stroke="#df3f08" d="M506.8 82.8h0"/>
<path stroke="#e84b0c" d="M506.9 82.3h0M507.1 84.2h0M507.2 85.5h0"/>
<path stroke="#df3f08" d="M507.3 85.0h0"/>
<path stroke="#e84b0c" d="M507.4 84.7h0"/>
<path stroke="#df3f08" d="M507.5 83.8h0M507.7 83.6h0M507.8 85.7h0"/>
<path stroke="#e84b0c" d="M507.9 85.6h0"/>
<path stroke="#d63506" d="M508.0 86.1h0"/>
<path stroke="#df3f08" d="M508.1 85.5h0"/>
<path stroke="#d02f05" d="M508.3 84.7h0"/>
<path stroke="#dc3b07" d="M508.4 85.9h0M508.5 88.5h0"/>
<path stroke="#df3f08" d="M508.6 88.4h0"/>
<path stroke="#d63506" d="M508.7 88.8h0"/>
<path stroke="#dc3b07" d="M508.9 90.7h0M509.0 89.5h0"/>
<path stroke="#cc2b04" d="M509.1 91.2h0"/>
<path stroke="#dc3b07" d="M509.2 89.9h0"/>
<path stroke="#d63506" d="M509.3 89.1h0M509.5 91.9h0"/>
<path stroke="#df3f08" d="M509.6 91.8h0"/>
<path stroke="#d63506" d="M509.7 93.4h0M509.8 93.1h0M509.9 91.5h0"/>
<path stroke="#d02f05" d="M510.1 93.0h0M510.2 94.5h0"/>
<path stroke="#dc3b07" d="M510.3 92.6h0"/>
<path stroke="#df3f08" d="M510.4 90.6h0"/>
<path stroke="#d63506" d="M510.5 90.1h0"/>
<path stroke="#df3f08" d="M510.7 90.3h0"/>
<path stroke="#d02f05" d="M510.8 90.0h0"/>
<path stroke="#c52603" d="M510.9 89.0h0"/>
<path stroke="#d02f05" d="M511.0 90.0h0M511.1 90.7h0M511.3 87.0h0"/>
<path stroke="#cc2b04" d="M511.4 88.2h0"/>
<path stroke="#d63506" d="M511.5 87.7h0"/>
<path stroke="#cc2b04" d="M511.6 87.8h0M511.7 89.2h0"/>
<path stroke="#be2102" d="M511.9 90.1h0"/>
<path stroke="#cc2b04" d="M512.0 90.3h0M512.1 90.6h0"/>
<path stroke="#c52603" d="M512.2 89.9h0"/>
<path stroke="#d63506" d="M512.3 89.8h0"/>
<path stroke="#d02f05" d="M512.5 88.6h0"/>
<path stroke="#c52603" d="M512.6 89.0h0"/>
<path stroke="#b21a01" d="M512.7 87.3h0"/>
<path stroke="#b91e02" d="M512.8 87.0h0"/>
<path stroke="#be2102" d="M512.9 87.8h0"/>
<path stroke="#c52603" d="M513.1 86.0h0"/>
<path stroke="#d02f05" d="M513.2 85.7h0"/>
<path stroke="#c52603" d="M513.3 84.9h0M513.4 83.7h0"/>
<path stroke="#be2102" d="M513.5 82.3h0"/>
<path stroke="#c52603" d="M513.7 84.2h0"/>
<path stroke="#be2102" d="M513.8 86.2h0"/>
<path stroke="#a91601" d="M513.9 85.9h0"/>
<path stroke="#b21a01" d="M514.0 84.1h0"/>
<path stroke="#a41301" d="M514.1 84.3h0"/>
<path stroke="#be2102" d="M514.3 83.9h0"/>
<path stroke="#a91601" d="M514.4 84.1h0"/>
<path stroke="#b91e02" d="M514.5 83.7h0"/>
<path stroke="#b21a01" d="M514.6 83.3h0"/>
<path stroke="#b91e02" d="M514.7 82.5h0M514.9 80.9h0"/>
<path stroke="#be2102" d="M515.0 82.3h0"/>
<path stroke="#b91e02" d="M515.1 80.9h0M515.2 80.0h0M515.3 80.4h0"/>
<path stroke="#c52603" d="M515.5 79.8h0"/>
<path stroke="#b91e02" d="M515.6 81.1h0"/>
<path stroke="#a91601" d="M515.7 80.2h0"/>
<path stroke="#b91e02" d="M515.8 80.1h0"/>
<path stroke="#b21a01" d="M516.0 79.3h0"/>
<path stroke="#c52603" d="M516.1 78.6h0"/>
<path stroke="#b21a01" d="M516.2 79.9h0"/>
<path stroke="#b91e02" d="M516.3 77.5h0"/>
<path stroke="#c52603" d="M516.4 77.8h0"/>
<path stroke="#a91601" d="M516.6 77.3h0"/>
<path stroke="#a41301" d="M516.7 76.8h0"/>
<path stroke="#b91e02" d="M516.8 75.2h0"/>
<path stroke="#c52603" d="M516.9 74.1h0"/>
<path stroke="#a91601" d="M517.0 73.8h0"/>
<path stroke="#b21a01" d="M517.2 74.5h0M517.3 72.9h0"/>
<path stroke="#a91601" d="M517.4 73.4h0"/>
<path stroke="#b21a01" d="M517.5 70.5h0"/>
<path stroke="#a91601" d="M517.6 73.6h0"/>
<path stroke="#a41301" d="M517.8 73.1h0"/>
<path stroke="#a91601" d="M517.9 71.5h0"/>
<path stroke="#920b01" d="M518.0 72.0h0"/>
<path stroke="#a41301" d="M518.1 71.7h0"/>
<path stroke="#9b0f01" d="M518.2 70.6h0"/>
<path stroke="#a41301" d="M518.4 70.8h0"/>
<path stroke="#a91601" d="M518.5 70.0h0M518.6 72.2h0"/>
<path stroke="#b21a01" d="M518.7 71.3h0"/>
<path stroke="#a41301" d="M518.8 70.9h0M519.0 72.2h0M519.1 71.3h0"/>
<path stroke="#9b0f01" d="M519.2 72.0h0M519.3 69.1h0"/>
<path stroke="#be2102" d="M519.4 69.8h0"/>
<path stroke="#9b0f01" d="M519.6 69.9h0"/>
<path stroke="#b21a01" d="M519.7 67.3h0"/>
<path stroke="#9b0f01" d="M519.8 67.5h0"/>
<path stroke="#920b01" d="M519.9 68.5h0"/>
<path stroke="#b91e02" d="M520.0 67.5h0"/>
<path stroke="#a41301" d="M520.2 66.1h0"/>
<path stroke="#9b0f01" d="M520.3 65.3h0M520.4 65.4h0"/>
<path stroke="#a91601" d="M520.5 66.2h0"/>
<path stroke="#920b01" d="M520.6 67.0h0"/>
<path stroke="#9b0f01" d="M520.8 66.3h0"/>
<path stroke="#a41301" d="M520.9 67.4h0"/>
<path stroke="#b21a01" d="M521.0 65.8h0"/>
<path stroke="#9b0f01" d="M521.1 64.8h0"/>
<path stroke="#a41301" d="M521.2 64.1h0"/>
<path stroke="#7a0403" d="M521.4 64.7h0"/>
<path stroke="#920b01" d="M521.5 63.0h0"/>
<path stroke="#a91601" d="M521.6 63.7h0"/>
<path stroke="#920b01" d="M521.7 61.5h0"/>
<path stroke="#9b0f01" d="M521.8 62.1h0"/>
<path stroke="#920b01" d="M522.0 60.9h0"/>
<path stroke="#9b0f01" d="M522.1 60.4h0"/>
<path stroke="#a41301" d="M522.2 60.7h0"/>
<path stroke="#9b0f01" d="M522.3 61.9h0"/>
<path stroke="#920b01" d="M522.4 60.6h0M522.6 62.1h0"/>
<path stroke="#9b0f01" d="M522.7 59.4h0"/>
<path stroke="#a41301" d="M522.8 60.3h0"/>
<path stroke="#9b0f01" d="M522.9 60.8h0"/>
<path stroke="#b91e02" d="M523.0 59.7h0"/>
<path stroke="#9b0f01" d="M523.2 60.3h0"/>
<path stroke="#810602" d="M523.3 60.8h0"/>
<path stroke="#8b0902" d="M523.4 61.5h0"/>
<path stroke="#a41301" d="M523.5 61.0h0"/>
<path stroke="#920b01" d="M523.6 60.1h0"/>
<path stroke="#7a0403" d="M523.8 59.5h0"/>
<path stroke="#920b01" d="M523.9 59.8h0"/>
<path stroke="#8b0902" d="M524.0 59.3h0"/>
<path stroke="#a41301" d="M524.1 57.8h0"/>
<path stroke="#7a0403" d="M524.2 58.2h0"/>
<path stroke="#920b01" d="M524.4 60.0h0"/>
<path stroke="#a41301" d="M524.5 58.2h0"/>
<path stroke="#a91601" d="M524.6 61.0h0"/>
<path stroke="#920b01" d="M524.7 60.3h0"/>
<path stroke="#b21a01" d="M524.8 58.3h0"/>
<path stroke="#a41301" d="M525.0 58.3h0"/>
<path stroke="#9b0f01" d="M525.1 56.6h0M525.2 57.6h0M525.3 58.5h0"/>
<path stroke="#920b01" d="M525.4 58.8h0"/>
<path stroke="#a41301" d="M525.6 59.2h0"/>
<path stroke="#920b01" d="M525.7 58.0h0M525.8 58.3h0M525.9 56.9h0M526.0 58.6h0"/>
<path stroke="#a91601" d="M526.2 57.0h0"/>
<path stroke="#9b0f01" d="M526.3 56.9h0"/>
<path stroke="#8b0902" d="M526.4 56.9h0"/>
<path stroke="#b21a01" d="M526.5 56.1h0"/>
<path stroke="#a91601" d="M526.6 57.4h0"/>
<path stroke="#a41301" d="M526.8 57.8h0M526.9 58.0h0"/>
<path stroke="#920b01" d="M527.0 57.8h0"/>
<path stroke="#9b0f01" d="M527.1 58.3h0M527.2 57.6h0"/>
<path stroke="#b21a01" d="M527.4 56.8h0"/>
<path stroke="#920b01" d="M527.5 58.2h0"/>
<path stroke="#a41301" d="M527.6 57.2h0"/>
<path stroke="#a91601" d="M527.7 57.6h0M527.9 57.8h0"/>
<path stroke="#a41301" d="M528.0 56.2h0M528.1 55.5h0"/>
<path stroke="#a91601" d="M528.2 55.4h0M528.3 57.0h0"/>
<path stroke="#a41301" d="M528.5 58.9h0"/>
<path stroke="#a91601" d="M528.6 58.2h0"/>
<path stroke="#8b0902" d="M528.7 57.4h0M528.8 59.3h0"/>
<path stroke="#920b01" d="M528.9 59.2h0M529.1 57.0h0"/>
<path stroke="#8b0902" d="M529.2 56.9h0"/>
<path stroke="#7a0403" d="M529.3 56.9h0"/>
<path stroke="#9b0f01" d="M529.4 56.9h0"/>
<path stroke="#920b01" d="M529.5 56.7h0"/>
<path stroke="#a41301" d="M529.7 56.7h0"/>
<path stroke="#8b0902" d="M529.8 58.6h0"/>
<path stroke="#a41301" d="M529.9 57.5h0"/>
<path stroke="#9b0f01" d="M530.0 57.6h0M530.1 56.7h0M530.3 57.3h0"/>
<path stroke="#a41301" d="M530.4 55.9h0"/>
<path stroke="#9b0f01" d="M530.5 57.0h0"/>
<path stroke="#920b01" d="M530.6 55.6h0M530.7 54.5h0M530.9 54.4h0"/>
<path stroke="#810602" d="M531.0 54.4h0"/>
<path stroke="#b21a01" d="M531.1 55.8h0"/>
<path stroke="#a41301" d="M531.2 56.2h0M531.3 55.9h0"/>
<path stroke="#9b0f01" d="M531.5 54.3h0M531.6 52.7h0"/>
<path stroke="#920b01" d="M531.7 53.1h0M531.8 52.9h0"/>
<path stroke="#9b0f01" d="M531.9 53.2h0"/>
<path stroke="#a41301" d="M532.1 53.7h0"/>
<path stroke="#9b0f01" d="M532.2 54.1h0M532.3 52.6h0"/>
<path stroke="#a91601" d="M532.4 53.6h0"/>
<path stroke="#9b0f01" d="M532.5 54.2h0"/>
<path stroke="#920b01" d="M532.7 52.4h0"/>
<path stroke="#a91601" d="M532.8 52.6h0"/>
<path stroke="#920b01" d="M532.9 52.6h0"/>
<path stroke="#a41301" d="M533.0 53.9h0"/>
<path stroke="#b21a01" d="M533.1 52.9h0"/>
<path stroke="#a41301" d="M533.3 52.4h0"/>
<path stroke="#a91601" d="M533.4 53.9h0M533.5 52.4h0"/>
<path stroke="#b21a01" d="M533.6 54.5h0"/>
<path stroke="#a41301" d="M533.7 54.3h0"/>
<path stroke="#b91e02" d="M533.9 53.5h0"/>
<path stroke="#a41301" d="M534.0 53.5h0"/>
<path stroke="#a91601" d="M534.1 53.0h0"/>
<path stroke="#9b0f01" d="M534.2 53.2h0M534.3 52.0h0"/>
<path stroke="#b21a01" d="M534.5 53.1h0"/>
<path stroke="#a41301" d="M534.6 51.6h0"/>
<path stroke="#b21a01" d="M534.7 51.9h0"/>
<path stroke="#920b01" d="M534.8 52.3h0"/>
<path stroke="#9b0f01" d="M534.9 53.0h0M535.1 53.3h0M535.2 52.8h0"/>
<path stroke="#b91e02" d="M535.3 53.0h0"/>
<path stroke="#9b0f01" d="M535.4 54.2h0"/>
<path stroke="#a91601" d="M535.5 53.6h0"/>
<path stroke="#b21a01" d="M535.7 52.7h0"/>
<path stroke="#a41301" d="M535.8 52.9h0"/>
<path stroke="#a91601" d="M535.9 53.8h0"/>
<path stroke="#920b01" d="M536.0 54.9h0"/>
<path stroke="#a91601" d="M536.1 53.8h0"/>
<path stroke="#b21a01" d="M536.3 54.1h0"/>
<path stroke="#9b0f01" d="M536.4 54.9h0"/>
<path stroke="#920b01" d="M536.5 53.7h0M536.6 55.3h0"/>
<path stroke="#a41301" d="M536.7 55.0h0M536.9 55.0h0"/>
<path stroke="#920b01" d="M537.0 56.0h0"/>
<path stroke="#9b0f01" d="M537.1 57.4h0"/>
<path stroke="#b21a01" d="M537.2 55.9h0"/>
<path stroke="#9b0f01" d="M537.3 56.1h0"/>
<path stroke="#b21a01" d="M537.5 58.3h0"/>
<path stroke="#a41301" d="M537.6 57.6h0"/>
<path stroke="#a91601" d="M537.7 56.7h0"/>
<path stroke="#a41301" d="M537.8 57.5h0M537.9 58.5h0M538.1 57.9h0M538.2 58.0h0"/>
<path stroke="#b91e02" d="M538.3 58.8h0"/>
<path stroke="#a91601" d="M538.4 58.4h0"/>
<path stroke="#b21a01" d="M538.5 60.4h0"/>
<path stroke="#a91601" d="M538.7 59.3h0M538.8 61.7h0M538.9 60.4h0M539.0 60.2h0"/>
<path stroke="#b21a01" d="M539.1 60.1h0"/>
<path stroke="#a91601" d="M539.3 61.7h0"/>
<path stroke="#b91e02" d="M539.4 61.1h0"/>
<path stroke="#b21a01" d="M539.5 61.5h0"/>
<path stroke="#b91e02" d="M539.6 62.2h0"/>
<path stroke="#b21a01" d="M539.8 62.6h0"/>
<path stroke="#a91601" d="M539.9 62.6h0M540.0 62.5h0"/>
<path stroke="#b21a01" d="M540.1 63.7h0"/>
<path stroke="#a91601" d="M540.2 62.3h0"/>
<path stroke="#c52603" d="M540.4 63.5h0"/>
<path stroke="#b21a01" d="M540.5 93.4h0"/>
<path stroke="#a91601" d="M540.5 63.1h0"/>
<path stroke="#c52603" d="M540.6 63.3h0M540.7 64.2h0"/>
<path stroke="#be2102" d="M540.8 64.1h0"/>
<path stroke="#b91e02" d="M541.0 65.1h0"/>
<path stroke="#c52603" d="M541.1 65.4h0"/>
<path stroke="#be2102" d="M541.2 65.5h0"/>
<path stroke="#c52603" d="M541.3 66.1h0"/>
<path stroke="#b21a01" d="M541.4 66.5h0"/>
<path stroke="#a91601" d="M541.6 65.7h0"/>
<path stroke="#b91e02" d="M541.7 66.0h0"/>
<path stroke="#a91601" d="M541.8 66.1h0"/>
<path stroke="#cc2b04" d="M541.9 66.7h0"/>
<path stroke="#a91601" d="M542.0 66.0h0M542.2 67.1h0M542.3 66.9h0M542.4 66.7h0"/>
<path stroke="#be2102" d="M542.5 66.1h0"/>
<path stroke="#9b0f01" d="M542.6 67.5h0"/>
<path stroke="#b91e02" d="M542.8 65.7h0M542.9 65.9h0M543.0 67.0h0"/>
<path stroke="#b21a01" d="M543.1 65.9h0"/>
<path stroke="#a91601" d="M543.2 64.2h0"/>
<path stroke="#b91e02" d="M543.4 65.6h0"/>
<path stroke="#d02f05" d="M543.5 65.1h0"/>
<path stroke="#c52603" d="M543.6 63.9h0"/>
<path stroke="#b91e02" d="M543.7 62.8h0M543.8 63.5h0"/>
<path stroke="#be2102" d="M544.0 62.8h0"/>
<path stroke="#b91e02" d="M544.1 62.3h0"/>
<path stroke="#be2102" d="M544.2 64.3h0M544.3 63.0h0"/>
<path stroke="#cc2b04" d="M544.4 61.2h0"/>
<path stroke="#be2102" d="M544.6 61.4h0"/>
<path stroke="#cc2b04" d="M544.7 61.3h0"/>
<path stroke="#c52603" d="M544.8 62.0h0M544.9 61.7h0"/>
<path stroke="#d02f05" d="M545.0 61.1h0"/>
<path stroke="#d63506" d="M545.2 64.3h0"/>
<path stroke="#c52603" d="M545.3 62.1h0M545.4 62.8h0"/>
<path stroke="#b21a01" d="M545.5 62.4h0"/>
<path stroke="#c52603" d="M545.6 61.2h0"/>
<path stroke="#b91e02" d="M545.8 60.8h0M545.9 59.8h0"/>
<path stroke="#c52603" d="M546.0 61.1h0"/>
<path stroke="#cc2b04" d="M546.1 61.2h0"/>
<path stroke="#b91e02" d="M546.2 62.3h0"/>
<path stroke="#be2102" d="M546.4 59.9h0"/>
<path stroke="#b91e02" d="M546.5 60.4h0"/>
<path stroke="#c52603" d="M546.6 60.4h0M546.7 61.9h0"/>
<path stroke="#be2102" d="M546.8 60.4h0"/>
<path stroke="#cc2b04" d="M547.0 60.5h0"/>
<path stroke="#b91e02" d="M547.1 60.7h0"/>
<path stroke="#c52603" d="M547.2 60.0h0"/>
<path stroke="#be2102" d="M547.3 61.0h0"/>
<path stroke="#c52603" d="M547.4 59.3h0M547.6 61.5h0M547.7 60.1h0"/>
<path stroke="#b91e02" d="M547.8 60.0h0"/>
<path stroke="#be2102" d="M547.9 59.8h0"/>
<path stroke="#b91e02" d="M548.0 59.4h0"/>
<path stroke="#d02f05" d="M548.2 59.8h0"/>
<path stroke="#cc2b04" d="M548.3 59.6h0M548.4 58.8h0"/>
<path stroke="#d02f05" d="M548.5 59.5h0"/>
<path stroke="#c52603" d="M548.6 60.0h0M548.8 61.0h0M548.9 59.8h0M549.0 61.9h0M549.1 60.3h0M549.2 61.4h0"/>
<path stroke="#cc2b04" d="M549.4 61.2h0M549.5 59.6h0"/>
<path stroke="#d02f05" d="M549.6 60.8h0"/>
<path stroke="#c52603" d="M549.7 60.9h0M549.8 58.7h0"/>
<path stroke="#d63506" d="M550.0 59.4h0M550.1 58.2h0"/>
<path stroke="#d02f05" d="M550.2 59.4h0"/>
<path stroke="#d63506" d="M550.3 57.9h0"/>
<path stroke="#cc2b04" d="M550.4 60.3h0"/>
<path stroke="#be2102" d="M550.6 59.3h0"/>
<path stroke="#c52603" d="M550.7 59.5h0"/>
<path stroke="#cc2b04" d="M550.8 60.6h0M550.9 59.3h0"/>
<path stroke="#c52603" d="M551.0 58.0h0"/>
<path stroke="#d02f05" d="M551.2 57.3h0M551.3 59.8h0"/>
<path stroke="#c52603" d="M551.4 58.3h0"/>
<path stroke="#be2102" d="M551.5 59.1h0"/>
<path stroke="#d02f05" d="M551.7 59.6h0"/>
<path stroke="#c52603" d="M551.8 59.6h0"/>
<path stroke="#d63506" d="M551.9 59.9h0"/>
<path stroke="#cc2b04" d="M552.0 60.4h0M552.1 60.1h0"/>
<path stroke="#d02f05" d="M552.3 59.6h0"/>
<path stroke="#c52603" d="M552.4 58.7h0"/>
<path stroke="#cc2b04" d="M552.5 59.3h0"/>
<path stroke="#d02f05" d="M552.6 58.6h0"/>
<path stroke="#cc2b04" d="M552.7 59.6h0M552.9 58.3h0"/>
<path stroke="#d63506" d="M553.0 58.7h0M553.1 58.9h0"/>
<path stroke="#cc2b04" d="M553.2 59.6h0"/>
<path stroke="#d63506" d="M553.3 59.0h0"/>
<path stroke="#dc3b07" d="M553.5 58.1h0"/>
<path stroke="#e4450a" d="M553.6 58.5h0"/>
<path stroke="#dc3b07" d="M553.7 58.3h0"/>
<path stroke="#d63506" d="M553.8 58.5h0M553.9 57.7h0"/>
<path stroke="#c52603" d="M554.1 57.7h0"/>
<path stroke="#d63506" d="M554.2 57.1h0M554.3 56.9h0"/>
<path stroke="#cc2b04" d="M554.4 57.2h0"/>
<path stroke="#d02f05" d="M554.5 58.4h0"/>
<path stroke="#d63506" d="M554.7 56.3h0M554.8 56.8h0"/>
<path stroke="#cc2b04" d="M554.9 57.0h0"/>
<path stroke="#e4450a" d="M555.0 57.9h0"/>
<path stroke="#c52603" d="M555.1 57.9h0"/>
<path stroke="#d02f05" d="M555.3 57.5h0"/>
<path stroke="#e4450a" d="M555.4 56.3h0"/>
<path stroke="#df3f08" d="M555.5 57.9h0"/>
<path stroke="#d63506" d="M555.6 57.9h0M555.7 57.8h0M555.9 59.8h0"/>
<path stroke="#be2102" d="M556.0 59.1h0"/>
<path stroke="#cc2b04" d="M556.1 58.2h0"/>
<path stroke="#d02f05" d="M556.2 59.3h0M556.3 59.7h0"/>
<path stroke="#e4450a" d="M556.5 59.5h0"/>
<path stroke="#dc3b07" d="M556.6 59.6h0M556.7 59.6h0"/>
<path stroke="#e4450a" d="M556.8 60.5h0"/>
<path stroke="#df3f08" d="M556.9 61.6h0"/>
<path stroke="#e4450a" d="M557.1 61.3h0"/>
<path stroke="#d02f05" d="M557.2 61.3h0"/>
<path stroke="#dc3b07" d="M557.3 62.1h0"/>
<path stroke="#df3f08" d="M557.4 62.1h0"/>
<path stroke="#e4450a" d="M557.5 61.6h0"/>
<path stroke="#e84b0c" d="M557.7 62.2h0"/>
<path stroke="#dc3b07" d="M557.8 60.0h0"/>
<path stroke="#e4450a" d="M557.9 60.9h0"/>
<path stroke="#dc3b07" d="M558.0 61.7h0"/>
<path stroke="#e84b0c" d="M558.1 60.4h0"/>
<path stroke="#dc3b07" d="M558.3 60.6h0"/>
<path stroke="#eb500e" d="M558.4 60.5h0"/>
<path stroke="#dc3b07" d="M558.5 60.9h0"/>
<path stroke="#eb500e" d="M558.6 62.0h0"/>
<path stroke="#df3f08" d="M558.7 61.5h0"/>
<path stroke="#e4450a" d="M558.9 59.8h0"/>
<path stroke="#d63506" d="M559.0 59.9h0"/>
<path stroke="#e84b0c" d="M559.1 61.3h0"/>
<path stroke="#e4450a" d="M559.2 61.1h0M559.3 60.0h0"/>
<path stroke="#e84b0c" d="M559.5 61.1h0"/>
<path stroke="#e4450a" d="M559.6 59.6h0M559.7 60.5h0"/>
<path stroke="#e84b0c" d="M559.8 59.8h0"/>
<path stroke="#e4450a" d="M559.9 62.4h0M560.1 60.9h0"/>
<path stroke="#eb500e" d="M560.2 62.1h0"/>
<path stroke="#dc3b07" d="M560.3 60.7h0"/>
<path stroke="#df3f08" d="M560.4 61.2h0"/>
<path stroke="#e4450a" d="M560.5 62.1h0"/>
<path stroke="#ef5811" d="M560.7 62.9h0"/>
<path stroke="#e4450a" d="M560.8 65.2h0"/>
<path stroke="#df3f08" d="M560.9 65.5h0"/>
<path stroke="#ef5811" d="M561.0 66.3h0"/>
<path stroke="#eb500e" d="M561.1 67.7h0M561.3 68.4h0"/>
<path stroke="#e84b0c" d="M561.4 69.5h0"/>
<path stroke="#e4450a" d="M561.5 70.8h0"/>
<path stroke="#eb500e" d="M561.6 71.9h0"/>
<path stroke="#ef5811" d="M561.7 71.8h0"/>
<path stroke="#e84b0c" d="M561.9 73.7h0"/>
<path stroke="#eb500e" d="M562.0 73.9h0M562.1 77.1h0"/>
<path stroke="#e84b0c" d="M562.2 77.8h0"/>
<path stroke="#e4450a" d="M562.3 80.2h0"/>
<path stroke="#ef5811" d="M562.5 78.0h0"/>
<path stroke="#eb500e" d="M562.6 79.8h0M562.7 82.0h0M562.8 82.4h0"/>
<path stroke="#e84b0c" d="M562.9 81.7h0"/>
<path stroke="#ef5811" d="M563.1 83.5h0"/>
<path stroke="#f76f1a" d="M563.2 84.1h0"/>
<path stroke="#f26014" d="M563.3 83.6h0"/>
<path stroke="#f46617" d="M563.4 84.2h0M563.6 85.2h0"/>
<path stroke="#e84b0c" d="M563.7 86.1h0"/>
<path stroke="#eb500e" d="M563.8 85.3h0"/>
<path stroke="#ef5811" d="M563.9 88.1h0"/>
<path stroke="#eb500e" d="M564.0 89.0h0"/>
<path stroke="#e4450a" d="M564.2 89.4h0"/>
<path stroke="#eb500e" d="M564.3 90.7h0M564.4 91.6h0"/>
<path stroke="#f76f1a" d="M564.5 94.0h0"/>
<path stroke="#eb500e" d="M564.6 94.5h0M564.8 94.5h0M564.9 96.2h0"/>
<path stroke="#ef5811" d="M565.0 97.8h0"/>
<path stroke="#f46617" d="M565.1 99.1h0"/>
<path stroke="#f9781e" d="M565.2 99.1h0"/>
<path stroke="#fb7e21" d="M565.4 101.6h0"/>
<path stroke="#f46617" d="M565.5 101.6h0"/>
<path stroke="#f9781e" d="M565.6 104.0h0"/>
<path stroke="#fc8725" d="M565.7 101.8h0M565.8 102.6h0"/>
<path stroke="#f9781e" d="M566.0 104.0h0M566.1 105.7h0"/>
<path stroke="#f76f1a" d="M566.2 105.6h0"/>
<path stroke="#fe962b" d="M566.3 105.3h0"/>
<path stroke="#fe9029" d="M566.4 108.2h0"/>
<path stroke="#fe9e2f" d="M566.6 108.7h0"/>
<path stroke="#fc8725" d="M566.7 112.1h0"/>
<path stroke="#f9781e" d="M566.8 111.5h0"/>
<path stroke="#f46617" d="M566.9 113.4h0"/>
<path stroke="#fc8725" d="M567.0 114.9h0"/>
<path stroke="#f9781e" d="M567.2 115.3h0"/>
<path stroke="#fc8725" d="M567.3 115.2h0"/>
<path stroke="#f76f1a" d="M567.4 116.9h0"/>
<path stroke="#f9781e" d="M567.5 118.0h0"/>
<path stroke="#fe9029" d="M567.6 119.3h0M567.8 123.6h0"/>
<path stroke="#f9781e" d="M567.9 127.9h0"/>
<path stroke="#fc8725" d="M568.0 131.0h0M568.1 136.3h0"/>
<path stroke="#fe962b" d="M568.2 150.5h0"/>
<path stroke="#fcb336" d="M568.4 152.8h0"/>
<path stroke="#fea732" d="M568.5 155.4h0"/>
<path stroke="#fdac34" d="M568.6 156.8h0"/>
<path stroke="#faba39" d="M568.7 157.9h0"/>
<path stroke="#fcb336" d="M568.8 158.5h0"/>
<path stroke="#fea732" d="M569.0 158.2h0"/>
<path stroke="#f8be39" d="M569.1 159.8h0"/>
<path stroke="#fea732" d="M569.2 160.9h0"/>
<path stroke="#fcb336" d="M569.3 162.3h0"/>
<path stroke="#fe962b" d="M569.4 165.4h0"/>
<path stroke="#fe9e2f" d="M569.6 165.1h0"/>
<path stroke="#fc8725" d="M569.7 166.9h0"/>
<path stroke="#fb7e21" d="M569.8 168.3h0"/>
<path stroke="#fe9e2f" d="M569.9 171.1h0"/>
<path stroke="#fe962b" d="M570.0 173.7h0"/>
<path stroke="#fe9e2f" d="M570.2 176.3h0"/>
<path stroke="#fea732" d="M570.3 178.7h0"/>
<path stroke="#fdac34" d="M570.4 179.6h0"/>
<path stroke="#fea732" d="M570.5 181.3h0"/>
<path stroke="#fdac34" d="M570.6 181.7h0"/>
<path stroke="#fe962b" d="M570.8 186.3h0M570.9 182.4h0"/>
<path stroke="#f5c53a" d="M571.0 183.3h0M571.1 182.9h0"/>
<path stroke="#fe962b" d="M571.2 183.1h0"/>
<path stroke="#fcb336" d="M571.4 179.2h0"/>
<path stroke="#eecf3a" d="M571.5 181.0h0"/>
<path stroke="#fcb336" d="M571.6 184.2h0"/>
<path stroke="#fea732" d="M571.7 182.9h0"/>
<path stroke="#fdac34" d="M571.8 182.1h0"/>
<path stroke="#fe9029" d="M572.0 183.1h0"/>
<path stroke="#fe9e2f" d="M572.1 187.7h0"/>
<path stroke="#faba39" d="M572.2 182.0h0M572.3 187.1h0"/>
<path stroke="#e9d539" d="M572.4 186.6h0"/>
<path stroke="#f8be39" d="M572.6 190.4h0M572.7 184.6h0"/>
<path stroke="#f5c53a" d="M572.8 195.4h0M572.9 195.2h0"/>
<path stroke="#fcb336" d="M573.0 200.6h0"/>
<path stroke="#e3db38" d="M573.2 197.3h0M573.3 192.8h0"/>
<path stroke="#e9d539" d="M573.4 198.5h0"/>
<path stroke="#e3db38" d="M573.5 200.1h0"/>
<path stroke="#f1cb3a" d="M573.6 201.1h0"/>
<path stroke="#dfdf37" d="M573.8 206.8h0"/>
<path stroke="#cdec34" d="M573.9 206.4h0"/>
<path stroke="#e9d539" d="M574.0 200.1h0"/>
<path stroke="#cdec34" d="M574.1 187.6h0"/>
<path stroke="#bef434" d="M574.2 172.2h0"/>
<path stroke="#eecf3a" d="M574.4 180.0h0"/>
<path stroke="#c6f034" d="M574.5 187.3h0"/>
<path stroke="#d9e436" d="M574.6 181.9h0"/>
<path stroke="#e3db38" d="M574.7 187.9h0"/>
<path stroke="#cdec34" d="M574.8 185.3h0"/>
<path stroke="#c6f034" d="M575.0 188.9h0"/>
<path stroke="#cdec34" d="M575.1 195.4h0"/>
<path stroke="#d9e436" d="M575.2 184.1h0"/>
<path stroke="#cdec34" d="M575.3 187.8h0"/>
<path stroke="#dfdf37" d="M575.5 194.3h0"/>
<path stroke="#b1f936" d="M575.6 193.5h0"/>
<path stroke="#eecf3a" d="M575.7 195.5h0"/>
<path stroke="#d9e436" d="M575.8 185.0h0M575.9 187.5h0"/>
<path stroke="#c6f034" d="M576.1 195.4h0"/>
<path stroke="#92ff47" d="M576.2 202.9h0"/>
<path stroke="#b9f635" d="M576.3 195.8h0"/>
<path stroke="#cdec34" d="M576.4 204.5h0"/>
<path stroke="#d9e436" d="M576.5 205.2h0"/>
<path stroke="#b9f635" d="M576.7 211.5h0M576.8 207.7h0"/>
<path stroke="#cdec34" d="M576.9 212.6h0"/>
<path stroke="#d2e935" d="M577.0 212.9h0"/>
<path stroke="#a4fc3c" d="M577.1 227.9h0"/>
<path stroke="#92ff47" d="M577.3 226.2h0"/>
<path stroke="#80ff53" d="M577.4 228.5h0"/>
<path stroke="#bef434" d="M577.5 227.2h0"/>
<path stroke="#a9fb39" d="M577.6 205.0h0"/>
<path stroke="#f1cb3a" d="M577.7 211.2h0"/>
<path stroke="#b9f635" d="M577.9 222.8h0"/>
<path stroke="#dfdf37" d="M578.0 227.2h0"/>
<path stroke="#bef434" d="M578.1 230.9h0"/>
<path stroke="#dfdf37" d="M578.2 216.3h0"/>
<path stroke="#f1cb3a" d="M578.3 218.0h0"/>
<path stroke="#a4fc3c" d="M578.5 198.3h0"/>
<path stroke="#bef434" d="M578.6 221.3h0M578.7 236.3h0"/>
<path stroke="#d9e436" d="M578.8 217.6h0"/>
<path stroke="#c6f034" d="M578.9 211.5h0"/>
<path stroke="#dfdf37" d="M579.1 193.7h0"/>
<path stroke="#bef434" d="M579.2 186.7h0"/>
<path stroke="#e9d539" d="M579.3 184.4h0M579.4 174.3h0"/>
<path stroke="#c6f034" d="M579.5 173.5h0"/>
<path stroke="#9cfe40" d="M579.7 188.8h0"/>
<path stroke="#bef434" d="M579.8 188.8h0"/>
<path stroke="#c6f034" d="M579.9 202.0h0"/>
<path stroke="#a9fb39" d="M580.0 201.1h0"/>
<path stroke="#eecf3a" d="M580.1 203.2h0"/>
<path stroke="#a4fc3c" d="M580.3 186.8h0"/>
<path stroke="#f1cb3a" d="M580.4 202.3h0"/>
<path stroke="#dfdf37" d="M580.5 188.1h0"/>
<path stroke="#e9d539" d="M580.6 186.3h0"/>
<path stroke="#a9fb39" d="M580.7 173.4h0"/>
<path stroke="#b1f936" d="M580.9 185.9h0"/>
<path stroke="#c6f034" d="M581.0 177.8h0"/>
<path stroke="#f1cb3a" d="M581.1 190.3h0"/>
<path stroke="#bef434" d="M581.2 215.9h0"/>
<path stroke="#eecf3a" d="M581.3 218.2h0"/>
<path stroke="#c6f034" d="M581.5 188.1h0"/>
<path stroke="#b9f635" d="M581.6 202.8h0"/>
<path stroke="#d2e935" d="M581.7 206.0h0"/>
<path stroke="#eecf3a" d="M581.8 211.1h0"/>
<path stroke="#d9e436" d="M581.9 215.1h0"/>
<path stroke="#e9d539" d="M582.1 225.0h0"/>
<path stroke="#e3db38" d="M582.2 234.0h0"/>
<path stroke="#f5c53a" d="M582.3 225.7h0"/>
<path stroke="#d2e935" d="M582.4 207.2h0"/>
<path stroke="#d9e436" d="M582.5 205.9h0"/>
<path stroke="#f5c53a" d="M582.7 213.1h0"/>
<path stroke="#b9f635" d="M582.8 189.9h0"/>
<path stroke="#e3db38" d="M582.9 193.9h0M583.0 177.2h0"/>
<path stroke="#e9d539" d="M583.1 194.6h0"/>
<path stroke="#f5c53a" d="M583.3 214.8h0"/>
<path stroke="#f1cb3a" d="M583.4 222.5h0"/>
<path stroke="#f5c53a" d="M583.5 212.6h0"/>
<path stroke="#faba39" d="M583.6 217.6h0"/>
<path stroke="#dfdf37" d="M583.7 228.3h0"/>
<path stroke="#fcb336" d="M583.9 228.9h0"/>
<path stroke="#e3db38" d="M584.0 229.2h0"/>
<path stroke="#f5c53a" d="M584.1 228.8h0"/>
<path stroke="#fdac34" d="M584.2 227.4h0"/>
<path stroke="#f1cb3a" d="M584.3 220.7h0"/>
<path stroke="#e3db38" d="M584.5 221.3h0"/>
<path stroke="#dfdf37" d="M584.6 216.3h0"/>
<path stroke="#f1cb3a" d="M584.7 195.7h0"/>
<path stroke="#e9d539" d="M584.8 195.3h0"/>
<path stroke="#eecf3a" d="M584.9 189.1h0M585.1 192.0h0M585.2 197.2h0"/>
<path stroke="#f1cb3a" d="M585.3 184.3h0"/>
<path stroke="#f5c53a" d="M585.4 180.6h0"/>
<path stroke="#f1cb3a" d="M585.5 187.0h0"/>
<path stroke="#fdac34" d="M585.7 179.4h0"/>
<path stroke="#f8be39" d="M585.8 182.6h0M585.9 179.5h0"/>
<path stroke="#faba39" d="M586.0 176.3h0M586.1 190.1h0"/>
<path stroke="#f5c53a" d="M586.3 190.3h0"/>
<path stroke="#f1cb3a" d="M586.4 187.7h0"/>
<path stroke="#f5c53a" d="M586.5 202.4h0"/>
<path stroke="#faba39" d="M586.6 198.1h0"/>
<path stroke="#fea732" d="M586.7 199.4h0"/>
<path stroke="#eecf3a" d="M586.9 199.7h0"/>
<path stroke="#f5c53a" d="M587.0 220.9h0"/>
<path stroke="#faba39" d="M587.1 220.3h0"/>
<path stroke="#fea732" d="M587.2 220.8h0"/>
<path stroke="#fe962b" d="M587.4 217.9h0"/>
<path stroke="#fcb336" d="M587.5 219.3h0"/>
<path stroke="#f8be39" d="M587.6 221.1h0"/>
<path stroke="#fe9029" d="M587.7 211.5h0"/>
<path stroke="#fe9e2f" d="M587.8 211.1h0"/>
<path stroke="#fcb336" d="M588.0 220.4h0"/>
<path stroke="#f1cb3a" d="M588.1 220.9h0"/>
<path stroke="#fdac34" d="M588.2 221.5h0"/>
<path stroke="#eecf3a" d="M588.3 220.8h0"/>
<path stroke="#fe962b" d="M588.4 220.1h0"/>
<path stroke="#fe9e2f" d="M588.6 220.5h0"/>
<path stroke="#eecf3a" d="M588.7 219.5h0"/>
<path stroke="#fdac34" d="M588.8 214.6h0"/>
<path stroke="#f1cb3a" d="M588.9 218.5h0"/>
<path stroke="#f5c53a" d="M589.0 207.0h0"/>
<path stroke="#fea732" d="M589.2 202.4h0"/>
<path stroke="#f1cb3a" d="M589.3 202.2h0"/>
<path stroke="#e3db38" d="M589.4 194.3h0"/>
<path stroke="#eecf3a" d="M589.5 205.2h0"/>
<path stroke="#fcb336" d="M589.6 200.7h0"/>
<path stroke="#faba39" d="M589.8 194.8h0"/>
<path stroke="#f1cb3a" d="M589.9 198.4h0"/>
<path stroke="#e9d539" d="M590.0 198.7h0"/>
<path stroke="#eecf3a" d="M590.1 194.4h0"/>
<path stroke="#e3db38" d="M590.2 193.0h0"/>
<path stroke="#faba39" d="M590.4 200.2h0"/>
<path stroke="#d9e436" d="M590.5 205.7h0"/>
<path stroke="#f5c53a" d="M590.6 197.8h0"/>
<path stroke="#f1cb3a" d="M590.7 205.5h0"/>
<path stroke="#e9d539" d="M590.8 210.9h0"/>
<path stroke="#f1cb3a" d="M591.0 216.0h0"/>
<path stroke="#eecf3a" d="M591.1 213.4h0"/>
<path stroke="#e3db38" d="M591.2 209.2h0"/>
<path stroke="#f8be39" d="M591.3 211.7h0"/>
<path stroke="#f1cb3a" d="M591.4 210.6h0"/>
<path stroke="#fcb336" d="M591.6 213.1h0"/>
<path stroke="#f8be39" d="M591.7 214.0h0M591.8 215.6h0"/>
<path stroke="#faba39" d="M591.9 217.2h0"/>
<path stroke="#fcb336" d="M592.0 219.9h0"/>
<path stroke="#faba39" d="M592.2 224.2h0"/>
<path stroke="#fcb336" d="M592.3 225.4h0M592.4 228.1h0"/>
<path stroke="#f5c53a" d="M592.5 233.6h0"/>
<path stroke="#fcb336" d="M592.6 237.8h0"/>
<path stroke="#f1cb3a" d="M592.8 239.0h0"/>
<path stroke="#e9d539" d="M592.9 241.1h0"/>
<path stroke="#eecf3a" d="M593.0 243.6h0"/>
<path stroke="#f5c53a" d="M593.1 246.2h0"/>
<path stroke="#f1cb3a" d="M593.2 250.2h0"/>
<path stroke="#f5c53a" d="M593.4 251.3h0"/>
<path stroke="#f8be39" d="M593.5 257.3h0"/>
<path stroke="#eecf3a" d="M593.6 259.7h0"/>
<path stroke="#f1cb3a" d="M593.7 260.8h0"/>
<path stroke="#dfdf37" d="M593.8 264.0h0"/>
<path stroke="#f1cb3a" d="M594.0 267.7h0"/>
<path stroke="#dfdf37" d="M594.1 269.9h0"/>
<path stroke="#e9d539" d="M594.2 269.8h0M594.3 270.1h0"/>
<path stroke="#e3db38" d="M594.4 270.3h0M594.6 268.2h0"/>
<path stroke="#d9e436" d="M594.7 272.2h0"/>
<path stroke="#e9d539" d="M594.8 274.6h0M594.9 279.2h0"/>
<path stroke="#bef434" d="M595.0 282.2h0"/>
<path stroke="#a4fc3c" d="M595.2 283.5h0"/>
<path stroke="#b9f635" d="M595.3 287.1h0"/>
<path stroke="#bef434" d="M595.4 288.7h0"/>
<path stroke="#a9fb39" d="M595.5 283.2h0M595.6 283.6h0"/>
<path stroke="#c6f034" d="M595.8 285.1h0"/>
<path stroke="#b1f936" d="M595.9 287.2h0"/>
<path stroke="#6dfe62" d="M596.0 288.7h0"/>
<path stroke="#61fc6c" d="M596.1 290.5h0"/>
<path stroke="#75fe5c" d="M596.2 295.7h0"/>
<path stroke="#4ef97d" d="M596.4 294.7h0"/>
<path stroke="#80ff53" d="M596.5 293.2h0"/>
<path stroke="#38f491" d="M596.6 295.7h0"/>
<path stroke="#a9fb39" d="M596.7 298.3h0"/>
<path stroke="#55fa76" d="M596.8 300.4h0M597.0 301.8h0"/>
<path stroke="#92ff47" d="M597.1 301.5h0"/>
<path stroke="#75fe5c" d="M597.2 301.4h0"/>
<path stroke="#6dfe62" d="M597.3 300.3h0"/>
<path stroke="#75fe5c" d="M597.4 300.4h0"/>
<path stroke="#32f298" d="M597.6 303.2h0"/>
<path stroke="#a4fc3c" d="M597.7 303.1h0"/>
<path stroke="#1ae4b6" d="M597.8 306.1h0"/>
<path stroke="#32f298" d="M597.9 306.0h0"/>
<path stroke="#1ae4b6" d="M598.0 304.1h0"/>
<path stroke="#18e0bd" d="M598.2 305.5h0"/>
<path stroke="#61fc6c" d="M598.3 306.1h0"/>
<path stroke="#80ff53" d="M598.4 309.4h0"/>
<path stroke="#75fe5c" d="M598.5 303.7h0"/>
<path stroke="#4ef97d" d="M598.6 304.2h0"/>
<path stroke="#18d7ca" d="M598.8 306.2h0M598.9 305.8h0"/>
<path stroke="#1ae4b6" d="M599.0 305.5h0"/>
<path stroke="#1fe9af" d="M599.1 306.1h0"/>
<path stroke="#4ef97d" d="M599.3 307.6h0"/>
<path stroke="#43f787" d="M599.4 310.0h0"/>
<path stroke="#22ebaa" d="M599.5 305.9h0"/>
<path stroke="#18d7ca" d="M599.6 303.6h0"/>
<path stroke="#38f491" d="M599.7 304.3h0M599.9 304.7h0"/>
<path stroke="#18e0bd" d="M600.0 305.3h0"/>
<path stroke="#61fc6c" d="M600.1 305.0h0"/>
<path stroke="#32f298" d="M600.2 305.6h0"/>
<path stroke="#8bff4b" d="M600.3 307.9h0"/>
<path stroke="#1ae4b6" d="M600.5 309.0h0"/>
<path stroke="#55fa76" d="M600.6 309.2h0"/>
<path stroke="#43f787" d="M600.7 310.6h0"/>
<path stroke="#1ae4b6" d="M600.8 311.3h0"/>
<path stroke="#32f298" d="M600.9 313.6h0M601.1 314.9h0"/>
<path stroke="#4ef97d" d="M601.2 314.6h0"/>
<path stroke="#8bff4b" d="M601.3 317.7h0"/>
<path stroke="#6dfe62" d="M601.4 318.3h0"/>
<path stroke="#92ff47" d="M601.5 320.5h0"/>
<path stroke="#80ff53" d="M601.7 322.5h0"/>
<path stroke="#9cfe40" d="M601.8 321.7h0"/>
<path stroke="#6dfe62" d="M601.9 322.7h0"/>
<path stroke="#75fe5c" d="M602.0 324.3h0M602.1 324.0h0"/>
<path stroke="#43f787" d="M602.3 326.1h0"/>
<path stroke="#61fc6c" d="M602.4 334.3h0"/>
<path stroke="#22ebaa" d="M602.5 340.2h0"/>
<path stroke="#38f491" d="M602.6 347.5h0"/>
<path stroke="#32f298" d="M602.7 347.5h0"/>
<path stroke="#43f787" d="M602.9 349.7h0M603.0 351.1h0"/>
<path stroke="#6dfe62" d="M603.1 352.9h0"/>
<path stroke="#38f491" d="M603.2 353.6h0M603.3 356.4h0"/>
<path stroke="#55fa76" d="M603.5 359.0h0"/>
<path stroke="#38f491" d="M603.6 358.7h0"/>
<path stroke="#43f787" d="M603.7 362.1h0"/>
<path stroke="#4ef97d" d="M603.8 364.1h0M603.9 363.8h0"/>
<path stroke="#43f787" d="M604.1 365.7h0"/>
<path stroke="#61fc6c" d="M604.2 366.4h0"/>
<path stroke="#80ff53" d="M604.3 368.5h0"/>
<path stroke="#6dfe62" d="M604.4 370.7h0"/>
<path stroke="#38f491" d="M604.5 373.1h0"/>
<path stroke="#18e0bd" d="M604.7 374.4h0"/>
<path stroke="#1fe9af" d="M604.8 376.1h0"/>
<path stroke="#2aefa1" d="M604.9 376.0h0"/>
<path stroke="#1ae4b6" d="M605.0 379.8h0"/>
<path stroke="#61fc6c" d="M605.1 380.6h0"/>
<path stroke="#43f787" d="M605.3 381.3h0"/>
<path stroke="#38f491" d="M605.4 384.1h0"/>
<path stroke="#55fa76" d="M605.5 385.0h0"/>
<path stroke="#61fc6c" d="M605.6 384.9h0"/>
<path stroke="#22ebaa" d="M605.7 388.9h0"/>
<path stroke="#1ae4b6" d="M605.9 389.8h0"/>
<path stroke="#9cfe40" d="M606.0 391.7h0"/>
<path stroke="#75fe5c" d="M606.1 397.5h0"/>
<path stroke="#a4fc3c" d="M606.2 408.8h0"/>
<path stroke="#61fc6c" d="M606.3 412.7h0"/>
<path stroke="#6dfe62" d="M606.5 417.8h0"/>
<path stroke="#43f787" d="M606.6 422.3h0"/>
<path stroke="#4ef97d" d="M606.7 425.1h0"/>
<path stroke="#38f491" d="M606.8 426.8h0"/>
<path stroke="#32f298" d="M606.9 432.1h0"/>
<path stroke="#2aefa1" d="M607.1 433.7h0"/>
<path stroke="#1ae4b6" d="M607.2 436.1h0"/>
<path stroke="#28bceb" d="M607.3 440.3h0"/>
<path stroke="#18ddc2" d="M607.4 443.3h0M607.5 446.9h0"/>
<path stroke="#2eb4f2" d="M607.7 449.2h0"/>
<path stroke="#1ad2d2" d="M607.8 452.0h0"/>
<path stroke="#3ba0fd" d="M607.9 456.4h0"/>
<path stroke="#28bceb" d="M608.0 459.5h0"/>
<path stroke="#20c7df" d="M608.1 462.9h0"/>
<path stroke="#3ba0fd" d="M608.3 468.0h0"/>
<path stroke="#1ad2d2" d="M608.4 470.0h0"/>
<path stroke="#25c0e7" d="M608.5 474.3h0"/>
<path stroke="#1ad2d2" d="M608.6 476.1h0"/>
<path stroke="#33adf7" d="M608.7 477.8h0"/>
<path stroke="#2eb4f2" d="M608.9 482.5h0"/>
<path stroke="#28bceb" d="M609.0 484.3h0"/>
<path stroke="#2eb4f2" d="M609.1 486.6h0"/>
<path stroke="#4099ff" d="M609.2 489.6h0"/>
<path stroke="#18d7ca" d="M609.3 493.4h0"/>
<path stroke="#3ba0fd" d="M609.5 497.0h0"/>
<path stroke="#33adf7" d="M609.6 500.2h0"/>
<path stroke="#28bceb" d="M609.7 499.8h0"/>
<path stroke="#33adf7" d="M609.8 501.4h0"/>
<path stroke="#18ddc2" d="M609.9 502.7h0"/>
<path stroke="#2eb4f2" d="M610.1 502.1h0"/>
<path stroke="#28bceb" d="M610.2 502.7h0"/>
<path stroke="#1ccdd8" d="M610.3 504.5h0"/>
<path stroke="#18e0bd" d="M610.4 503.7h0"/>
<path stroke="#2eb4f2" d="M610.5 505.4h0"/>
<path stroke="#18ddc2" d="M610.7 506.8h0"/>
<path stroke="#28bceb" d="M610.8 508.3h0"/>
<path stroke="#1ccdd8" d="M610.9 506.5h0"/>
<path stroke="#1ad2d2" d="M611.0 510.6h0"/>
<path stroke="#1ae4b6" d="M611.2 510.2h0"/>
<path stroke="#18ddc2" d="M611.3 510.8h0"/>
<path stroke="#28bceb" d="M611.4 509.6h0"/>
<path stroke="#2eb4f2" d="M611.5 509.5h0"/>
<path stroke="#1ccdd8" d="M611.6 510.6h0"/>
<path stroke="#18e0bd" d="M611.8 513.1h0"/>
<path stroke="#4ef97d" d="M611.9 513.0h0"/>
<path stroke="#18d7ca" d="M612.0 514.7h0"/>
<path stroke="#32f298" d="M612.1 516.7h0"/>
<path stroke="#6dfe62" d="M612.2 515.6h0"/>
<path stroke="#18e0bd" d="M612.4 516.2h0"/>
<path stroke="#18ddc2" d="M612.5 518.3h0"/>
<path stroke="#43f787" d="M612.6 519.7h0"/>
<path stroke="#25c0e7" d="M612.7 522.3h0"/>
<path stroke="#55fa76" d="M612.8 524.1h0"/>
<path stroke="#22ebaa" d="M613.0 524.1h0"/>
<path stroke="#4ef97d" d="M613.1 527.8h0"/>
<path stroke="#32f298" d="M613.2 528.1h0"/>
<path stroke="#20c7df" d="M613.3 531.9h0"/>
<path stroke="#4ef97d" d="M613.4 534.1h0"/>
<path stroke="#32f298" d="M613.6 534.1h0"/>
<path stroke="#2eb4f2" d="M613.7 537.5h0"/>
<path stroke="#33adf7" d="M613.8 540.6h0"/>
<path stroke="#1ae4b6" d="M613.9 542.8h0"/>
<path stroke="#18d7ca" d="M614.0 540.5h0"/>
<path stroke="#18ddc2" d="M614.2 542.2h0M614.3 542.3h0"/>
<path stroke="#28bceb" d="M614.4 545.2h0"/>
<path stroke="#25c0e7" d="M614.5 548.7h0"/>
<path stroke="#1ae4b6" d="M614.6 549.0h0"/>
<path stroke="#4685fa" d="M614.8 553.9h0"/>
<path stroke="#458cfd" d="M614.9 555.0h0"/>
<path stroke="#1ae4b6" d="M615.0 555.9h0"/>
<path stroke="#18e0bd" d="M615.1 560.7h0"/>
<path stroke="#2aefa1" d="M615.2 563.3h0"/>
<path stroke="#18ddc2" d="M615.4 563.7h0"/>
<path stroke="#18e0bd" d="M615.5 565.3h0"/>
<path stroke="#1ccdd8" d="M615.6 570.6h0"/>
<path stroke="#4294ff" d="M615.7 573.4h0"/>
<path stroke="#33adf7" d="M615.8 575.0h0"/>
<path stroke="#18e0bd" d="M616.0 577.3h0"/>
<path stroke="#20c7df" d="M616.1 578.4h0"/>
<path stroke="#18d7ca" d="M616.2 580.4h0"/>
<path stroke="#32f298" d="M616.3 583.0h0"/>
<path stroke="#1ccdd8" d="M616.4 584.1h0"/>
<path stroke="#43f787" d="M616.6 586.9h0"/>
<path stroke="#1ccdd8" d="M616.7 591.0h0"/>
<path stroke="#1ad2d2" d="M616.8 591.1h0"/>
<path stroke="#18e0bd" d="M616.9 593.1h0"/>
<path stroke="#32f298" d="M617.0 595.2h0"/>
<path stroke="#18ddc2" d="M617.2 599.2h0"/>
<path stroke="#43f787" d="M617.3 599.9h0"/>
<path stroke="#1ccdd8" d="M617.4 604.4h0"/>
<path stroke="#32f298" d="M617.5 606.1h0"/>
<path stroke="#6dfe62" d="M617.6 606.8h0"/>
<path stroke="#43f787" d="M617.8 609.7h0M617.9 611.3h0"/>
<path stroke="#55fa76" d="M618.0 615.5h0"/>
<path stroke="#2aefa1" d="M618.1 618.2h0"/>
<path stroke="#92ff47" d="M618.2 620.4h0"/>
<path stroke="#55fa76" d="M618.4 624.9h0"/>
<path stroke="#43f787" d="M618.5 627.5h0"/>
<path stroke="#4ef97d" d="M618.6 629.8h0"/>
<path stroke="#61fc6c" d="M618.7 631.8h0"/>
<path stroke="#43f787" d="M618.8 632.6h0"/>
<path stroke="#32f298" d="M619.0 634.0h0"/>
<path stroke="#6dfe62" d="M619.1 632.5h0"/>
<path stroke="#38f491" d="M619.2 634.8h0"/>
<path stroke="#32f298" d="M619.3 635.0h0"/>
<path stroke="#1ae4b6" d="M619.4 635.4h0"/>
<path stroke="#4ef97d" d="M619.6 636.0h0M619.7 638.8h0"/>
<path stroke="#22ebaa" d="M619.8 642.3h0M619.9 640.0h0"/>
<path stroke="#28bceb" d="M620.0 641.6h0"/>
<path stroke="#61fc6c" d="M620.2 643.3h0"/>
<path stroke="#1fe9af" d="M620.3 642.1h0"/>
<path stroke="#18d7ca" d="M620.4 642.7h0"/>
<path stroke="#22ebaa" d="M620.5 645.0h0"/>
<path stroke="#1ae4b6" d="M620.6 647.1h0"/>
<path stroke="#18e0bd" d="M620.8 644.6h0"/>
<path stroke="#1ccdd8" d="M620.9 645.9h0"/>
<path stroke="#28bceb" d="M621.0 649.4h0M621.1 650.5h0"/>
<path stroke="#1ccdd8" d="M621.2 649.1h0"/>
<path stroke="#28bceb" d="M621.4 650.6h0"/>
<path stroke="#1ccdd8" d="M621.5 651.8h0"/>
<path stroke="#2eb4f2" d="M621.6 653.4h0"/>
<path stroke="#20c7df" d="M621.7 655.3h0"/>
<path stroke="#18d7ca" d="M621.8 656.9h0"/>
<path stroke="#1ccdd8" d="M622.0 658.8h0"/>
<path stroke="#1ae4b6" d="M622.1 661.5h0"/>
<path stroke="#20c7df" d="M622.2 663.1h0"/>
<path stroke="#1ae4b6" d="M622.3 664.8h0"/>
<path stroke="#18d7ca" d="M622.4 665.5h0"/>
<path stroke="#22ebaa" d="M622.6 667.1h0"/>
<path stroke="#37a8fa" d="M622.7 670.1h0"/>
<path stroke="#28bceb" d="M622.8 673.1h0"/>
<path stroke="#20c7df" d="M622.9 674.2h0"/>
<path stroke="#18ddc2" d="M623.1 677.7h0"/>
<path stroke="#1ad2d2" d="M623.2 677.7h0"/>
<path stroke="#18d7ca" d="M623.3 679.5h0"/>
<path stroke="#3ba0fd" d="M623.4 681.9h0"/>
<path stroke="#38f491" d="M623.5 684.8h0"/>
<path stroke="#1ae4b6" d="M623.7 688.5h0"/>
<path stroke="#1fe9af" d="M623.8 693.1h0"/>
<path stroke="#20c7df" d="M623.9 693.2h0"/>
<path stroke="#1ad2d2" d="M624.0 696.6h0M624.1 700.1h0"/>
<path stroke="#2aefa1" d="M624.3 699.0h0"/>
<path stroke="#1ccdd8" d="M624.4 699.1h0"/>
<path stroke="#18d7ca" d="M624.5 704.5h0"/>
<path stroke="#1ae4b6" d="M624.6 704.7h0"/>
<path stroke="#2eb4f2" d="M624.7 706.4h0"/>
<path stroke="#20c7df" d="M624.9 706.5h0"/>
<path stroke="#25c0e7" d="M625.0 708.9h0"/>
<path stroke="#18e0bd" d="M625.1 709.1h0"/>
<path stroke="#33adf7" d="M625.2 710.8h0"/>
<path stroke="#25c0e7" d="M625.3 712.6h0"/>
<path stroke="#20c7df" d="M625.5 715.4h0"/>
<path stroke="#2eb4f2" d="M625.6 717.3h0"/>
<path stroke="#37a8fa" d="M625.7 719.4h0"/>
<path stroke="#25c0e7" d="M625.8 721.1h0"/>
<path stroke="#37a8fa" d="M625.9 722.3h0"/>
<path stroke="#33adf7" d="M626.1 722.8h0"/>
<path stroke="#25c0e7" d="M626.2 722.7h0"/>
<path stroke="#28bceb" d="M626.3 720.0h0"/>
<path stroke="#33adf7" d="M626.4 718.5h0M626.5 717.3h0"/>
<path stroke="#28bceb" d="M626.7 717.8h0M626.8 716.1h0"/>
<path stroke="#1ccdd8" d="M626.9 716.1h0"/>
<path stroke="#28bceb" d="M627.0 714.9h0"/>
<path stroke="#20c7df" d="M627.1 713.3h0"/>
<path stroke="#458cfd" d="M627.3 713.9h0"/>
<path stroke="#28bceb" d="M627.4 711.9h0"/>
<path stroke="#1ccdd8" d="M627.5 709.8h0"/>
<path stroke="#18d7ca" d="M627.6 710.6h0"/>
<path stroke="#4099ff" d="M627.7 711.0h0"/>
<path stroke="#33adf7" d="M627.9 708.8h0"/>
<path stroke="#4099ff" d="M628.0 709.3h0"/>
<path stroke="#25c0e7" d="M628.1 707.6h0"/>
<path stroke="#1ae4b6" d="M628.2 707.2h0"/>
<path stroke="#37a8fa" d="M628.3 706.6h0"/>
<path stroke="#18ddc2" d="M628.5 704.7h0"/>
<path stroke="#25c0e7" d="M628.6 703.3h0"/>
<path stroke="#18e0bd" d="M628.7 700.3h0"/>
<path stroke="#25c0e7" d="M628.8 696.7h0"/>
<path stroke="#3ba0fd" d="M628.9 695.6h0"/>
<path stroke="#20c7df" d="M629.1 694.5h0M629.2 692.3h0"/>
<path stroke="#25c0e7" d="M629.3 695.6h0M629.4 695.3h0"/>
<path stroke="#1ae4b6" d="M629.5 694.1h0"/>
<path stroke="#18e0bd" d="M629.7 694.0h0"/>
<path stroke="#18d7ca" d="M629.8 693.0h0"/>
<path stroke="#18e0bd" d="M629.9 691.6h0"/>
<path stroke="#1ccdd8" d="M630.0 691.0h0"/>
<path stroke="#22ebaa" d="M630.1 689.2h0M630.3 688.1h0"/>
<path stroke="#38f491" d="M630.4 691.5h0"/>
<path stroke="#1ccdd8" d="M630.5 692.1h0"/>
<path stroke="#18ddc2" d="M630.6 692.0h0"/>
<path stroke="#25c0e7" d="M630.7 690.6h0"/>
<path stroke="#1ad2d2" d="M630.9 686.4h0"/>
<path stroke="#1ccdd8" d="M631.0 687.4h0M631.1 686.7h0"/>
<path stroke="#28bceb" d="M631.2 686.8h0"/>
<path stroke="#18e0bd" d="M631.3 686.3h0"/>
<path stroke="#25c0e7" d="M631.5 685.7h0"/>
<path stroke="#28bceb" d="M631.6 685.2h0"/>
<path stroke="#33adf7" d="M631.7 683.4h0"/>
<path stroke="#37a8fa" d="M631.8 683.2h0"/>
<path stroke="#1ae4b6" d="M631.9 679.8h0"/>
<path stroke="#18ddc2" d="M632.1 678.2h0"/>
<path stroke="#2eb4f2" d="M632.2 678.4h0"/>
<path stroke="#37a8fa" d="M632.3 677.4h0"/>
<path stroke="#22ebaa" d="M632.4 677.3h0"/>
<path stroke="#1ad2d2" d="M632.5 677.8h0"/>
<path stroke="#28bceb" d="M632.7 679.1h0"/>
<path stroke="#1ccdd8" d="M632.8 676.0h0"/>
<path stroke="#18e0bd" d="M632.9 676.7h0"/>
<path stroke="#18ddc2" d="M633.0 676.2h0"/>
<path stroke="#55fa76" d="M633.1 677.8h0"/>
<path stroke="#32f298" d="M633.3 679.5h0"/>
<path stroke="#1ae4b6" d="M633.4 677.9h0"/>
<path stroke="#33adf7" d="M633.5 674.9h0"/>
<path stroke="#1ccdd8" d="M633.6 675.3h0"/>
<path stroke="#55fa76" d="M633.7 675.5h0"/>
<path stroke="#61fc6c" d="M633.9 673.3h0"/>
<path stroke="#38f491" d="M634.0 671.8h0"/>
<path stroke="#32f298" d="M634.1 670.0h0M634.2 667.7h0M634.3 666.9h0"/>
<path stroke="#18e0bd" d="M634.5 665.7h0"/>
<path stroke="#4ef97d" d="M634.6 665.2h0M634.7 664.3h0"/>
<path stroke="#1fe9af" d="M634.8 664.3h0"/>
<path stroke="#18e0bd" d="M635.0 664.6h0"/>
<path stroke="#43f787" d="M635.1 663.6h0"/>
<path stroke="#18e0bd" d="M635.2 659.9h0"/>
<path stroke="#75fe5c" d="M635.3 661.1h0"/>
<path stroke="#38f491" d="M635.4 660.7h0"/>
<path stroke="#18e0bd" d="M635.6 658.7h0"/>
<path stroke="#1fe9af" d="M635.7 656.7h0"/>
<path stroke="#1ae4b6" d="M635.8 655.7h0"/>
<path stroke="#18ddc2" d="M635.9 655.1h0"/>
<path stroke="#38f491" d="M636.0 656.0h0"/>
<path stroke="#1ae4b6" d="M636.2 655.9h0"/>
<path stroke="#18d7ca" d="M636.3 654.9h0"/>
<path stroke="#28bceb" d="M636.4 651.3h0"/>
<path stroke="#43f787" d="M636.5 650.6h0M636.6 644.7h0"/>
<path stroke="#28bceb" d="M636.8 645.2h0"/>
<path stroke="#6dfe62" d="M636.9 644.9h0"/>
<path stroke="#2aefa1" d="M637.0 645.4h0"/>
<path stroke="#9cfe40" d="M637.1 644.1h0"/>
<path stroke="#4ef97d" d="M637.2 643.4h0"/>
<path stroke="#32f298" d="M637.4 639.7h0"/>
<path stroke="#61fc6c" d="M637.5 636.6h0"/>
<path stroke="#75fe5c" d="M637.6 631.3h0"/>
<path stroke="#1fe9af" d="M637.7 629.4h0"/>
<path stroke="#55fa76" d="M637.8 623.9h0"/>
<path stroke="#4ef97d" d="M638.0 616.6h0"/>
<path stroke="#2aefa1" d="M638.1 612.5h0"/>
<path stroke="#18ddc2" d="M638.2 608.2h0"/>
<path stroke="#2aefa1" d="M638.3 602.7h0"/>
<path stroke="#75fe5c" d="M638.4 599.4h0"/>
<path stroke="#6dfe62" d="M638.6 595.3h0"/>
<path stroke="#43f787" d="M638.7 590.0h0"/>
<path stroke="#92ff47" d="M638.8 587.2h0"/>
<path stroke="#61fc6c" d="M638.9 584.0h0"/>
<path stroke="#80ff53" d="M639.0 580.5h0"/>
<path stroke="#75fe5c" d="M639.2 577.2h0"/>
<path stroke="#61fc6c" d="M639.3 572.3h0"/>
<path stroke="#4ef97d" d="M639.4 569.6h0"/>
<path stroke="#61fc6c" d="M639.5 564.9h0"/>
<path stroke="#43f787" d="M639.6 561.6h0M639.8 558.5h0"/>
<path stroke="#1fe9af" d="M639.9 554.2h0"/>
<path stroke="#2aefa1" d="M640.0 550.2h0M640.1 547.0h0"/>
<path stroke="#9cfe40" d="M640.2 544.5h0"/>
<path stroke="#22ebaa" d="M640.4 543.6h0"/>
<path stroke="#75fe5c" d="M640.5 539.0h0"/>
<path stroke="#8bff4b" d="M640.6 538.4h0"/>
<path stroke="#75fe5c" d="M640.7 534.8h0M640.8 529.9h0"/>
<path stroke="#6dfe62" d="M641.0 526.7h0"/>
<path stroke="#4ef97d" d="M641.1 525.5h0"/>
<path stroke="#80ff53" d="M641.2 520.7h0"/>
<path stroke="#a9fb39" d="M641.3 517.6h0"/>
<path stroke="#92ff47" d="M641.4 515.3h0M641.6 513.4h0"/>
<path stroke="#8bff4b" d="M641.7 514.0h0"/>
<path stroke="#a9fb39" d="M641.8 512.2h0"/>
<path stroke="#80ff53" d="M641.9 510.0h0"/>
<path stroke="#9cfe40" d="M642.0 508.7h0"/>
<path stroke="#a4fc3c" d="M642.2 508.1h0"/>
<path stroke="#75fe5c" d="M642.3 506.2h0"/>
<path stroke="#80ff53" d="M642.4 502.9h0"/>
<path stroke="#92ff47" d="M642.5 503.2h0"/>
<path stroke="#b1f936" d="M642.6 501.4h0"/>
<path stroke="#61fc6c" d="M642.8 497.2h0"/>
<path stroke="#9cfe40" d="M642.9 496.9h0"/>
<path stroke="#b9f635" d="M643.0 494.8h0"/>
<path stroke="#92ff47" d="M643.1 494.3h0M643.2 492.3h0M643.4 488.1h0"/>
<path stroke="#80ff53" d="M643.5 487.0h0"/>
<path stroke="#bef434" d="M643.6 483.1h0"/>
<path stroke="#8bff4b" d="M643.7 480.4h0"/>
<path stroke="#a9fb39" d="M643.8 480.8h0"/>
<path stroke="#8bff4b" d="M644.0 473.7h0"/>
<path stroke="#a9fb39" d="M644.1 464.3h0"/>
<path stroke="#9cfe40" d="M644.2 455.1h0"/>
<path stroke="#b9f635" d="M644.3 446.7h0"/>
<path stroke="#75fe5c" d="M644.4 439.8h0"/>
<path stroke="#9cfe40" d="M644.6 435.2h0"/>
<path stroke="#d9e436" d="M644.7 428.2h0M644.8 423.3h0"/>
<path stroke="#eecf3a" d="M644.9 420.7h0M645.0 420.6h0"/>
<path stroke="#f1cb3a" d="M645.2 418.3h0"/>
<path stroke="#dfdf37" d="M645.3 418.3h0"/>
<path stroke="#e3db38" d="M645.4 418.0h0M645.5 417.2h0"/>
<path stroke="#eecf3a" d="M645.6 415.6h0"/>
<path stroke="#f1cb3a" d="M645.8 415.1h0"/>
<path stroke="#f5c53a" d="M645.9 416.4h0"/>
<path stroke="#f1cb3a" d="M646.0 415.0h0"/>
<path stroke="#faba39" d="M646.1 414.3h0"/>
<path stroke="#f8be39" d="M646.2 414.7h0M646.4 412.8h0"/>
<path stroke="#eecf3a" d="M646.5 413.6h0"/>
<path stroke="#f5c53a" d="M646.6 413.0h0"/>
<path stroke="#f8be39" d="M646.7 411.5h0M646.9 410.2h0"/>
<path stroke="#faba39" d="M647.0 410.2h0"/>
<path stroke="#f5c53a" d="M647.1 408.9h0"/>
<path stroke="#f1cb3a" d="M647.2 403.5h0"/>
<path stroke="#e9d539" d="M647.3 396.2h0"/>
<path stroke="#d9e436" d="M647.5 393.6h0"/>
<path stroke="#e9d539" d="M647.6 391.6h0"/>
<path stroke="#d9e436" d="M647.7 390.3h0"/>
<path stroke="#e3db38" d="M647.8 388.6h0M647.9 386.6h0M648.1 384.4h0M648.2 383.6h0"/>
<path stroke="#e9d539" d="M648.3 382.0h0M648.4 381.1h0"/>
<path stroke="#e3db38" d="M648.5 379.6h0"/>
<path stroke="#f5c53a" d="M648.7 379.1h0"/>
<path stroke="#e9d539" d="M648.8 376.3h0"/>
<path stroke="#dfdf37" d="M648.9 373.1h0"/>
<path stroke="#f1cb3a" d="M649.0 373.0h0"/>
<path stroke="#e3db38" d="M649.1 370.7h0"/>
<path stroke="#f1cb3a" d="M649.3 368.2h0"/>
<path stroke="#e9d539" d="M649.4 367.5h0"/>
<path stroke="#f8be39" d="M649.5 365.8h0"/>
<path stroke="#faba39" d="M649.6 362.7h0"/>
<path stroke="#f8be39" d="M649.7 362.3h0M649.9 360.7h0"/>
<path stroke="#f1cb3a" d="M650.0 357.6h0"/>
<path stroke="#fdac34" d="M650.1 355.5h0"/>
<path stroke="#f8be39" d="M650.2 353.6h0"/>
<path stroke="#fcb336" d="M650.3 350.6h0"/>
<path stroke="#faba39" d="M650.5 347.9h0M650.6 345.1h0"/>
<path stroke="#f5c53a" d="M650.7 344.2h0"/>
<path stroke="#fcb336" d="M650.8 340.1h0"/>
<path stroke="#faba39" d="M650.9 338.8h0"/>
<path stroke="#fcb336" d="M651.1 334.5h0"/>
<path stroke="#f5c53a" d="M651.2 332.7h0"/>
<path stroke="#fdac34" d="M651.3 330.8h0"/>
<path stroke="#faba39" d="M651.4 328.3h0"/>
<path stroke="#f8be39" d="M651.5 324.9h0M651.7 322.0h0"/>
<path stroke="#fdac34" d="M651.8 318.1h0"/>
<path stroke="#f5c53a" d="M651.9 315.0h0M652.0 309.9h0"/>
<path stroke="#fdac34" d="M652.1 304.3h0M652.3 299.0h0"/>
<path stroke="#fea732" d="M652.4 294.0h0"/>
<path stroke="#f8be39" d="M652.5 290.0h0M652.6 290.0h0M652.7 301.6h0"/>
<path stroke="#faba39" d="M652.7 285.9h0"/>
<path stroke="#fdac34" d="M652.9 285.7h0"/>
<path stroke="#fcb336" d="M653.0 286.2h0"/>
<path stroke="#faba39" d="M653.1 286.5h0"/>
<path stroke="#f8be39" d="M653.2 267.6h0"/>
<path stroke="#fcb336" d="M653.3 257.4h0"/>
<path stroke="#fea732" d="M653.5 254.2h0"/>
<path stroke="#f8be39" d="M653.6 256.2h0"/>
<path stroke="#fea732" d="M653.7 254.5h0"/>
<path stroke="#f8be39" d="M653.7 293.6h0M653.8 238.9h0"/>
<path stroke="#faba39" d="M653.9 212.8h0"/>
<path stroke="#f5c53a" d="M654.1 223.4h0"/>
<path stroke="#fcb336" d="M654.2 243.4h0"/>
<path stroke="#faba39" d="M654.3 234.5h0"/>
<path stroke="#fea732" d="M654.4 242.4h0"/>
<path stroke="#fe962b" d="M654.5 233.8h0"/>
<path stroke="#fdac34" d="M654.7 232.9h0"/>
<path stroke="#f5c53a" d="M654.8 222.7h0"/>
<path stroke="#f8be39" d="M654.9 238.7h0"/>
<path stroke="#eecf3a" d="M655.0 223.3h0"/>
<path stroke="#fdac34" d="M655.1 226.5h0"/>
<path stroke="#faba39" d="M655.3 241.9h0"/>
<path stroke="#f8be39" d="M655.4 239.1h0"/>
<path stroke="#faba39" d="M655.5 217.9h0"/>
<path stroke="#fea732" d="M655.6 226.3h0"/>
<path stroke="#fe9e2f" d="M655.7 223.0h0"/>
<path stroke="#fe9029" d="M655.9 201.2h0"/>
<path stroke="#fcb336" d="M656.0 202.1h0"/>
<path stroke="#fea732" d="M656.1 202.2h0"/>
<path stroke="#fc8725" d="M656.2 219.3h0"/>
<path stroke="#fe9029" d="M656.3 211.9h0"/>
<path stroke="#fdac34" d="M656.5 216.7h0"/>
<path stroke="#fea732" d="M656.6 229.7h0"/>
<path stroke="#f9781e" d="M656.7 194.2h0"/>
<path stroke="#f8be39" d="M656.7 310.6h0"/>
<path stroke="#fea732" d="M656.8 218.6h0"/>
<path stroke="#fe962b" d="M656.9 219.3h0"/>
<path stroke="#f8be39" d="M657.0 310.9h0"/>
<path stroke="#fea732" d="M657.1 202.2h0"/>
<path stroke="#f26014" d="M657.2 209.9h0"/>
<path stroke="#fc8725" d="M657.3 231.1h0"/>
<path stroke="#fea732" d="M657.4 217.2h0"/>
<path stroke="#fe9e2f" d="M657.5 208.0h0"/>
<path stroke="#fe9029" d="M657.7 236.1h0"/>
<path stroke="#f9781e" d="M657.8 261.5h0"/>
<path stroke="#fe962b" d="M657.9 277.8h0"/>
<path stroke="#fc8725" d="M658.0 276.4h0"/>
<path stroke="#fe9e2f" d="M658.1 248.2h0"/>
<path stroke="#fe9029" d="M658.3 226.2h0"/>
<path stroke="#fea732" d="M658.4 220.3h0"/>
<path stroke="#f8be39" d="M658.5 201.7h0"/>
<path stroke="#fdac34" d="M658.6 214.5h0"/>
<path stroke="#fe9e2f" d="M658.8 237.0h0M658.9 214.9h0"/>
<path stroke="#f9781e" d="M659.0 244.0h0"/>
<path stroke="#fcb336" d="M659.1 221.2h0"/>
<path stroke="#fe9029" d="M659.2 209.9h0"/>
<path stroke="#f9781e" d="M659.4 186.1h0"/>
<path stroke="#fc8725" d="M659.5 206.4h0M659.6 207.6h0"/>
<path stroke="#fe962b" d="M659.7 210.6h0"/>
<path stroke="#fe9e2f" d="M659.8 163.1h0"/>
<path stroke="#fe962b" d="M660.0 162.4h0"/>
<path stroke="#fdac34" d="M660.1 178.6h0M660.2 162.6h0"/>
<path stroke="#fcb336" d="M660.3 186.9h0"/>
<path stroke="#fdac34" d="M660.4 196.4h0"/>
<path stroke="#fb7e21" d="M660.6 217.3h0M660.7 211.5h0M660.8 226.4h0"/>
<path stroke="#fe9029" d="M660.9 241.8h0M661.0 256.7h0"/>
<path stroke="#fea732" d="M661.2 244.9h0"/>
<path stroke="#fe9029" d="M661.3 253.4h0M661.4 238.4h0"/>
<path stroke="#fe9e2f" d="M661.5 232.3h0"/>
<path stroke="#faba39" d="M661.6 220.8h0"/>
<path stroke="#fe962b" d="M661.8 213.6h0"/>
<path stroke="#fdac34" d="M661.9 183.4h0"/>
<path stroke="#fc8725" d="M662.0 182.4h0"/>
<path stroke="#fea732" d="M662.1 169.9h0"/>
<path stroke="#fcb336" d="M662.2 172.7h0"/>
<path stroke="#fea732" d="M662.4 181.6h0"/>
<path stroke="#fdac34" d="M662.5 184.9h0"/>
<path stroke="#fe9e2f" d="M662.6 186.8h0"/>
<path stroke="#fe962b" d="M662.7 204.4h0M662.8 205.8h0"/>
<path stroke="#fdac34" d="M663.0 210.3h0"/>
<path stroke="#faba39" d="M663.1 220.1h0"/>
<path stroke="#fea732" d="M663.2 211.7h0"/>
<path stroke="#f8be39" d="M663.3 207.4h0"/>
<path stroke="#f1cb3a" d="M663.4 208.9h0"/>
<path stroke="#faba39" d="M663.6 202.2h0"/>
<path stroke="#f5c53a" d="M663.7 208.7h0"/>
<path stroke="#d2e935" d="M663.8 197.3h0"/>
<path stroke="#e3db38" d="M663.9 191.1h0"/>
<path stroke="#f1cb3a" d="M664.0 189.0h0"/>
<path stroke="#e3db38" d="M664.2 184.7h0"/>
<path stroke="#d2e935" d="M664.3 183.6h0"/>
<path stroke="#e9d539" d="M664.4 177.7h0"/>
<path stroke="#eecf3a" d="M664.5 164.8h0"/>
<path stroke="#f1cb3a" d="M664.6 174.5h0"/>
<path stroke="#e3db38" d="M664.8 174.3h0"/>
<path stroke="#dfdf37" d="M664.9 181.4h0"/>
<path stroke="#e3db38" d="M665.0 175.5h0"/>
<path stroke="#d2e935" d="M665.1 180.6h0"/>
<path stroke="#a9fb39" d="M665.2 173.3h0"/>
<path stroke="#f5c53a" d="M665.4 188.1h0"/>
<path stroke="#bef434" d="M665.5 188.3h0"/>
<path stroke="#dfdf37" d="M665.6 184.2h0"/>
<path stroke="#bef434" d="M665.7 161.8h0"/>
<path stroke="#b9f635" d="M665.8 161.0h0"/>
<path stroke="#dfdf37" d="M666.0 159.9h0"/>
<path stroke="#a9fb39" d="M666.1 160.0h0"/>
<path stroke="#b1f936" d="M666.2 160.2h0"/>
<path stroke="#80ff53" d="M666.3 161.2h0"/>
<path stroke="#cdec34" d="M666.4 173.2h0"/>
<path stroke="#b1f936" d="M666.6 173.6h0"/>
<path stroke="#a9fb39" d="M666.7 173.3h0"/>
<path stroke="#dfdf37" d="M666.8 170.0h0"/>
<path stroke="#d2e935" d="M666.9 164.4h0"/>
<path stroke="#a4fc3c" d="M667.0 174.6h0"/>
<path stroke="#e3db38" d="M667.2 174.4h0"/>
<path stroke="#c6f034" d="M667.3 174.2h0"/>
<path stroke="#b9f635" d="M667.4 182.3h0M667.5 187.5h0"/>
<path stroke="#9cfe40" d="M667.6 199.9h0"/>
<path stroke="#bef434" d="M667.8 208.0h0"/>
<path stroke="#cdec34" d="M667.9 191.5h0"/>
<path stroke="#d9e436" d="M668.0 183.8h0"/>
<path stroke="#eecf3a" d="M668.1 199.7h0"/>
<path stroke="#bef434" d="M668.2 196.6h0"/>
<path stroke="#f8be39" d="M668.4 205.0h0"/>
<path stroke="#d2e935" d="M668.5 195.2h0"/>
<path stroke="#f5c53a" d="M668.6 166.1h0"/>
<path stroke="#e9d539" d="M668.7 162.3h0"/>
<path stroke="#d9e436" d="M668.8 163.5h0"/>
<path stroke="#a9fb39" d="M669.0 163.4h0"/>
<path stroke="#faba39" d="M669.1 195.0h0"/>
<path stroke="#bef434" d="M669.2 209.8h0"/>
<path stroke="#f5c53a" d="M669.3 219.9h0"/>
<path stroke="#c6f034" d="M669.4 229.9h0"/>
<path stroke="#d2e935" d="M669.6 204.0h0"/>
<path stroke="#cdec34" d="M669.7 207.0h0"/>
<path stroke="#b1f936" d="M669.8 207.7h0"/>
<path stroke="#cdec34" d="M669.9 237.6h0"/>
<path stroke="#e9d539" d="M670.0 222.7h0"/>
<path stroke="#eecf3a" d="M670.2 199.1h0"/>
<path stroke="#f1cb3a" d="M670.3 203.2h0"/>
<path stroke="#faba39" d="M670.4 204.1h0"/>
<path stroke="#eecf3a" d="M670.5 208.9h0"/>
<path stroke="#e9d539" d="M670.7 214.9h0M670.8 218.9h0"/>
<path stroke="#f1cb3a" d="M670.9 208.7h0"/>
<path stroke="#d9e436" d="M671.0 204.3h0"/>
<path stroke="#a4fc3c" d="M671.1 244.8h0"/>
<path stroke="#b9f635" d="M671.3 229.7h0"/>
<path stroke="#e9d539" d="M671.4 236.7h0"/>
<path stroke="#c6f034" d="M671.5 216.9h0"/>
<path stroke="#d2e935" d="M671.6 193.8h0"/>
<path stroke="#f1cb3a" d="M671.7 213.1h0"/>
<path stroke="#e3db38" d="M671.9 218.6h0"/>
<path stroke="#dfdf37" d="M672.0 240.3h0"/>
<path stroke="#d2e935" d="M672.1 252.8h0"/>
<path stroke="#f5c53a" d="M672.2 250.3h0"/>
<path stroke="#d9e436" d="M672.3 235.4h0M672.5 263.7h0"/>
<path stroke="#cdec34" d="M672.6 257.0h0"/>
<path stroke="#b9f635" d="M672.7 264.3h0"/>
<path stroke="#bef434" d="M672.8 264.0h0"/>
<path stroke="#f5c53a" d="M672.9 264.3h0"/>
<path stroke="#c6f034" d="M673.1 264.0h0"/>
<path stroke="#eecf3a" d="M673.2 263.7h0"/>
<path stroke="#b1f936" d="M673.3 264.6h0"/>
<path stroke="#bef434" d="M673.4 264.2h0"/>
<path stroke="#b9f635" d="M673.5 263.9h0"/>
<path stroke="#d2e935" d="M673.7 244.3h0"/>
<path stroke="#d9e436" d="M673.8 246.4h0"/>
<path stroke="#b9f635" d="M673.9 236.5h0M674.0 251.0h0"/>
<path stroke="#a4fc3c" d="M674.1 246.5h0"/>
<path stroke="#dfdf37" d="M674.3 259.7h0"/>
<path stroke="#d9e436" d="M674.4 257.6h0"/>
<path stroke="#b1f936" d="M674.5 243.7h0"/>
<path stroke="#cdec34" d="M674.6 238.3h0"/>
<path stroke="#b1f936" d="M674.7 248.4h0"/>
<path stroke="#a4fc3c" d="M674.9 238.5h0"/>
<path stroke="#61fc6c" d="M675.0 228.2h0"/>
<path stroke="#9cfe40" d="M675.1 229.0h0"/>
<path stroke="#8bff4b" d="M675.2 235.6h0"/>
<path stroke="#b1f936" d="M675.3 252.4h0"/>
<path stroke="#cdec34" d="M675.5 255.0h0"/>
<path stroke="#92ff47" d="M675.6 263.6h0"/>
<path stroke="#75fe5c" d="M675.7 256.0h0"/>
<path stroke="#c6f034" d="M675.8 265.6h0"/>
<path stroke="#bef434" d="M675.9 266.5h0"/>
<path stroke="#b9f635" d="M676.1 265.5h0"/>
<path stroke="#75fe5c" d="M676.2 266.5h0"/>
<path stroke="#92ff47" d="M676.3 265.4h0"/>
<path stroke="#b9f635" d="M676.4 263.8h0"/>
<path stroke="#bef434" d="M676.5 255.9h0"/>
<path stroke="#cdec34" d="M676.7 245.8h0"/>
<path stroke="#80ff53" d="M676.8 231.0h0"/>
<path stroke="#f1cb3a" d="M676.9 227.4h0"/>
<path stroke="#b1f936" d="M677.0 230.9h0M677.1 243.8h0"/>
<path stroke="#d2e935" d="M677.3 250.6h0"/>
<path stroke="#a9fb39" d="M677.4 244.6h0"/>
<path stroke="#b9f635" d="M677.5 237.1h0"/>
<path stroke="#bef434" d="M677.6 221.4h0"/>
<path stroke="#b9f635" d="M677.7 233.0h0"/>
<path stroke="#d2e935" d="M677.9 236.3h0"/>
<path stroke="#a9fb39" d="M678.0 243.1h0"/>
<path stroke="#92ff47" d="M678.1 249.8h0"/>
<path stroke="#9cfe40" d="M678.2 253.1h0"/>
<path stroke="#a9fb39" d="M678.3 249.6h0"/>
<path stroke="#a4fc3c" d="M678.5 244.5h0"/>
<path stroke="#c6f034" d="M678.6 233.2h0"/>
<path stroke="#e9d539" d="M678.7 229.0h0"/>
<path stroke="#a9fb39" d="M678.8 234.4h0"/>
<path stroke="#c6f034" d="M678.9 256.9h0M679.1 248.4h0"/>
<path stroke="#92ff47" d="M679.2 249.2h0M679.3 258.5h0M679.4 257.6h0"/>
<path stroke="#9cfe40" d="M679.5 257.1h0"/>
<path stroke="#eecf3a" d="M679.7 295.6h0"/>
<path stroke="#8bff4b" d="M679.7 254.7h0"/>
<path stroke="#92ff47" d="M679.8 248.1h0"/>
<path stroke="#f8be39" d="M679.8 294.8h0"/>
<path stroke="#b9f635" d="M679.9 229.3h0"/>
<path stroke="#61fc6c" d="M680.0 236.6h0"/>
<path stroke="#a9fb39" d="M680.1 221.4h0M680.3 219.2h0"/>
<path stroke="#9cfe40" d="M680.4 219.1h0"/>
<path stroke="#38f491" d="M680.5 225.2h0"/>
<path stroke="#4ef97d" d="M680.6 225.3h0"/>
<path stroke="#80ff53" d="M680.7 222.1h0"/>
<path stroke="#61fc6c" d="M680.9 218.9h0"/>
<path stroke="#55fa76" d="M681.0 221.7h0"/>
<path stroke="#a4fc3c" d="M681.1 222.5h0"/>
<path stroke="#4ef97d" d="M681.2 218.3h0"/>
<path stroke="#b1f936" d="M681.3 211.7h0"/>
<path stroke="#b9f635" d="M681.5 208.5h0M681.6 214.6h0"/>
<path stroke="#c6f034" d="M681.7 207.1h0"/>
<path stroke="#b1f936" d="M681.8 210.9h0"/>
<path stroke="#a9fb39" d="M681.9 215.1h0"/>
<path stroke="#4ef97d" d="M682.1 225.1h0"/>
<path stroke="#8bff4b" d="M682.2 222.3h0"/>
<path stroke="#6dfe62" d="M682.3 216.3h0"/>
<path stroke="#b9f635" d="M682.4 217.9h0"/>
<path stroke="#9cfe40" d="M682.6 217.4h0"/>
<path stroke="#75fe5c" d="M682.7 207.4h0"/>
<path stroke="#43f787" d="M682.8 214.8h0"/>
<path stroke="#55fa76" d="M682.9 218.3h0"/>
<path stroke="#80ff53" d="M683.0 220.6h0"/>
<path stroke="#8bff4b" d="M683.2 217.3h0"/>
<path stroke="#9cfe40" d="M683.3 221.6h0"/>
<path stroke="#92ff47" d="M683.4 220.5h0"/>
<path stroke="#75fe5c" d="M683.5 232.7h0"/>
<path stroke="#80ff53" d="M683.6 236.1h0"/>
<path stroke="#e9d539" d="M683.6 281.7h0"/>
<path stroke="#18e0bd" d="M683.8 243.6h0"/>
<path stroke="#22ebaa" d="M683.9 232.8h0"/>
<path stroke="#32f298" d="M684.0 223.9h0"/>
<path stroke="#55fa76" d="M684.1 222.9h0"/>
<path stroke="#6dfe62" d="M684.2 218.2h0"/>
<path stroke="#4ef97d" d="M684.4 231.9h0"/>
<path stroke="#2aefa1" d="M684.5 233.3h0"/>
<path stroke="#75fe5c" d="M684.6 224.4h0"/>
<path stroke="#43f787" d="M684.7 223.2h0"/>
<path stroke="#6dfe62" d="M684.8 236.3h0"/>
<path stroke="#18e0bd" d="M685.0 231.7h0"/>
<path stroke="#a4fc3c" d="M685.1 234.8h0"/>
<path stroke="#22ebaa" d="M685.2 222.6h0"/>
<path stroke="#a9fb39" d="M685.3 218.2h0"/>
<path stroke="#80ff53" d="M685.4 220.0h0"/>
<path stroke="#a9fb39" d="M685.6 219.7h0"/>
<path stroke="#a4fc3c" d="M685.7 221.4h0"/>
<path stroke="#43f787" d="M685.8 224.6h0M685.9 231.0h0"/>
<path stroke="#55fa76" d="M686.0 220.6h0"/>
<path stroke="#32f298" d="M686.2 220.7h0"/>
<path stroke="#92ff47" d="M686.3 225.9h0"/>
<path stroke="#32f298" d="M686.4 228.5h0"/>
<path stroke="#55fa76" d="M686.5 235.4h0"/>
<path stroke="#1ae4b6" d="M686.6 232.9h0"/>
<path stroke="#75fe5c" d="M686.8 229.1h0"/>
<path stroke="#2aefa1" d="M686.9 223.9h0"/>
<path stroke="#cdec34" d="M687.0 230.1h0"/>
<path stroke="#6dfe62" d="M687.1 219.6h0"/>
<path stroke="#55fa76" d="M687.2 219.3h0"/>
<path stroke="#75fe5c" d="M687.4 220.4h0"/>
<path stroke="#38f491" d="M687.5 225.2h0"/>
<path stroke="#55fa76" d="M687.6 223.6h0"/>
<path stroke="#6dfe62" d="M687.7 218.0h0"/>
<path stroke="#61fc6c" d="M687.8 223.9h0"/>
<path stroke="#75fe5c" d="M688.0 216.0h0M688.1 212.7h0"/>
<path stroke="#22ebaa" d="M688.2 207.8h0"/>
<path stroke="#4ef97d" d="M688.3 208.4h0"/>
<path stroke="#61fc6c" d="M688.4 212.9h0"/>
<path stroke="#8bff4b" d="M688.6 208.4h0"/>
<path stroke="#9cfe40" d="M688.7 207.2h0M688.8 214.4h0"/>
<path stroke="#dfdf37" d="M688.9 211.4h0"/>
<path stroke="#9cfe40" d="M689.0 207.3h0"/>
<path stroke="#6dfe62" d="M689.2 207.5h0"/>
<path stroke="#92ff47" d="M689.3 214.3h0"/>
<path stroke="#9cfe40" d="M689.4 208.3h0"/>
<path stroke="#c6f034" d="M689.5 213.6h0"/>
<path stroke="#75fe5c" d="M689.6 215.9h0"/>
<path stroke="#b9f635" d="M689.8 223.3h0"/>
<path stroke="#8bff4b" d="M689.9 216.9h0"/>
<path stroke="#80ff53" d="M690.0 224.9h0M690.1 227.1h0"/>
<path stroke="#92ff47" d="M690.2 231.2h0"/>
<path stroke="#4ef97d" d="M690.4 230.8h0"/>
<path stroke="#38f491" d="M690.5 234.9h0"/>
<path stroke="#61fc6c" d="M690.6 232.6h0"/>
<path stroke="#9cfe40" d="M690.7 228.2h0"/>
<path stroke="#92ff47" d="M690.8 220.6h0"/>
<path stroke="#55fa76" d="M691.0 212.5h0M691.1 214.1h0"/>
<path stroke="#43f787" d="M691.2 213.9h0"/>
<path stroke="#55fa76" d="M691.3 215.0h0"/>
<path stroke="#6dfe62" d="M691.4 216.1h0"/>
<path stroke="#1fe9af" d="M691.6 218.8h0"/>
<path stroke="#43f787" d="M691.7 221.5h0"/>
<path stroke="#b1f936" d="M691.8 217.1h0"/>
<path stroke="#92ff47" d="M691.9 223.6h0"/>
<path stroke="#55fa76" d="M692.0 236.8h0"/>
<path stroke="#43f787" d="M692.2 229.3h0"/>
<path stroke="#75fe5c" d="M692.3 224.9h0"/>
<path stroke="#32f298" d="M692.4 229.0h0"/>
<path stroke="#2aefa1" d="M692.5 223.9h0"/>
<path stroke="#75fe5c" d="M692.6 229.8h0M692.8 223.6h0"/>
<path stroke="#43f787" d="M692.9 218.1h0"/>
<path stroke="#38f491" d="M693.0 212.9h0"/>
<path stroke="#32f298" d="M693.1 221.4h0"/>
<path stroke="#18d7ca" d="M693.2 210.4h0"/>
<path stroke="#18ddc2" d="M693.4 213.0h0"/>
<path stroke="#18e0bd" d="M693.5 208.9h0M693.6 211.4h0"/>
<path stroke="#1ad2d2" d="M693.7 217.6h0"/>
<path stroke="#18ddc2" d="M693.8 223.0h0"/>
<path stroke="#55fa76" d="M694.0 235.9h0"/>
<path stroke="#38f491" d="M694.1 234.2h0"/>
<path stroke="#4ef97d" d="M694.2 239.7h0"/>
<path stroke="#32f298" d="M694.3 240.4h0"/>
<path stroke="#1fe9af" d="M694.5 244.2h0"/>
<path stroke="#32f298" d="M694.6 236.6h0"/>
<path stroke="#18e0bd" d="M694.7 240.9h0"/>
<path stroke="#61fc6c" d="M694.8 236.2h0"/>
<path stroke="#6dfe62" d="M694.9 244.0h0"/>
<path stroke="#43f787" d="M695.1 244.2h0"/>
<path stroke="#22ebaa" d="M695.2 242.9h0"/>
<path stroke="#18ddc2" d="M695.3 244.8h0"/>
<path stroke="#1ccdd8" d="M695.4 245.1h0"/>
<path stroke="#1fe9af" d="M695.5 243.1h0"/>
<path stroke="#18e0bd" d="M695.7 245.6h0"/>
<path stroke="#1ccdd8" d="M695.8 245.1h0"/>
<path stroke="#20c7df" d="M695.9 234.6h0"/>
<path stroke="#18ddc2" d="M696.0 226.8h0"/>
<path stroke="#1ad2d2" d="M696.1 225.8h0"/>
<path stroke="#18ddc2" d="M696.3 226.6h0"/>
<path stroke="#1fe9af" d="M696.4 231.5h0M696.5 238.4h0"/>
<path stroke="#bef434" d="M696.6 276.7h0"/>
<path stroke="#1ccdd8" d="M696.6 238.1h0"/>
<path stroke="#18e0bd" d="M696.7 238.0h0"/>
<path stroke="#18d7ca" d="M696.9 230.5h0"/>
<path stroke="#1ad2d2" d="M697.0 237.2h0"/>
<path stroke="#20c7df" d="M697.1 243.6h0"/>
<path stroke="#22ebaa" d="M697.2 240.7h0"/>
<path stroke="#8bff4b" d="M697.2 270.2h0"/>
<path stroke="#bef434" d="M697.2 276.7h0"/>
<path stroke="#61fc6c" d="M697.3 243.3h0"/>
<path stroke="#1fe9af" d="M697.5 237.4h0"/>
<path stroke="#55fa76" d="M697.6 237.3h0"/>
<path stroke="#8bff4b" d="M697.6 270.7h0"/>
<path stroke="#6dfe62" d="M697.7 235.5h0M697.8 241.0h0"/>
<path stroke="#18ddc2" d="M697.9 230.3h0"/>
<path stroke="#2aefa1" d="M698.1 231.0h0"/>
<path stroke="#22ebaa" d="M698.2 237.5h0"/>
<path stroke="#20c7df" d="M698.3 237.5h0"/>
<path stroke="#6dfe62" d="M698.4 239.4h0"/>
<path stroke="#2aefa1" d="M698.5 224.6h0"/>
<path stroke="#75fe5c" d="M698.7 220.7h0"/>
<path stroke="#1ae4b6" d="M698.8 218.9h0"/>
<path stroke="#43f787" d="M698.9 218.1h0"/>
<path stroke="#22ebaa" d="M699.0 207.8h0"/>
<path stroke="#38f491" d="M699.1 217.6h0"/>
<path stroke="#6dfe62" d="M699.3 222.6h0"/>
<path stroke="#4ef97d" d="M699.4 211.2h0"/>
<path stroke="#43f787" d="M699.5 212.5h0M699.6 217.2h0"/>
<path stroke="#61fc6c" d="M699.7 224.8h0"/>
<path stroke="#2aefa1" d="M699.9 229.5h0"/>
<path stroke="#43f787" d="M700.0 224.3h0"/>
<path stroke="#55fa76" d="M700.1 221.6h0"/>
<path stroke="#32f298" d="M700.2 224.8h0"/>
<path stroke="#8bff4b" d="M700.3 232.1h0"/>
<path stroke="#43f787" d="M700.5 226.9h0"/>
<path stroke="#22ebaa" d="M700.6 223.4h0"/>
<path stroke="#6dfe62" d="M700.7 228.5h0"/>
<path stroke="#92ff47" d="M700.8 228.7h0"/>
<path stroke="#80ff53" d="M700.9 237.2h0"/>
<path stroke="#2aefa1" d="M701.1 238.0h0"/>
<path stroke="#80ff53" d="M701.2 243.4h0"/>
<path stroke="#4ef97d" d="M701.3 229.0h0"/>
<path stroke="#61fc6c" d="M701.4 219.8h0"/>
<path stroke="#1ad2d2" d="M701.5 213.8h0"/>
<path stroke="#92ff47" d="M701.7 212.8h0"/>
<path stroke="#a4fc3c" d="M701.8 216.6h0"/>
<path stroke="#43f787" d="M701.9 217.5h0"/>
<path stroke="#18e0bd" d="M702.0 222.7h0"/>
<path stroke="#75fe5c" d="M702.1 219.7h0"/>
<path stroke="#bef434" d="M702.3 227.3h0"/>
<path stroke="#a4fc3c" d="M702.4 232.2h0"/>
<path stroke="#b9f635" d="M702.5 221.0h0"/>
<path stroke="#22ebaa" d="M702.6 215.9h0"/>
<path stroke="#8bff4b" d="M702.7 214.8h0"/>
<path stroke="#4ef97d" d="M702.9 221.4h0"/>
<path stroke="#38f491" d="M703.0 227.7h0"/>
<path stroke="#75fe5c" d="M703.1 237.7h0"/>
<path stroke="#4ef97d" d="M703.2 227.0h0"/>
<path stroke="#18e0bd" d="M703.3 228.1h0"/>
<path stroke="#18ddc2" d="M703.5 228.0h0"/>
<path stroke="#43f787" d="M703.6 224.9h0"/>
<path stroke="#2aefa1" d="M703.7 224.3h0"/>
<path stroke="#b1f936" d="M703.8 214.0h0"/>
<path stroke="#43f787" d="M703.9 217.7h0"/>
<path stroke="#a4fc3c" d="M704.1 216.1h0"/>
<path stroke="#55fa76" d="M704.2 211.4h0"/>
<path stroke="#b9f635" d="M704.3 223.6h0"/>
<path stroke="#92ff47" d="M704.4 219.9h0"/>
<path stroke="#4099ff" d="M704.5 264.4h0"/>
<path stroke="#b9f635" d="M704.5 221.2h0"/>
<path stroke="#4099ff" d="M704.6 264.1h0"/>
<path stroke="#9cfe40" d="M704.7 218.1h0"/>
<path stroke="#a9fb39" d="M704.8 209.3h0"/>
<path stroke="#a4fc3c" d="M704.9 209.8h0"/>
<path stroke="#80ff53" d="M705.0 216.2h0"/>
<path stroke="#cdec34" d="M705.1 212.1h0"/>
<path stroke="#dfdf37" d="M705.3 217.4h0"/>
<path stroke="#d2e935" d="M705.4 229.5h0"/>
<path stroke="#f5c53a" d="M705.5 236.8h0"/>
<path stroke="#b1f936" d="M705.6 233.8h0"/>
<path stroke="#d9e436" d="M705.7 227.0h0"/>
<path stroke="#cdec34" d="M705.9 233.5h0"/>
<path stroke="#e9d539" d="M706.0 222.5h0"/>
<path stroke="#c6f034" d="M706.1 217.1h0"/>
<path stroke="#e9d539" d="M706.2 230.8h0"/>
<path stroke="#f1cb3a" d="M706.4 233.6h0"/>
<path stroke="#fcb336" d="M706.5 236.7h0"/>
<path stroke="#f1cb3a" d="M706.6 233.7h0"/>
<path stroke="#fcb336" d="M706.7 251.4h0"/>
<path stroke="#eecf3a" d="M706.8 251.8h0"/>
<path stroke="#faba39" d="M707.0 252.7h0"/>
<path stroke="#fe962b" d="M707.1 252.6h0"/>
<path stroke="#f8be39" d="M707.2 252.3h0"/>
<path stroke="#fdac34" d="M707.3 253.3h0"/>
<path stroke="#fea732" d="M707.4 253.6h0"/>
<path stroke="#fe9029" d="M707.6 253.5h0"/>
<path stroke="#fe962b" d="M707.7 253.1h0"/>
<path stroke="#fdac34" d="M707.8 253.6h0"/>
<path stroke="#fea732" d="M707.9 253.9h0"/>
<path stroke="#fe9e2f" d="M708.0 254.8h0"/>
<path stroke="#fe9029" d="M708.2 255.1h0"/>
<path stroke="#fc8725" d="M708.3 253.3h0"/>
<path stroke="#fcb336" d="M708.4 254.5h0"/>
<path stroke="#fe9e2f" d="M708.5 249.9h0"/>
<path stroke="#faba39" d="M708.6 238.6h0"/>
<path stroke="#fea732" d="M708.8 224.0h0"/>
<path stroke="#fe962b" d="M708.9 215.9h0"/>
<path stroke="#fdac34" d="M709.0 211.5h0"/>
<path stroke="#faba39" d="M709.1 223.2h0"/>
<path stroke="#fcb336" d="M709.2 211.0h0"/>
<path stroke="#fea732" d="M709.4 219.6h0"/>
<path stroke="#fcb336" d="M709.5 205.9h0"/>
<path stroke="#fdac34" d="M709.6 232.9h0"/>
<path stroke="#fe9e2f" d="M709.7 228.8h0"/>
<path stroke="#fcb336" d="M709.8 230.6h0"/>
<path stroke="#fea732" d="M710.0 246.4h0"/>
<path stroke="#fcb336" d="M710.1 241.5h0"/>
<path stroke="#fc8725" d="M710.2 241.5h0"/>
<path stroke="#f8be39" d="M710.3 241.3h0"/>
<path stroke="#fe962b" d="M710.4 243.9h0"/>
<path stroke="#fea732" d="M710.6 238.1h0M710.7 253.1h0"/>
<path stroke="#fe9e2f" d="M710.8 254.9h0"/>
<path stroke="#fdac34" d="M710.9 253.8h0"/>
<path stroke="#fe9e2f" d="M711.0 256.3h0"/>
<path stroke="#fea732" d="M711.2 255.8h0M711.3 246.4h0"/>
<path stroke="#fe962b" d="M711.4 243.3h0"/>
<path stroke="#fcb336" d="M711.5 245.7h0"/>
<path stroke="#fe9e2f" d="M711.6 229.9h0"/>
<path stroke="#fe962b" d="M711.8 228.8h0"/>
<path stroke="#fe9029" d="M711.9 233.1h0"/>
<path stroke="#fcb336" d="M712.0 223.2h0"/>
<path stroke="#fe962b" d="M712.1 228.8h0M712.2 221.0h0M712.4 226.3h0"/>
<path stroke="#fcb336" d="M712.5 226.4h0"/>
<path stroke="#fdac34" d="M712.6 269.7h0M712.6 281.7h0"/>
<path stroke="#faba39" d="M712.6 230.5h0"/>
<path stroke="#fb7e21" d="M712.7 225.5h0"/>
<path stroke="#fe9029" d="M712.8 210.5h0M713.0 204.9h0"/>
<path stroke="#fe9e2f" d="M713.1 233.8h0"/>
<path stroke="#fdac34" d="M713.1 268.8h0M713.1 279.6h0"/>
<path stroke="#fb7e21" d="M713.2 221.1h0"/>
<path stroke="#fc8725" d="M713.3 215.5h0"/>
<path stroke="#fe962b" d="M713.4 205.7h0"/>
<path stroke="#fea732" d="M713.6 223.6h0M713.7 230.4h0"/>
<path stroke="#fe962b" d="M713.8 238.3h0"/>
<path stroke="#fea732" d="M713.9 228.6h0"/>
<path stroke="#fdac34" d="M714.0 238.3h0"/>
<path stroke="#fea732" d="M714.2 230.9h0"/>
<path stroke="#f5c53a" d="M714.3 242.6h0"/>
<path stroke="#f8be39" d="M714.4 239.8h0"/>
<path stroke="#fea732" d="M714.5 221.1h0"/>
<path stroke="#fdac34" d="M714.6 275.7h0"/>
<path stroke="#fea732" d="M714.6 222.4h0"/>
<path stroke="#f1cb3a" d="M714.8 217.9h0"/>
<path stroke="#faba39" d="M714.9 241.5h0"/>
<path stroke="#fcb336" d="M715.0 229.7h0"/>
<path stroke="#f8be39" d="M715.1 227.1h0"/>
<path stroke="#eecf3a" d="M715.2 226.8h0M715.4 222.1h0"/>
<path stroke="#f8be39" d="M715.5 218.0h0"/>
<path stroke="#d9e436" d="M715.6 221.5h0"/>
<path stroke="#e3db38" d="M715.7 226.5h0"/>
<path stroke="#d9e436" d="M715.8 225.5h0"/>
<path stroke="#e3db38" d="M716.0 225.8h0"/>
<path stroke="#eecf3a" d="M716.1 228.2h0"/>
<path stroke="#e3db38" d="M716.2 221.3h0M716.3 221.9h0"/>
<path stroke="#cdec34" d="M716.4 226.6h0"/>
<path stroke="#bef434" d="M716.6 236.3h0"/>
<path stroke="#c6f034" d="M716.7 242.6h0"/>
<path stroke="#a9fb39" d="M716.8 246.2h0M716.9 252.8h0"/>
<path stroke="#c6f034" d="M717.0 243.3h0"/>
<path stroke="#b1f936" d="M717.2 251.4h0"/>
<path stroke="#a4fc3c" d="M717.3 246.3h0"/>
<path stroke="#c6f034" d="M717.4 243.5h0"/>
<path stroke="#b1f936" d="M717.5 237.8h0"/>
<path stroke="#a9fb39" d="M717.6 244.8h0"/>
<path stroke="#b1f936" d="M717.8 237.1h0"/>
<path stroke="#bef434" d="M717.9 244.0h0"/>
<path stroke="#d9e436" d="M718.0 240.2h0"/>
<path stroke="#92ff47" d="M718.1 233.8h0M718.3 238.1h0"/>
<path stroke="#8bff4b" d="M718.4 231.0h0"/>
<path stroke="#9cfe40" d="M718.5 243.4h0"/>
<path stroke="#6dfe62" d="M718.6 236.4h0"/>
<path stroke="#9cfe40" d="M718.7 232.4h0"/>
<path stroke="#bef434" d="M718.9 245.4h0"/>
<path stroke="#a4fc3c" d="M719.0 230.4h0"/>
<path stroke="#8bff4b" d="M719.1 240.3h0"/>
<path stroke="#b1f936" d="M719.2 239.2h0"/>
<path stroke="#a9fb39" d="M719.3 241.0h0"/>
<path stroke="#92ff47" d="M719.5 241.8h0"/>
<path stroke="#cdec34" d="M719.6 233.4h0"/>
<path stroke="#b1f936" d="M719.7 249.0h0"/>
<path stroke="#bef434" d="M719.8 252.7h0"/>
<path stroke="#a9fb39" d="M719.9 254.1h0"/>
<path stroke="#9cfe40" d="M720.1 259.5h0M720.2 262.7h0"/>
<path stroke="#a9fb39" d="M720.3 261.8h0"/>
<path stroke="#8bff4b" d="M720.4 248.5h0"/>
<path stroke="#80ff53" d="M720.5 236.0h0"/>
<path stroke="#d9e436" d="M720.7 223.4h0"/>
<path stroke="#92ff47" d="M720.8 222.7h0"/>
<path stroke="#a4fc3c" d="M720.9 234.1h0"/>
<path stroke="#9cfe40" d="M721.0 223.8h0"/>
<path stroke="#a4fc3c" d="M721.1 223.5h0"/>
<path stroke="#80ff53" d="M721.3 231.7h0"/>
<path stroke="#a4fc3c" d="M721.4 229.8h0"/>
<path stroke="#bef434" d="M721.5 229.4h0M721.6 220.7h0"/>
<path stroke="#75fe5c" d="M721.7 226.2h0"/>
<path stroke="#bef434" d="M721.9 224.0h0M722.0 220.4h0"/>
<path stroke="#a4fc3c" d="M722.1 220.1h0"/>
<path stroke="#92ff47" d="M722.2 225.7h0"/>
<path stroke="#d9e436" d="M722.3 237.0h0"/>
<path stroke="#dfdf37" d="M722.5 226.3h0"/>
<path stroke="#a9fb39" d="M722.6 233.6h0"/>
<path stroke="#6dfe62" d="M722.7 224.5h0"/>
<path stroke="#d9e436" d="M722.8 213.9h0"/>
<path stroke="#b1f936" d="M722.9 213.1h0"/>
<path stroke="#cdec34" d="M723.1 215.4h0"/>
<path stroke="#b9f635" d="M723.2 220.4h0"/>
<path stroke="#92ff47" d="M723.3 226.7h0"/>
<path stroke="#a9fb39" d="M723.4 212.5h0M723.5 229.1h0"/>
<path stroke="#b1f936" d="M723.7 237.8h0"/>
<path stroke="#9cfe40" d="M723.8 244.7h0"/>
<path stroke="#c6f034" d="M723.9 229.4h0"/>
<path stroke="#a9fb39" d="M724.0 235.4h0"/>
<path stroke="#cdec34" d="M724.1 230.6h0"/>
<path stroke="#8bff4b" d="M724.3 228.0h0"/>
<path stroke="#b9f635" d="M724.4 229.9h0"/>
<path stroke="#b1f936" d="M724.5 218.1h0"/>
<path stroke="#8bff4b" d="M724.6 232.4h0"/>
<path stroke="#b1f936" d="M724.7 243.1h0M724.9 250.3h0"/>
<path stroke="#d9e436" d="M725.0 261.8h0"/>
<path stroke="#d2e935" d="M725.1 240.7h0"/>
<path stroke="#b9f635" d="M725.2 238.5h0"/>
<path stroke="#a9fb39" d="M725.3 236.4h0M725.5 224.5h0"/>
<path stroke="#cdec34" d="M725.6 236.4h0"/>
<path stroke="#a4fc3c" d="M725.7 261.0h0"/>
<path stroke="#a9fb39" d="M725.8 246.1h0"/>
<path stroke="#9cfe40" d="M725.9 251.1h0"/>
<path stroke="#55fa76" d="M726.1 249.0h0"/>
<path stroke="#c6f034" d="M726.2 250.2h0"/>
<path stroke="#9cfe40" d="M726.3 248.5h0"/>
<path stroke="#b1f936" d="M726.4 254.1h0"/>
<path stroke="#b9f635" d="M726.5 245.7h0"/>
<path stroke="#92ff47" d="M726.7 242.4h0"/>
<path stroke="#9cfe40" d="M726.8 257.7h0"/>
<path stroke="#bef434" d="M726.9 254.5h0"/>
<path stroke="#dfdf37" d="M727.0 253.0h0"/>
<path stroke="#9cfe40" d="M727.1 232.8h0"/>
<path stroke="#a9fb39" d="M727.3 240.2h0"/>
<path stroke="#a4fc3c" d="M727.4 246.4h0"/>
<path stroke="#8bff4b" d="M727.5 248.2h0"/>
<path stroke="#a9fb39" d="M727.6 262.6h0"/>
<path stroke="#6dfe62" d="M727.7 238.6h0"/>
<path stroke="#9cfe40" d="M727.9 249.4h0"/>
<path stroke="#8bff4b" d="M728.0 232.0h0"/>
<path stroke="#a4fc3c" d="M728.1 224.1h0"/>
<path stroke="#92ff47" d="M728.2 215.2h0"/>
<path stroke="#6dfe62" d="M728.3 223.0h0"/>
<path stroke="#55fa76" d="M728.5 226.4h0"/>
<path stroke="#4099ff" d="M728.5 299.6h0"/>
<path stroke="#43f787" d="M728.6 224.4h0"/>
<path stroke="#4ef97d" d="M728.7 227.6h0"/>
<path stroke="#80ff53" d="M728.8 214.8h0"/>
<path stroke="#22ebaa" d="M728.9 214.0h0"/>
<path stroke="#4099ff" d="M729.0 299.9h0"/>
<path stroke="#55fa76" d="M729.1 218.9h0"/>
<path stroke="#a9fb39" d="M729.2 216.9h0"/>
<path stroke="#6dfe62" d="M729.3 221.2h0"/>
<path stroke="#43f787" d="M729.4 214.7h0"/>
<path stroke="#38f491" d="M729.5 218.0h0"/>
<path stroke="#8bff4b" d="M729.7 220.2h0"/>
<path stroke="#61fc6c" d="M729.8 224.9h0"/>
<path stroke="#43f787" d="M729.9 244.4h0"/>
<path stroke="#2aefa1" d="M730.0 244.2h0"/>
<path stroke="#92ff47" d="M730.2 237.7h0"/>
<path stroke="#1ae4b6" d="M730.3 241.8h0"/>
<path stroke="#6dfe62" d="M730.4 231.0h0"/>
<path stroke="#43f787" d="M730.5 249.3h0"/>
<path stroke="#92ff47" d="M730.6 246.6h0"/>
<path stroke="#4ef97d" d="M730.8 244.5h0"/>
<path stroke="#43f787" d="M730.9 249.7h0"/>
<path stroke="#8bff4b" d="M731.0 234.9h0"/>
<path stroke="#18d7ca" d="M731.1 236.9h0"/>
<path stroke="#4ef97d" d="M731.2 234.2h0"/>
<path stroke="#61fc6c" d="M731.4 256.7h0"/>
<path stroke="#2eb4f2" d="M731.5 266.1h0"/>
<path stroke="#22ebaa" d="M731.5 289.6h0"/>
<path stroke="#18d7ca" d="M731.6 276.0h0M731.7 272.2h0"/>
<path stroke="#18ddc2" d="M731.8 268.0h0"/>
<path stroke="#38f491" d="M731.9 289.7h0"/>
<path stroke="#1fe9af" d="M732.0 272.2h0"/>
<path stroke="#18e0bd" d="M732.1 259.2h0"/>
<path stroke="#38f491" d="M732.2 246.5h0"/>
<path stroke="#1ae4b6" d="M732.3 259.0h0"/>
<path stroke="#20c7df" d="M732.4 261.4h0"/>
<path stroke="#37a8fa" d="M732.6 261.4h0"/>
<path stroke="#28bceb" d="M732.7 240.7h0"/>
<path stroke="#18d7ca" d="M732.8 236.7h0"/>
<path stroke="#20c7df" d="M732.9 232.3h0"/>
<path stroke="#1ae4b6" d="M733.0 227.3h0"/>
<path stroke="#1ad2d2" d="M733.2 233.2h0"/>
<path stroke="#33adf7" d="M733.3 226.1h0"/>
<path stroke="#1ccdd8" d="M733.4 218.9h0"/>
<path stroke="#18d7ca" d="M733.5 241.1h0"/>
<path stroke="#80ff53" d="M733.6 245.9h0"/>
<path stroke="#2aefa1" d="M733.8 234.3h0"/>
<path stroke="#1ad2d2" d="M733.9 257.5h0"/>
<path stroke="#18e0bd" d="M734.0 259.8h0"/>
<path stroke="#32f298" d="M734.1 259.5h0"/>
<path stroke="#2eb4f2" d="M734.2 229.1h0"/>
<path stroke="#38f491" d="M734.4 247.2h0"/>
<path stroke="#25c0e7" d="M734.5 246.9h0"/>
<path stroke="#18e0bd" d="M734.6 258.5h0"/>
<path stroke="#38f491" d="M734.7 271.8h0"/>
<path stroke="#1ad2d2" d="M734.8 253.7h0"/>
<path stroke="#18e0bd" d="M735.0 270.6h0"/>
<path stroke="#33adf7" d="M735.1 274.4h0"/>
<path stroke="#2aefa1" d="M735.2 268.5h0M735.3 243.5h0"/>
<path stroke="#43f787" d="M735.4 262.2h0"/>
<path stroke="#32f298" d="M735.6 262.1h0"/>
<path stroke="#1ad2d2" d="M735.7 265.3h0"/>
<path stroke="#33adf7" d="M735.8 250.7h0"/>
<path stroke="#28bceb" d="M735.9 255.1h0"/>
<path stroke="#37a8fa" d="M736.0 258.5h0"/>
<path stroke="#22ebaa" d="M736.2 270.7h0"/>
<path stroke="#4099ff" d="M736.3 256.7h0M736.4 234.4h0"/>
<path stroke="#2eb4f2" d="M736.5 231.7h0"/>
<path stroke="#4099ff" d="M736.6 226.2h0"/>
<path stroke="#28bceb" d="M736.8 232.8h0"/>
<path stroke="#32f298" d="M736.9 234.1h0"/>
<path stroke="#20c7df" d="M737.0 238.6h0"/>
<path stroke="#18ddc2" d="M737.1 252.2h0"/>
<path stroke="#20c7df" d="M737.2 267.5h0"/>
<path stroke="#1ad2d2" d="M737.4 264.2h0"/>
<path stroke="#1ae4b6" d="M737.5 246.1h0"/>
<path stroke="#18e0bd" d="M737.6 246.6h0"/>
<path stroke="#1ad2d2" d="M737.7 245.5h0"/>
<path stroke="#37a8fa" d="M737.8 243.9h0"/>
<path stroke="#4685fa" d="M738.0 242.9h0"/>
<path stroke="#37a8fa" d="M738.1 245.3h0"/>
<path stroke="#2eb4f2" d="M738.2 224.0h0"/>
<path stroke="#1ad2d2" d="M738.3 233.9h0"/>
<path stroke="#33adf7" d="M738.4 241.9h0"/>
<path stroke="#4294ff" d="M738.6 245.5h0"/>
<path stroke="#4685fa" d="M738.7 245.6h0"/>
<path stroke="#28bceb" d="M738.8 253.4h0"/>
<path stroke="#4685fa" d="M738.9 237.1h0"/>
<path stroke="#455ccf" d="M739.0 237.8h0"/>
<path stroke="#4146ac" d="M739.2 245.0h0"/>
<path stroke="#466be3" d="M739.3 240.6h0"/>
<path stroke="#37a8fa" d="M739.4 240.9h0"/>
<path stroke="#3ba0fd" d="M739.5 251.6h0"/>
<path stroke="#33adf7" d="M739.6 248.1h0"/>
<path stroke="#4685fa" d="M739.8 241.2h0M739.9 237.1h0"/>
<path stroke="#37a8fa" d="M740.0 242.0h0"/>
<path stroke="#33adf7" d="M740.1 234.7h0"/>
<path stroke="#4664da" d="M740.2 235.9h0"/>
<path stroke="#30123b" d="M740.4 234.2h0"/>
<path stroke="#455ccf" d="M740.5 238.0h0"/>
<path stroke="#4146ac" d="M740.6 246.2h0"/>
<path stroke="#33adf7" d="M740.7 253.2h0"/>
<path stroke="#4685fa" d="M740.8 252.9h0"/>
<path stroke="#4664da" d="M741.0 254.4h0"/>
<path stroke="#434eba" d="M741.1 259.7h0"/>
<path stroke="#3ba0fd" d="M741.2 251.6h0"/>
<path stroke="#20c7df" d="M741.3 251.4h0"/>
<path stroke="#4664da" d="M741.4 241.3h0"/>
<path stroke="#25c0e7" d="M741.6 253.9h0"/>
<path stroke="#37a8fa" d="M741.7 255.3h0"/>
<path stroke="#18d7ca" d="M741.8 241.5h0"/>
<path stroke="#43f787" d="M741.9 240.5h0"/>
<path stroke="#4099ff" d="M742.1 248.1h0"/>
<path stroke="#18d7ca" d="M742.2 252.2h0"/>
<path stroke="#4ef97d" d="M742.3 237.2h0"/>
<path stroke="#1ccdd8" d="M742.4 256.5h0"/>
<path stroke="#28bceb" d="M742.5 257.9h0"/>
<path stroke="#3ba0fd" d="M742.7 259.3h0"/>
<path stroke="#4099ff" d="M742.8 294.1h0"/>
<path stroke="#18ddc2" d="M742.8 255.1h0"/>
<path stroke="#2aefa1" d="M742.9 248.3h0"/>
<path stroke="#18d7ca" d="M743.0 236.0h0"/>
<path stroke="#4ef97d" d="M743.1 240.5h0"/>
<path stroke="#1ad2d2" d="M743.3 244.0h0"/>
<path stroke="#18e0bd" d="M743.4 244.8h0"/>
<path stroke="#43f787" d="M743.5 253.3h0"/>
<path stroke="#55fa76" d="M743.6 257.2h0"/>
<path stroke="#8bff4b" d="M743.7 246.9h0M743.9 246.5h0"/>
<path stroke="#55fa76" d="M744.0 258.2h0"/>
<path stroke="#6dfe62" d="M744.1 245.6h0"/>
<path stroke="#b9f635" d="M744.2 267.7h0"/>
<path stroke="#a4fc3c" d="M744.3 260.5h0"/>
<path stroke="#c6f034" d="M744.5 284.1h0"/>
<path stroke="#b1f936" d="M744.6 283.4h0"/>
<path stroke="#dfdf37" d="M744.7 263.1h0"/>
<path stroke="#d9e436" d="M744.8 267.8h0"/>
<path stroke="#c6f034" d="M744.9 267.1h0"/>
<path stroke="#a9fb39" d="M745.1 261.4h0"/>
<path stroke="#dfdf37" d="M745.2 261.3h0"/>
<path stroke="#cdec34" d="M745.3 262.3h0"/>
<path stroke="#bef434" d="M745.4 234.2h0"/>
<path stroke="#e9d539" d="M745.5 246.0h0"/>
<path stroke="#dfdf37" d="M745.7 246.4h0M745.8 249.0h0"/>
<path stroke="#c6f034" d="M745.9 257.8h0"/>
<path stroke="#d2e935" d="M746.0 259.2h0M746.1 248.2h0"/>
<path stroke="#cdec34" d="M746.3 259.0h0"/>
<path stroke="#d9e436" d="M746.4 254.6h0"/>
<path stroke="#bef434" d="M746.5 259.4h0"/>
<path stroke="#eecf3a" d="M746.6 251.9h0"/>
<path stroke="#d2e935" d="M746.7 254.1h0"/>
<path stroke="#e3db38" d="M746.9 244.5h0"/>
<path stroke="#f5c53a" d="M747.0 262.7h0"/>
<path stroke="#faba39" d="M747.1 252.6h0"/>
<path stroke="#d9e436" d="M747.2 263.6h0M747.3 245.8h0"/>
<path stroke="#f1cb3a" d="M747.5 252.2h0"/>
<path stroke="#e9d539" d="M747.6 250.8h0"/>
<path stroke="#f8be39" d="M747.7 262.3h0"/>
<path stroke="#d9e436" d="M747.8 264.6h0"/>
<path stroke="#f8be39" d="M747.9 284.0h0"/>
<path stroke="#eecf3a" d="M748.1 293.5h0"/>
<path stroke="#e3db38" d="M748.2 291.9h0"/>
<path stroke="#bef434" d="M748.3 293.1h0"/>
<path stroke="#dfdf37" d="M748.4 279.0h0M748.5 265.5h0"/>
<path stroke="#bef434" d="M748.7 265.7h0"/>
<path stroke="#e9d539" d="M748.8 273.1h0"/>
<path stroke="#cdec34" d="M748.9 277.1h0"/>
<path stroke="#d2e935" d="M749.0 272.4h0"/>
<path stroke="#dfdf37" d="M749.1 281.0h0"/>
<path stroke="#eecf3a" d="M749.3 266.7h0"/>
<path stroke="#f8be39" d="M749.4 258.0h0"/>
<path stroke="#eecf3a" d="M749.5 256.5h0"/>
<path stroke="#e9d539" d="M749.6 242.8h0"/>
<path stroke="#e3db38" d="M749.7 258.8h0"/>
<path stroke="#bef434" d="M749.9 258.6h0"/>
<path stroke="#d2e935" d="M750.0 255.9h0"/>
<path stroke="#dfdf37" d="M750.1 261.5h0"/>
<path stroke="#e3db38" d="M750.2 250.0h0"/>
<path stroke="#d2e935" d="M750.3 250.8h0"/>
<path stroke="#eecf3a" d="M750.5 237.1h0"/>
<path stroke="#f1cb3a" d="M750.6 242.1h0"/>
<path stroke="#cdec34" d="M750.7 247.4h0"/>
<path stroke="#e9d539" d="M750.8 265.2h0"/>
<path stroke="#e3db38" d="M750.9 266.3h0"/>
<path stroke="#f5c53a" d="M751.1 277.9h0"/>
<path stroke="#eecf3a" d="M751.2 275.2h0M751.3 257.6h0"/>
<path stroke="#e9d539" d="M751.4 266.1h0"/>
<path stroke="#f1cb3a" d="M751.5 265.6h0"/>
<path stroke="#d9e436" d="M751.7 260.8h0"/>
<path stroke="#eecf3a" d="M751.8 267.8h0"/>
<path stroke="#c6f034" d="M751.9 257.1h0"/>
<path stroke="#92ff47" d="M752.0 253.5h0"/>
<path stroke="#b1f936" d="M752.1 262.0h0"/>
<path stroke="#c6f034" d="M752.3 269.5h0"/>
<path stroke="#6dfe62" d="M752.4 261.4h0"/>
<path stroke="#55fa76" d="M752.5 264.0h0"/>
<path stroke="#8bff4b" d="M752.6 262.8h0"/>
<path stroke="#c6f034" d="M752.7 268.0h0"/>
<path stroke="#9cfe40" d="M752.9 263.1h0"/>
<path stroke="#22ebaa" d="M753.0 243.1h0"/>
<path stroke="#80ff53" d="M753.1 243.0h0"/>
<path stroke="#43f787" d="M753.2 259.5h0"/>
<path stroke="#1fe9af" d="M753.3 249.9h0"/>
<path stroke="#2aefa1" d="M753.5 249.6h0"/>
<path stroke="#80ff53" d="M753.6 257.6h0"/>
<path stroke="#1ad2d2" d="M753.7 255.8h0"/>
<path stroke="#18ddc2" d="M753.8 245.8h0"/>
<path stroke="#458cfd" d="M754.0 247.6h0"/>
<path stroke="#1ae4b6" d="M754.1 247.8h0"/>
<path stroke="#1ccdd8" d="M754.2 241.2h0"/>
<path stroke="#25c0e7" d="M754.3 242.0h0"/>
<path stroke="#28bceb" d="M754.4 232.1h0"/>
<path stroke="#466be3" d="M754.6 227.4h0"/>
<path stroke="#4294ff" d="M754.7 228.0h0"/>
<path stroke="#4099ff" d="M754.8 229.2h0"/>
<path stroke="#4778f0" d="M754.9 230.0h0"/>
<path stroke="#28bceb" d="M755.0 230.1h0"/>
<path stroke="#1ccdd8" d="M755.2 242.9h0"/>
<path stroke="#4685fa" d="M755.3 250.6h0"/>
<path stroke="#25c0e7" d="M755.4 251.8h0"/>
<path stroke="#28bceb" d="M755.5 259.8h0"/>
<path stroke="#37a8fa" d="M755.6 271.2h0"/>
<path stroke="#33adf7" d="M755.8 273.1h0"/>
<path stroke="#37a8fa" d="M755.9 264.0h0"/>
<path stroke="#4294ff" d="M756.0 268.2h0"/>
<path stroke="#466be3" d="M756.1 275.5h0"/>
<path stroke="#4778f0" d="M756.2 274.3h0"/>
<path stroke="#4099ff" d="M756.4 269.7h0"/>
<path stroke="#33adf7" d="M756.5 267.2h0"/>
<path stroke="#4771e9" d="M756.6 267.3h0"/>
<path stroke="#4294ff" d="M756.7 248.6h0"/>
<path stroke="#2eb4f2" d="M756.8 262.2h0"/>
<path stroke="#25c0e7" d="M757.0 261.8h0"/>
<path stroke="#33adf7" d="M757.1 276.1h0"/>
<path stroke="#3ba0fd" d="M757.2 270.9h0"/>
<path stroke="#1ad2d2" d="M757.3 260.4h0"/>
<path stroke="#4680f6" d="M757.4 265.6h0"/>
<path stroke="#20c7df" d="M757.6 264.3h0"/>
<path stroke="#33adf7" d="M757.7 268.9h0"/>
<path stroke="#22ebaa" d="M757.8 261.1h0"/>
<path stroke="#3ba0fd" d="M757.9 254.5h0"/>
<path stroke="#1ad2d2" d="M758.0 248.6h0"/>
<path stroke="#22ebaa" d="M758.2 244.5h0"/>
<path stroke="#3ba0fd" d="M758.3 247.7h0"/>
<path stroke="#37a8fa" d="M758.4 238.1h0"/>
<path stroke="#28bceb" d="M758.5 241.0h0"/>
<path stroke="#37a8fa" d="M758.6 252.9h0"/>
<path stroke="#4771e9" d="M758.8 244.2h0"/>
<path stroke="#4685fa" d="M758.9 244.3h0"/>
<path stroke="#33adf7" d="M759.0 236.9h0"/>
<path stroke="#4099ff" d="M759.1 236.3h0"/>
<path stroke="#466be3" d="M759.2 239.8h0"/>
<path stroke="#4664da" d="M759.4 248.3h0"/>
<path stroke="#4778f0" d="M759.5 255.2h0"/>
<path stroke="#4680f6" d="M759.6 247.3h0"/>
<path stroke="#458cfd" d="M759.7 254.1h0"/>
<path stroke="#4685fa" d="M759.8 246.3h0"/>
<path stroke="#28bceb" d="M760.0 238.9h0"/>
<path stroke="#37a8fa" d="M760.1 232.5h0"/>
<path stroke="#4099ff" d="M760.2 221.6h0"/>
<path stroke="#466be3" d="M760.3 224.2h0"/>
<path stroke="#33adf7" d="M760.4 221.4h0"/>
<path stroke="#4680f6" d="M760.6 222.5h0M760.7 249.0h0"/>
<path stroke="#3e3891" d="M760.8 239.9h0"/>
<path stroke="#4294ff" d="M760.9 225.4h0"/>
<path stroke="#4146ac" d="M761.0 231.4h0"/>
<path stroke="#455ccf" d="M761.2 226.4h0"/>
<path stroke="#4294ff" d="M761.3 229.8h0"/>
<path stroke="#4778f0" d="M761.4 232.9h0"/>
<path stroke="#4456c7" d="M761.5 237.4h0"/>
<path stroke="#4099ff" d="M761.6 257.4h0"/>
<path stroke="#3ba0fd" d="M761.8 257.2h0"/>
<path stroke="#4685fa" d="M761.9 256.6h0M762.0 254.0h0"/>
<path stroke="#434eba" d="M762.1 246.9h0"/>
<path stroke="#4685fa" d="M762.2 242.1h0"/>
<path stroke="#4664da" d="M762.4 233.4h0"/>
<path stroke="#4040a2" d="M762.5 242.7h0"/>
<path stroke="#4771e9" d="M762.6 242.0h0"/>
<path stroke="#4664da" d="M762.7 248.3h0M762.8 249.6h0"/>
<path stroke="#466be3" d="M763.0 267.2h0"/>
<path stroke="#4664da" d="M763.1 263.0h0"/>
<path stroke="#4778f0" d="M763.2 265.2h0"/>
<path stroke="#4664da" d="M763.3 256.8h0"/>
<path stroke="#4778f0" d="M763.4 263.8h0"/>
<path stroke="#4771e9" d="M763.6 258.0h0"/>
<path stroke="#458cfd" d="M763.7 257.1h0"/>
<path stroke="#4680f6" d="M763.8 243.3h0"/>
<path stroke="#4294ff" d="M763.9 248.2h0"/>
<path stroke="#2eb4f2" d="M764.0 262.7h0"/>
<path stroke="#458cfd" d="M764.2 269.9h0"/>
<path stroke="#4099ff" d="M764.3 257.2h0"/>
<path stroke="#4771e9" d="M764.4 261.5h0"/>
<path stroke="#4680f6" d="M764.5 252.9h0"/>
<path stroke="#4294ff" d="M764.6 238.2h0"/>
<path stroke="#37a8fa" d="M764.8 229.6h0"/>
<path stroke="#4778f0" d="M764.9 243.3h0"/>
<path stroke="#4294ff" d="M765.0 241.6h0"/>
<path stroke="#28bceb" d="M765.1 233.3h0"/>
<path stroke="#4664da" d="M765.2 238.3h0"/>
<path stroke="#4099ff" d="M765.4 242.0h0"/>
<path stroke="#4685fa" d="M765.5 240.2h0"/>
<path stroke="#28bceb" d="M765.6 248.1h0"/>
<path stroke="#4685fa" d="M765.7 246.7h0"/>
<path stroke="#466be3" d="M765.9 256.7h0"/>
<path stroke="#37a8fa" d="M766.0 263.6h0"/>
<path stroke="#3ba0fd" d="M766.1 262.4h0"/>
<path stroke="#4778f0" d="M766.2 263.1h0"/>
<path stroke="#3ba0fd" d="M766.3 269.4h0"/>
<path stroke="#466be3" d="M766.5 267.3h0"/>
<path stroke="#4771e9" d="M766.6 269.1h0"/>
<path stroke="#466be3" d="M766.7 266.0h0"/>
<path stroke="#434eba" d="M766.8 263.1h0"/>
<path stroke="#458cfd" d="M766.9 247.1h0"/>
<path stroke="#4680f6" d="M767.1 240.8h0"/>
<path stroke="#18d7ca" d="M767.2 238.7h0"/>
<path stroke="#4778f0" d="M767.3 243.8h0"/>
<path stroke="#4099ff" d="M767.4 268.7h0"/>
<path stroke="#4456c7" d="M767.5 261.1h0"/>
<path stroke="#3ba0fd" d="M767.7 258.8h0"/>
<path stroke="#4294ff" d="M767.8 250.6h0"/>
<path stroke="#4099ff" d="M767.9 251.7h0"/>
<path stroke="#3ba0fd" d="M768.0 252.9h0"/>
<path stroke="#458cfd" d="M768.1 262.8h0"/>
<path stroke="#455ccf" d="M768.3 254.0h0"/>
<path stroke="#33adf7" d="M768.4 262.1h0"/>
<path stroke="#3ba0fd" d="M768.5 266.2h0"/>
<path stroke="#4685fa" d="M768.6 268.1h0"/>
<path stroke="#18d7ca" d="M768.7 261.2h0"/>
<path stroke="#37a8fa" d="M768.9 258.2h0"/>
<path stroke="#18d7ca" d="M769.0 263.5h0M769.1 270.9h0"/>
<path stroke="#28bceb" d="M769.2 275.5h0"/>
<path stroke="#1ccdd8" d="M769.3 274.1h0"/>
<path stroke="#20c7df" d="M769.5 278.0h0"/>
<path stroke="#25c0e7" d="M769.6 274.9h0"/>
<path stroke="#1ccdd8" d="M769.7 284.8h0"/>
<path stroke="#32f298" d="M769.8 303.7h0"/>
<path stroke="#18d7ca" d="M769.9 299.5h0"/>
<path stroke="#2aefa1" d="M770.1 303.8h0"/>
<path stroke="#1ae4b6" d="M770.2 298.3h0"/>
<path stroke="#20c7df" d="M770.3 299.6h0"/>
<path stroke="#22ebaa" d="M770.4 304.4h0"/>
<path stroke="#32f298" d="M770.5 310.3h0M770.7 310.5h0"/>
<path stroke="#38f491" d="M770.8 317.7h0M770.9 314.0h0"/>
<path stroke="#22ebaa" d="M771.0 315.5h0"/>
<path stroke="#4ef97d" d="M771.1 318.4h0"/>
<path stroke="#8bff4b" d="M771.3 323.1h0"/>
<path stroke="#2aefa1" d="M771.4 324.8h0"/>
<path stroke="#32f298" d="M771.5 334.1h0"/>
<path stroke="#4ef97d" d="M771.6 336.1h0"/>
<path stroke="#43f787" d="M771.7 340.7h0"/>
<path stroke="#2aefa1" d="M771.9 343.8h0"/>
<path stroke="#61fc6c" d="M772.0 349.1h0"/>
<path stroke="#32f298" d="M772.1 353.4h0"/>
<path stroke="#43f787" d="M772.2 355.4h0"/>
<path stroke="#22ebaa" d="M772.3 358.3h0"/>
<path stroke="#61fc6c" d="M772.5 354.9h0"/>
<path stroke="#6dfe62" d="M772.6 353.7h0"/>
<path stroke="#2aefa1" d="M772.7 355.6h0"/>
<path stroke="#4ef97d" d="M772.8 357.3h0"/>
<path stroke="#38f491" d="M772.9 354.1h0"/>
<path stroke="#2aefa1" d="M773.1 351.8h0"/>
<path stroke="#9cfe40" d="M773.2 355.6h0"/>
<path stroke="#80ff53" d="M773.3 351.0h0"/>
<path stroke="#18e0bd" d="M773.4 347.4h0"/>
<path stroke="#6dfe62" d="M773.5 349.0h0"/>
<path stroke="#55fa76" d="M773.7 350.8h0"/>
<path stroke="#a4fc3c" d="M773.8 354.4h0"/>
<path stroke="#6dfe62" d="M773.9 357.4h0"/>
<path stroke="#75fe5c" d="M774.0 356.4h0"/>
<path stroke="#22ebaa" d="M774.1 348.5h0"/>
<path stroke="#32f298" d="M774.3 343.3h0"/>
<path stroke="#38f491" d="M774.4 342.4h0"/>
<path stroke="#18e0bd" d="M774.5 345.0h0"/>
<path stroke="#6dfe62" d="M774.6 344.8h0"/>
<path stroke="#22ebaa" d="M774.7 347.7h0"/>
<path stroke="#43f787" d="M774.9 341.1h0"/>
<path stroke="#6dfe62" d="M775.0 337.1h0"/>
<path stroke="#25c0e7" d="M775.1 328.5h0"/>
<path stroke="#1fe9af" d="M775.2 344.0h0"/>
<path stroke="#20c7df" d="M775.3 341.8h0"/>
<path stroke="#1ccdd8" d="M775.5 347.1h0"/>
<path stroke="#20c7df" d="M775.6 354.0h0"/>
<path stroke="#22ebaa" d="M775.7 353.9h0"/>
<path stroke="#33adf7" d="M775.8 348.7h0"/>
<path stroke="#18d7ca" d="M775.9 339.6h0"/>
<path stroke="#1ccdd8" d="M776.1 336.1h0"/>
<path stroke="#2eb4f2" d="M776.2 319.1h0"/>
<path stroke="#1ccdd8" d="M776.3 315.8h0"/>
<path stroke="#20c7df" d="M776.4 326.1h0"/>
<path stroke="#1ad2d2" d="M776.5 328.9h0"/>
<path stroke="#4ef97d" d="M776.7 336.9h0"/>
<path stroke="#33adf7" d="M776.8 343.6h0"/>
<path stroke="#25c0e7" d="M776.9 347.1h0"/>
<path stroke="#2eb4f2" d="M777.0 344.8h0"/>
<path stroke="#55fa76" d="M777.1 343.6h0"/>
<path stroke="#4099ff" d="M777.3 348.5h0"/>
<path stroke="#25c0e7" d="M777.4 342.6h0"/>
<path stroke="#2aefa1" d="M777.5 326.9h0M777.6 334.4h0"/>
<path stroke="#33adf7" d="M777.8 333.8h0"/>
<path stroke="#43f787" d="M777.9 341.9h0"/>
<path stroke="#25c0e7" d="M778.0 333.5h0M778.1 316.9h0"/>
<path stroke="#75fe5c" d="M778.2 316.5h0"/>
<path stroke="#55fa76" d="M778.4 312.4h0"/>
<path stroke="#38f491" d="M778.5 307.7h0"/>
<path stroke="#18e0bd" d="M778.6 324.2h0M778.7 328.5h0"/>
<path stroke="#3ba0fd" d="M778.8 315.8h0"/>
<path stroke="#4ef97d" d="M779.0 303.0h0"/>
<path stroke="#466be3" d="M779.1 307.2h0"/>
<path stroke="#1ae4b6" d="M779.2 314.8h0"/>
<path stroke="#4ef97d" d="M779.3 321.1h0"/>
<path stroke="#18d7ca" d="M779.4 332.1h0"/>
<path stroke="#18e0bd" d="M779.6 333.1h0"/>
<path stroke="#32f298" d="M779.7 336.6h0"/>
<path stroke="#92ff47" d="M779.8 315.5h0"/>
<path stroke="#6dfe62" d="M779.9 330.2h0"/>
<path stroke="#8bff4b" d="M780.0 323.1h0"/>
<path stroke="#2aefa1" d="M780.2 332.0h0"/>
<path stroke="#55fa76" d="M780.3 315.7h0"/>
<path stroke="#75fe5c" d="M780.4 308.7h0"/>
<path stroke="#bef434" d="M780.5 322.2h0"/>
<path stroke="#1ae4b6" d="M780.6 312.1h0"/>
<path stroke="#55fa76" d="M780.8 315.1h0"/>
<path stroke="#1fe9af" d="M780.9 312.8h0"/>
<path stroke="#18d7ca" d="M781.0 330.0h0"/>
<path stroke="#8bff4b" d="M781.1 331.1h0"/>
<path stroke="#1ad2d2" d="M781.2 342.5h0"/>
<path stroke="#32f298" d="M781.4 337.4h0"/>
<path stroke="#22ebaa" d="M781.5 318.0h0"/>
<path stroke="#32f298" d="M781.6 337.3h0"/>
<path stroke="#1ccdd8" d="M781.7 329.2h0"/>
<path stroke="#20c7df" d="M781.8 327.5h0"/>
<path stroke="#b1f936" d="M782.0 325.9h0"/>
<path stroke="#75fe5c" d="M782.1 310.9h0"/>
<path stroke="#32f298" d="M782.2 319.4h0"/>
<path stroke="#1fe9af" d="M782.3 315.9h0"/>
<path stroke="#55fa76" d="M782.4 301.8h0"/>
<path stroke="#43f787" d="M782.6 292.4h0"/>
<path stroke="#2aefa1" d="M782.7 289.3h0"/>
<path stroke="#8bff4b" d="M782.8 289.2h0"/>
<path stroke="#61fc6c" d="M782.9 288.6h0"/>
<path stroke="#43f787" d="M783.0 289.3h0"/>
<path stroke="#32f298" d="M783.2 290.6h0"/>
<path stroke="#1fe9af" d="M783.3 292.3h0"/>
<path stroke="#6dfe62" d="M783.4 301.7h0"/>
<path stroke="#61fc6c" d="M783.5 305.0h0"/>
<path stroke="#20c7df" d="M783.6 304.5h0"/>
<path stroke="#55fa76" d="M783.8 300.0h0"/>
<path stroke="#18e0bd" d="M783.9 293.5h0M784.0 289.6h0"/>
<path stroke="#38f491" d="M784.1 298.5h0"/>
<path stroke="#1fe9af" d="M784.2 296.9h0"/>
<path stroke="#2aefa1" d="M784.4 313.7h0"/>
<path stroke="#25c0e7" d="M784.5 320.4h0"/>
<path stroke="#55fa76" d="M784.6 306.6h0"/>
<path stroke="#2aefa1" d="M784.7 311.1h0"/>
<path stroke="#80ff53" d="M784.8 323.4h0"/>
<path stroke="#55fa76" d="M785.0 315.0h0"/>
<path stroke="#4ef97d" d="M785.1 325.3h0"/>
<path stroke="#8bff4b" d="M785.2 316.6h0"/>
<path stroke="#61fc6c" d="M785.3 329.2h0"/>
<path stroke="#38f491" d="M785.4 332.6h0"/>
<path stroke="#61fc6c" d="M785.6 326.3h0"/>
<path stroke="#9cfe40" d="M785.7 310.4h0"/>
<path stroke="#32f298" d="M785.8 309.9h0M785.9 304.7h0"/>
<path stroke="#55fa76" d="M786.0 310.6h0"/>
<path stroke="#25c0e7" d="M786.2 304.1h0"/>
<path stroke="#43f787" d="M786.3 311.6h0"/>
<path stroke="#2aefa1" d="M786.4 308.6h0"/>
<path stroke="#55fa76" d="M786.5 315.3h0"/>
<path stroke="#1ad2d2" d="M786.6 323.4h0"/>
<path stroke="#8bff4b" d="M786.8 323.2h0"/>
<path stroke="#61fc6c" d="M786.9 325.8h0"/>
<path stroke="#1fe9af" d="M787.0 334.7h0"/>
<path stroke="#8bff4b" d="M787.1 323.9h0"/>
<path stroke="#38f491" d="M787.2 327.1h0"/>
<path stroke="#18e0bd" d="M787.4 328.7h0"/>
<path stroke="#18ddc2" d="M787.5 340.2h0"/>
<path stroke="#38f491" d="M787.6 334.2h0"/>
<path stroke="#2aefa1" d="M787.7 338.6h0"/>
<path stroke="#38f491" d="M787.8 321.1h0"/>
<path stroke="#22ebaa" d="M788.0 331.4h0"/>
<path stroke="#55fa76" d="M788.1 334.0h0"/>
<path stroke="#75fe5c" d="M788.2 333.6h0"/>
<path stroke="#1fe9af" d="M788.3 339.8h0"/>
<path stroke="#8bff4b" d="M788.4 325.8h0"/>
<path stroke="#22ebaa" d="M788.6 322.4h0"/>
<path stroke="#6dfe62" d="M788.7 322.8h0M788.8 319.8h0"/>
<path stroke="#38f491" d="M788.9 316.5h0"/>
<path stroke="#2aefa1" d="M789.0 325.6h0"/>
<path stroke="#18ddc2" d="M789.2 325.4h0"/>
<path stroke="#a4fc3c" d="M789.3 322.8h0"/>
<path stroke="#18d7ca" d="M789.4 323.4h0"/>
<path stroke="#43f787" d="M789.5 335.7h0M789.7 347.1h0"/>
<path stroke="#80ff53" d="M789.8 346.9h0"/>
<path stroke="#6dfe62" d="M789.9 347.0h0"/>
<path stroke="#2aefa1" d="M790.0 334.9h0"/>
<path stroke="#1ae4b6" d="M790.1 327.6h0"/>
<path stroke="#a9fb39" d="M790.3 319.5h0"/>
<path stroke="#2aefa1" d="M790.4 312.6h0"/>
<path stroke="#1ae4b6" d="M790.5 324.8h0"/>
<path stroke="#92ff47" d="M790.6 319.2h0"/>
<path stroke="#22ebaa" d="M790.7 333.0h0"/>
<path stroke="#18d7ca" d="M790.9 331.6h0"/>
<path stroke="#4ef97d" d="M791.0 330.9h0"/>
<path stroke="#2aefa1" d="M791.1 327.0h0"/>
<path stroke="#28bceb" d="M791.2 315.3h0"/>
<path stroke="#1fe9af" d="M791.3 314.3h0"/>
<path stroke="#38f491" d="M791.5 323.6h0"/>
<path stroke="#1ccdd8" d="M791.6 331.5h0"/>
<path stroke="#2aefa1" d="M791.7 331.0h0"/>
<path stroke="#61fc6c" d="M791.8 336.7h0"/>
<path stroke="#1ae4b6" d="M791.9 336.6h0"/>
<path stroke="#18ddc2" d="M792.1 339.3h0"/>
<path stroke="#18d7ca" d="M792.2 352.2h0"/>
<path stroke="#55fa76" d="M792.3 352.6h0"/>
<path stroke="#2aefa1" d="M792.4 334.6h0"/>
<path stroke="#38f491" d="M792.5 316.9h0"/>
<path stroke="#2aefa1" d="M792.7 316.4h0"/>
<path stroke="#1ad2d2" d="M792.8 321.2h0"/>
<path stroke="#43f787" d="M792.9 331.1h0"/>
<path stroke="#75fe5c" d="M793.0 331.7h0"/>
<path stroke="#2eb4f2" d="M793.1 334.1h0"/>
<path stroke="#1fe9af" d="M793.3 336.5h0M793.4 331.7h0"/>
<path stroke="#2aefa1" d="M793.5 332.3h0"/>
<path stroke="#38f491" d="M793.6 334.5h0"/>
<path stroke="#80ff53" d="M793.7 333.7h0"/>
<path stroke="#9cfe40" d="M793.9 330.9h0"/>
<path stroke="#43f787" d="M794.0 335.2h0"/>
<path stroke="#2aefa1" d="M794.1 341.5h0"/>
<path stroke="#80ff53" d="M794.2 341.1h0"/>
<path stroke="#38f491" d="M794.3 331.3h0"/>
<path stroke="#32f298" d="M794.5 330.2h0"/>
<path stroke="#6dfe62" d="M794.6 330.6h0"/>
<path stroke="#80ff53" d="M794.7 336.6h0"/>
<path stroke="#75fe5c" d="M794.8 333.1h0"/>
<path stroke="#80ff53" d="M794.9 333.3h0"/>
<path stroke="#1ae4b6" d="M795.1 335.5h0"/>
<path stroke="#43f787" d="M795.2 338.6h0"/>
<path stroke="#61fc6c" d="M795.3 337.9h0"/>
<path stroke="#9cfe40" d="M795.4 331.7h0"/>
<path stroke="#4ef97d" d="M795.5 326.7h0"/>
<path stroke="#8bff4b" d="M795.7 328.9h0"/>
<path stroke="#75fe5c" d="M795.8 327.1h0"/>
<path stroke="#92ff47" d="M795.9 324.9h0"/>
<path stroke="#80ff53" d="M796.0 325.9h0"/>
<path stroke="#a9fb39" d="M796.1 325.4h0"/>
<path stroke="#80ff53" d="M796.3 325.4h0"/>
<path stroke="#b1f936" d="M796.4 321.5h0"/>
<path stroke="#92ff47" d="M796.5 318.6h0"/>
<path stroke="#a9fb39" d="M796.6 319.0h0"/>
<path stroke="#92ff47" d="M796.7 319.1h0"/>
<path stroke="#9cfe40" d="M796.9 315.8h0"/>
<path stroke="#b9f635" d="M797.0 319.2h0"/>
<path stroke="#8bff4b" d="M797.1 314.9h0"/>
<path stroke="#b1f936" d="M797.2 315.7h0M797.3 313.2h0"/>
<path stroke="#cdec34" d="M797.5 312.3h0"/>
<path stroke="#bef434" d="M797.6 309.5h0"/>
<path stroke="#d9e436" d="M797.7 309.5h0"/>
<path stroke="#bef434" d="M797.8 310.4h0"/>
<path stroke="#d2e935" d="M797.9 309.1h0"/>
<path stroke="#d9e436" d="M798.1 307.8h0M798.2 308.6h0M798.3 306.7h0"/>
<path stroke="#cdec34" d="M798.4 307.0h0M798.5 306.0h0"/>
<path stroke="#e9d539" d="M798.7 307.4h0"/>
<path stroke="#e3db38" d="M798.8 305.2h0M798.9 304.0h0"/>
<path stroke="#dfdf37" d="M799.0 304.8h0"/>
<path stroke="#e3db38" d="M799.1 305.6h0"/>
<path stroke="#e9d539" d="M799.3 305.2h0"/>
<path stroke="#dfdf37" d="M799.4 305.5h0"/>
<path stroke="#eecf3a" d="M799.5 304.2h0"/>
<path stroke="#d9e436" d="M799.6 304.0h0"/>
<path stroke="#eecf3a" d="M799.7 305.2h0"/>
<path stroke="#e3db38" d="M799.9 304.4h0"/>
<path stroke="#dfdf37" d="M800.0 302.6h0M800.1 302.9h0"/>
<path stroke="#f5c53a" d="M800.2 303.8h0"/>
<path stroke="#f1cb3a" d="M800.3 308.8h0"/>
<path stroke="#d9e436" d="M800.5 315.8h0"/>
<path stroke="#e9d539" d="M800.6 323.8h0"/>
<path stroke="#e3db38" d="M800.7 330.1h0"/>
<path stroke="#faba39" d="M800.8 337.2h0"/>
<path stroke="#f5c53a" d="M800.9 339.6h0"/>
<path stroke="#e3db38" d="M801.1 343.7h0"/>
<path stroke="#e9d539" d="M801.2 344.8h0M801.3 348.2h0"/>
<path stroke="#eecf3a" d="M801.4 349.6h0"/>
<path stroke="#f1cb3a" d="M801.6 351.6h0"/>
<path stroke="#f5c53a" d="M801.7 353.1h0"/>
<path stroke="#dfdf37" d="M801.8 354.4h0"/>
<path stroke="#e3db38" d="M801.9 353.2h0"/>
<path stroke="#e9d539" d="M802.0 357.0h0"/>
<path stroke="#eecf3a" d="M802.2 357.4h0"/>
<path stroke="#e3db38" d="M802.3 358.1h0"/>
<path stroke="#dfdf37" d="M802.4 358.9h0"/>
<path stroke="#e9d539" d="M802.5 357.7h0"/>
<path stroke="#e3db38" d="M802.6 360.7h0"/>
<path stroke="#eecf3a" d="M802.8 362.0h0"/>
<path stroke="#f1cb3a" d="M802.9 363.4h0"/>
<path stroke="#e9d539" d="M803.0 367.5h0M803.1 367.4h0"/>
<path stroke="#d9e436" d="M803.2 369.6h0M803.4 369.8h0"/>
<path stroke="#dfdf37" d="M803.5 370.9h0"/>
<path stroke="#d2e935" d="M803.6 369.8h0"/>
<path stroke="#e3db38" d="M803.7 370.5h0M803.8 372.8h0"/>
<path stroke="#d9e436" d="M804.0 375.2h0M804.1 376.0h0"/>
<path stroke="#d2e935" d="M804.2 377.9h0"/>
<path stroke="#dfdf37" d="M804.3 381.7h0M804.4 384.2h0"/>
<path stroke="#bef434" d="M804.6 383.3h0"/>
<path stroke="#d2e935" d="M804.7 384.2h0M804.8 386.3h0"/>
<path stroke="#d9e436" d="M804.9 388.8h0"/>
<path stroke="#dfdf37" d="M805.0 390.0h0"/>
<path stroke="#d2e935" d="M805.2 391.1h0"/>
<path stroke="#cdec34" d="M805.3 393.0h0"/>
<path stroke="#c6f034" d="M805.4 394.3h0"/>
<path stroke="#bef434" d="M805.5 395.7h0M805.6 397.2h0"/>
<path stroke="#d9e436" d="M805.8 396.9h0"/>
<path stroke="#bef434" d="M805.9 399.6h0M806.0 399.8h0"/>
<path stroke="#cdec34" d="M806.1 401.5h0"/>
<path stroke="#d2e935" d="M806.2 402.9h0"/>
<path stroke="#bef434" d="M806.4 402.0h0"/>
<path stroke="#b9f635" d="M806.5 403.0h0M806.6 400.3h0"/>
<path stroke="#bef434" d="M806.7 401.7h0"/>
<path stroke="#b9f635" d="M806.8 403.4h0"/>
<path stroke="#c6f034" d="M807.0 403.1h0M807.1 400.7h0"/>
<path stroke="#b9f635" d="M807.2 400.2h0"/>
<path stroke="#c6f034" d="M807.3 401.2h0"/>
<path stroke="#d2e935" d="M807.4 404.6h0"/>
<path stroke="#a9fb39" d="M807.6 405.8h0M807.7 405.7h0M807.8 406.8h0"/>
<path stroke="#9cfe40" d="M807.9 408.6h0"/>
<path stroke="#a9fb39" d="M808.0 408.1h0"/>
<path stroke="#d2e935" d="M808.2 409.7h0"/>
<path stroke="#a4fc3c" d="M808.3 412.8h0"/>
<path stroke="#9cfe40" d="M808.4 415.8h0"/>
<path stroke="#b1f936" d="M808.5 417.3h0M808.6 417.9h0"/>
<path stroke="#92ff47" d="M808.8 415.9h0"/>
<path stroke="#a9fb39" d="M808.9 417.2h0"/>
<path stroke="#bef434" d="M809.0 420.8h0"/>
<path stroke="#a4fc3c" d="M809.1 424.4h0"/>
<path stroke="#bef434" d="M809.2 423.5h0"/>
<path stroke="#a9fb39" d="M809.4 420.2h0"/>
<path stroke="#9cfe40" d="M809.5 416.4h0"/>
<path stroke="#92ff47" d="M809.6 415.6h0"/>
<path stroke="#bef434" d="M809.7 416.6h0"/>
<path stroke="#c6f034" d="M809.8 417.0h0"/>
<path stroke="#6dfe62" d="M810.0 416.6h0"/>
<path stroke="#cdec34" d="M810.1 417.5h0"/>
<path stroke="#b1f936" d="M810.2 417.9h0"/>
<path stroke="#b9f635" d="M810.3 415.7h0"/>
<path stroke="#c6f034" d="M810.4 416.9h0"/>
<path stroke="#6dfe62" d="M810.6 417.3h0"/>
<path stroke="#a4fc3c" d="M810.7 416.8h0"/>
<path stroke="#75fe5c" d="M810.8 415.1h0"/>
<path stroke="#9cfe40" d="M810.9 413.5h0M811.0 415.4h0"/>
<path stroke="#b1f936" d="M811.2 414.1h0"/>
<path stroke="#a4fc3c" d="M811.3 415.0h0"/>
<path stroke="#e3db38" d="M811.4 418.0h0"/>
<path stroke="#75fe5c" d="M811.5 416.6h0"/>
<path stroke="#dfdf37" d="M811.6 418.0h0"/>
<path stroke="#a4fc3c" d="M811.8 420.2h0"/>
<path stroke="#e3db38" d="M811.9 417.8h0"/>
<path stroke="#b1f936" d="M812.0 416.2h0"/>
<path stroke="#75fe5c" d="M812.1 418.4h0"/>
<path stroke="#a9fb39" d="M812.2 416.8h0"/>
<path stroke="#8bff4b" d="M812.4 422.9h0"/>
<path stroke="#d2e935" d="M812.5 418.1h0"/>
<path stroke="#bef434" d="M812.6 418.5h0"/>
<path stroke="#80ff53" d="M812.7 418.4h0"/>
<path stroke="#dfdf37" d="M812.8 420.0h0"/>
<path stroke="#bef434" d="M813.0 416.3h0"/>
<path stroke="#43f787" d="M813.1 419.2h0"/>
<path stroke="#6dfe62" d="M813.2 424.4h0M813.3 422.2h0"/>
<path stroke="#9cfe40" d="M813.5 415.5h0"/>
<path stroke="#a4fc3c" d="M813.6 417.7h0"/>
<path stroke="#92ff47" d="M813.7 418.1h0"/>
<path stroke="#c6f034" d="M813.8 420.5h0"/>
<path stroke="#22ebaa" d="M813.9 418.4h0"/>
<path stroke="#8bff4b" d="M814.1 418.6h0"/>
<path stroke="#61fc6c" d="M814.2 422.0h0"/>
<path stroke="#9cfe40" d="M814.3 419.2h0"/>
<path stroke="#55fa76" d="M814.4 420.4h0"/>
<path stroke="#4ef97d" d="M814.5 421.7h0"/>
<path stroke="#bef434" d="M814.7 423.3h0"/>
<path stroke="#4ef97d" d="M814.8 422.0h0M814.9 422.5h0M815.0 427.6h0"/>
<path stroke="#32f298" d="M815.1 431.0h0"/>
<path stroke="#2aefa1" d="M815.3 427.1h0M815.4 431.2h0"/>
<path stroke="#43f787" d="M815.5 428.4h0"/>
<path stroke="#80ff53" d="M815.6 429.9h0"/>
<path stroke="#b1f936" d="M815.7 423.4h0"/>
<path stroke="#4ef97d" d="M815.9 421.6h0"/>
<path stroke="#32f298" d="M816.0 419.6h0"/>
<path stroke="#55fa76" d="M816.1 422.1h0"/>
<path stroke="#1fe9af" d="M816.2 421.7h0"/>
<path stroke="#38f491" d="M816.3 423.6h0"/>
<path stroke="#61fc6c" d="M816.5 424.3h0"/>
<path stroke="#1ae4b6" d="M816.6 423.3h0"/>
<path stroke="#1fe9af" d="M816.7 425.0h0"/>
<path stroke="#2aefa1" d="M816.8 424.9h0"/>
<path stroke="#32f298" d="M816.9 423.1h0"/>
<path stroke="#1ad2d2" d="M817.1 420.3h0"/>
<path stroke="#61fc6c" d="M817.2 416.3h0"/>
<path stroke="#a9fb39" d="M817.3 415.4h0"/>
<path stroke="#61fc6c" d="M817.4 415.9h0"/>
<path stroke="#4ef97d" d="M817.5 420.7h0"/>
<path stroke="#6dfe62" d="M817.7 419.5h0"/>
<path stroke="#22ebaa" d="M817.8 427.0h0"/>
<path stroke="#1ccdd8" d="M817.9 429.1h0M818.0 426.9h0"/>
<path stroke="#4778f0" d="M818.1 425.8h0"/>
<path stroke="#4685fa" d="M818.3 424.9h0"/>
<path stroke="#3ba0fd" d="M818.4 417.6h0M818.5 420.9h0"/>
<path stroke="#28bceb" d="M818.6 419.9h0"/>
<path stroke="#1ae4b6" d="M818.7 413.3h0"/>
<path stroke="#25c0e7" d="M818.9 417.7h0"/>
<path stroke="#37a8fa" d="M819.0 414.3h0"/>
<path stroke="#4ef97d" d="M819.1 415.3h0"/>
<path stroke="#2eb4f2" d="M819.2 409.7h0"/>
<path stroke="#28bceb" d="M819.3 410.2h0"/>
<path stroke="#18ddc2" d="M819.5 412.2h0"/>
<path stroke="#2eb4f2" d="M819.6 411.4h0"/>
<path stroke="#2aefa1" d="M819.7 413.6h0"/>
<path stroke="#3ba0fd" d="M819.8 408.0h0"/>
<path stroke="#38f491" d="M819.9 410.6h0"/>
<path stroke="#1ae4b6" d="M820.1 412.2h0"/>
<path stroke="#4294ff" d="M820.2 412.5h0"/>
<path stroke="#1fe9af" d="M820.3 415.7h0"/>
<path stroke="#2aefa1" d="M820.4 419.8h0"/>
<path stroke="#18d7ca" d="M820.5 417.9h0"/>
<path stroke="#1fe9af" d="M820.7 422.9h0"/>
<path stroke="#20c7df" d="M820.8 428.9h0"/>
<path stroke="#22ebaa" d="M820.9 421.1h0"/>
<path stroke="#18d7ca" d="M821.0 421.0h0"/>
<path stroke="#43f787" d="M821.1 412.9h0"/>
<path stroke="#18e0bd" d="M821.3 415.8h0"/>
<path stroke="#43f787" d="M821.4 420.8h0M821.5 419.0h0"/>
<path stroke="#1ccdd8" d="M821.6 413.7h0"/>
<path stroke="#18ddc2" d="M821.7 413.0h0"/>
<path stroke="#1ae4b6" d="M821.9 414.6h0"/>
<path stroke="#4ef97d" d="M822.0 409.2h0"/>
<path stroke="#22ebaa" d="M822.1 406.5h0"/>
<path stroke="#4099ff" d="M822.2 409.6h0"/>
<path stroke="#4ef97d" d="M822.3 407.2h0"/>
<path stroke="#1ae4b6" d="M822.5 406.1h0"/>
<path stroke="#4ef97d" d="M822.6 407.8h0"/>
<path stroke="#2eb4f2" d="M822.7 406.0h0"/>
<path stroke="#28bceb" d="M822.8 407.5h0"/>
<path stroke="#33adf7" d="M822.9 413.4h0"/>
<path stroke="#458cfd" d="M823.1 411.0h0"/>
<path stroke="#2aefa1" d="M823.2 420.2h0"/>
<path stroke="#4099ff" d="M823.3 419.0h0"/>
<path stroke="#4680f6" d="M823.4 421.6h0"/>
<path stroke="#4771e9" d="M823.5 421.4h0"/>
<path stroke="#4685fa" d="M823.7 415.6h0"/>
<path stroke="#25c0e7" d="M823.8 419.7h0"/>
<path stroke="#1ccdd8" d="M823.9 420.4h0"/>
<path stroke="#4099ff" d="M824.0 421.5h0"/>
<path stroke="#4664da" d="M824.1 419.8h0"/>
<path stroke="#458cfd" d="M824.3 418.1h0"/>
<path stroke="#30123b" d="M824.4 426.3h0"/>
<path stroke="#3b2f80" d="M824.5 426.5h0"/>
<path stroke="#4685fa" d="M824.6 422.5h0"/>
<path stroke="#3ba0fd" d="M824.7 424.2h0"/>
<path stroke="#4778f0" d="M824.9 417.1h0"/>
<path stroke="#4099ff" d="M824.9 448.9h0"/>
<path stroke="#2eb4f2" d="M825.0 417.9h0"/>
<path stroke="#4680f6" d="M825.1 429.6h0"/>
<path stroke="#4664da" d="M825.2 424.2h0"/>
<path stroke="#466be3" d="M825.4 424.0h0"/>
<path stroke="#455ccf" d="M825.5 416.6h0M825.6 417.6h0"/>
<path stroke="#4664da" d="M825.7 420.3h0"/>
<path stroke="#1ccdd8" d="M825.8 413.6h0"/>
<path stroke="#3e3891" d="M826.0 408.4h0"/>
<path stroke="#1ae4b6" d="M826.1 414.8h0"/>
<path stroke="#4456c7" d="M826.2 413.3h0"/>
<path stroke="#25c0e7" d="M826.3 415.9h0"/>
<path stroke="#1ad2d2" d="M826.4 415.7h0"/>
<path stroke="#18d7ca" d="M826.6 408.9h0"/>
<path stroke="#4680f6" d="M826.7 398.4h0"/>
<path stroke="#36215f" d="M826.8 393.9h0"/>
<path stroke="#4771e9" d="M826.9 395.6h0"/>
<path stroke="#20c7df" d="M827.0 393.0h0"/>
<path stroke="#38f491" d="M827.2 392.3h0"/>
<path stroke="#2eb4f2" d="M827.3 391.2h0"/>
<path stroke="#1ccdd8" d="M827.4 390.8h0"/>
<path stroke="#20c7df" d="M827.5 388.4h0"/>
<path stroke="#38f491" d="M827.6 388.1h0"/>
<path stroke="#18e0bd" d="M827.8 391.7h0"/>
<path stroke="#43f787" d="M827.9 387.0h0"/>
<path stroke="#3ba0fd" d="M828.0 390.2h0"/>
<path stroke="#4664da" d="M828.1 390.7h0"/>
<path stroke="#2eb4f2" d="M828.2 385.1h0"/>
<path stroke="#4685fa" d="M828.4 389.8h0"/>
<path stroke="#1ccdd8" d="M828.5 391.3h0"/>
<path stroke="#4294ff" d="M828.6 398.9h0"/>
<path stroke="#18ddc2" d="M828.7 408.9h0"/>
<path stroke="#4771e9" d="M828.8 417.7h0"/>
<path stroke="#37a8fa" d="M829.0 415.8h0"/>
<path stroke="#4294ff" d="M829.1 415.3h0"/>
<path stroke="#1ad2d2" d="M829.2 410.6h0"/>
<path stroke="#4778f0" d="M829.3 396.0h0M829.4 396.3h0"/>
<path stroke="#1ad2d2" d="M829.6 391.1h0"/>
<path stroke="#4664da" d="M829.7 389.0h0M829.8 384.2h0"/>
<path stroke="#28bceb" d="M829.9 386.2h0"/>
<path stroke="#30123b" d="M830.0 383.3h0"/>
<path stroke="#37a8fa" d="M830.2 399.7h0"/>
<path stroke="#4664da" d="M830.3 402.6h0"/>
<path stroke="#466be3" d="M830.4 395.9h0"/>
<path stroke="#4771e9" d="M830.5 395.5h0"/>
<path stroke="#4778f0" d="M830.6 403.6h0"/>
<path stroke="#466be3" d="M830.8 388.4h0"/>
<path stroke="#18d7ca" d="M830.9 388.3h0"/>
<path stroke="#3e3891" d="M831.0 381.3h0"/>
<path stroke="#4146ac" d="M831.1 381.9h0"/>
<path stroke="#4099ff" d="M831.2 375.5h0"/>
<path stroke="#455ccf" d="M831.4 376.5h0"/>
<path stroke="#37a8fa" d="M831.5 379.4h0M831.6 384.3h0"/>
<path stroke="#33adf7" d="M831.7 369.4h0"/>
<path stroke="#2eb4f2" d="M831.8 375.5h0"/>
<path stroke="#36215f" d="M832.0 375.5h0"/>
<path stroke="#4771e9" d="M832.1 368.2h0"/>
<path stroke="#1ccdd8" d="M832.2 367.1h0"/>
<path stroke="#4771e9" d="M832.3 382.9h0"/>
<path stroke="#4778f0" d="M832.4 377.1h0"/>
<path stroke="#18d7ca" d="M832.6 367.1h0"/>
<path stroke="#4099ff" d="M832.7 374.4h0"/>
<path stroke="#4664da" d="M832.8 369.9h0"/>
<path stroke="#1ad2d2" d="M832.9 375.5h0"/>
<path stroke="#25c0e7" d="M833.0 374.4h0"/>
<path stroke="#4680f6" d="M833.2 385.4h0"/>
<path stroke="#18d7ca" d="M833.3 374.8h0"/>
<path stroke="#4099ff" d="M833.3 327.3h0"/>
<path stroke="#3e3891" d="M833.3 334.8h0"/>
<path stroke="#3ba0fd" d="M833.4 370.6h0"/>
<path stroke="#4146ac" d="M833.5 380.3h0"/>
<path stroke="#18d7ca" d="M833.6 395.0h0M833.8 391.3h0"/>
<path stroke="#18e0bd" d="M833.9 399.1h0"/>
<path stroke="#1ae4b6" d="M834.0 398.6h0"/>
<path stroke="#20c7df" d="M834.1 392.4h0"/>
<path stroke="#1ccdd8" d="M834.2 372.7h0"/>
<path stroke="#2eb4f2" d="M834.4 394.3h0"/>
<path stroke="#38f491" d="M834.5 400.5h0"/>
<path stroke="#1fe9af" d="M834.6 374.9h0"/>
<path stroke="#80ff53" d="M834.7 382.4h0"/>
<path stroke="#1fe9af" d="M834.8 375.4h0"/>
<path stroke="#25c0e7" d="M835.0 365.4h0"/>
<path stroke="#20c7df" d="M835.1 362.6h0"/>
<path stroke="#28bceb" d="M835.2 372.5h0"/>
<path stroke="#25c0e7" d="M835.3 372.1h0"/>
<path stroke="#8bff4b" d="M835.4 371.8h0"/>
<path stroke="#458cfd" d="M835.6 371.7h0"/>
<path stroke="#33adf7" d="M835.7 370.4h0"/>
<path stroke="#4099ff" d="M835.8 376.8h0"/>
<path stroke="#43f787" d="M835.9 357.1h0"/>
<path stroke="#1fe9af" d="M836.0 352.9h0"/>
<path stroke="#18d7ca" d="M836.2 354.7h0"/>
<path stroke="#38f491" d="M836.3 354.3h0"/>
<path stroke="#1ad2d2" d="M836.4 357.6h0"/>
<path stroke="#2aefa1" d="M836.5 358.2h0"/>
<path stroke="#8bff4b" d="M836.6 366.8h0"/>
<path stroke="#18e0bd" d="M836.8 369.5h0"/>
<path stroke="#18ddc2" d="M836.9 378.2h0"/>
<path stroke="#1fe9af" d="M837.0 380.5h0"/>
<path stroke="#32f298" d="M837.1 388.3h0"/>
<path stroke="#38f491" d="M837.3 385.4h0"/>
<path stroke="#1ad2d2" d="M837.4 371.1h0"/>
<path stroke="#1fe9af" d="M837.5 374.8h0"/>
<path stroke="#18d7ca" d="M837.6 378.3h0"/>
<path stroke="#32f298" d="M837.7 377.6h0"/>
<path stroke="#25c0e7" d="M837.9 389.7h0"/>
<path stroke="#33adf7" d="M838.0 394.8h0"/>
<path stroke="#4099ff" d="M838.1 406.1h0"/>
<path stroke="#33adf7" d="M838.2 401.9h0"/>
<path stroke="#37a8fa" d="M838.3 397.4h0"/>
<path stroke="#18ddc2" d="M838.5 402.2h0"/>
<path stroke="#43f787" d="M838.6 411.3h0"/>
<path stroke="#25c0e7" d="M838.7 404.2h0"/>
<path stroke="#6dfe62" d="M838.8 407.0h0"/>
<path stroke="#20c7df" d="M838.9 405.7h0"/>
<path stroke="#22ebaa" d="M839.1 402.1h0"/>
<path stroke="#18d7ca" d="M839.2 408.5h0"/>
<path stroke="#37a8fa" d="M839.3 413.7h0"/>
<path stroke="#20c7df" d="M839.4 415.4h0"/>
<path stroke="#4680f6" d="M839.5 409.5h0"/>
<path stroke="#18ddc2" d="M839.7 407.4h0"/>
<path stroke="#4ef97d" d="M839.8 396.2h0"/>
<path stroke="#20c7df" d="M839.9 402.8h0"/>
<path stroke="#38f491" d="M840.0 395.3h0"/>
<path stroke="#4099ff" d="M840.1 396.3h0"/>
<path stroke="#458cfd" d="M840.3 404.6h0"/>
<path stroke="#37a8fa" d="M840.4 403.8h0"/>
<path stroke="#4778f0" d="M840.5 405.9h0"/>
<path stroke="#4099ff" d="M840.6 402.3h0"/>
<path stroke="#1ccdd8" d="M840.7 418.8h0"/>
<path stroke="#4685fa" d="M840.9 411.9h0"/>
<path stroke="#4778f0" d="M841.0 407.5h0"/>
<path stroke="#4099ff" d="M841.1 409.1h0"/>
<path stroke="#25c0e7" d="M841.2 423.5h0"/>
<path stroke="#37a8fa" d="M841.3 419.5h0"/>
<path stroke="#434eba" d="M841.5 417.6h0"/>
<path stroke="#4685fa" d="M841.6 422.3h0"/>
<path stroke="#18ddc2" d="M841.7 410.0h0"/>
<path stroke="#37a8fa" d="M841.8 415.9h0"/>
<path stroke="#18d7ca" d="M841.9 419.3h0"/>
<path stroke="#37a8fa" d="M842.1 426.2h0"/>
<path stroke="#4685fa" d="M842.2 428.2h0"/>
<path stroke="#2eb4f2" d="M842.3 430.3h0"/>
<path stroke="#18d7ca" d="M842.4 431.5h0"/>
<path stroke="#33adf7" d="M842.5 431.6h0"/>
<path stroke="#4685fa" d="M842.7 426.6h0"/>
<path stroke="#3ba0fd" d="M842.8 424.9h0"/>
<path stroke="#4294ff" d="M842.9 427.3h0"/>
<path stroke="#18e0bd" d="M843.0 426.5h0"/>
<path stroke="#4685fa" d="M843.1 431.8h0M843.3 435.9h0"/>
<path stroke="#4778f0" d="M843.4 445.5h0"/>
<path stroke="#33adf7" d="M843.5 445.4h0"/>
<path stroke="#3ba0fd" d="M843.6 441.9h0"/>
<path stroke="#4099ff" d="M843.7 445.9h0"/>
<path stroke="#2eb4f2" d="M843.9 447.0h0"/>
<path stroke="#3ba0fd" d="M844.0 452.0h0"/>
<path stroke="#22ebaa" d="M844.1 455.7h0"/>
<path stroke="#1fe9af" d="M844.2 455.3h0"/>
<path stroke="#4778f0" d="M844.3 460.4h0"/>
<path stroke="#32f298" d="M844.5 462.1h0"/>
<path stroke="#25c0e7" d="M844.6 465.2h0"/>
<path stroke="#1ccdd8" d="M844.7 460.9h0"/>
<path stroke="#4778f0" d="M844.8 459.0h0"/>
<path stroke="#1ccdd8" d="M844.9 469.9h0"/>
<path stroke="#18e0bd" d="M845.1 467.8h0"/>
<path stroke="#1ccdd8" d="M845.2 470.5h0"/>
<path stroke="#20c7df" d="M845.3 468.6h0"/>
<path stroke="#1fe9af" d="M845.4 477.2h0"/>
<path stroke="#1ad2d2" d="M845.5 478.9h0"/>
<path stroke="#4771e9" d="M845.7 474.7h0"/>
<path stroke="#3ba0fd" d="M845.8 475.4h0"/>
<path stroke="#25c0e7" d="M845.9 484.2h0"/>
<path stroke="#4294ff" d="M846.0 485.6h0"/>
<path stroke="#38f491" d="M846.1 470.2h0"/>
<path stroke="#18d7ca" d="M846.3 448.7h0"/>
<path stroke="#2eb4f2" d="M846.4 461.1h0M846.5 444.8h0"/>
<path stroke="#1ccdd8" d="M846.6 450.6h0"/>
<path stroke="#37a8fa" d="M846.7 447.4h0"/>
<path stroke="#3ba0fd" d="M846.9 453.9h0"/>
<path stroke="#466be3" d="M847.0 447.7h0"/>
<path stroke="#1ae4b6" d="M847.1 428.2h0"/>
<path stroke="#1ccdd8" d="M847.2 449.2h0"/>
<path stroke="#4778f0" d="M847.3 452.1h0"/>
<path stroke="#1ae4b6" d="M847.5 452.2h0"/>
<path stroke="#20c7df" d="M847.6 471.9h0"/>
<path stroke="#3ba0fd" d="M847.7 477.1h0"/>
<path stroke="#4294ff" d="M847.8 485.1h0"/>
<path stroke="#22ebaa" d="M847.9 479.1h0"/>
<path stroke="#1ae4b6" d="M848.1 477.4h0"/>
<path stroke="#18d7ca" d="M848.2 479.4h0"/>
<path stroke="#1ad2d2" d="M848.3 469.5h0"/>
<path stroke="#28bceb" d="M848.4 477.6h0"/>
<path stroke="#25c0e7" d="M848.5 478.2h0"/>
<path stroke="#38f491" d="M848.7 473.0h0"/>
<path stroke="#33adf7" d="M848.8 466.7h0"/>
<path stroke="#37a8fa" d="M848.9 474.4h0"/>
<path stroke="#1ae4b6" d="M849.0 470.6h0"/>
<path stroke="#466be3" d="M849.2 472.7h0"/>
<path stroke="#33adf7" d="M849.3 473.6h0"/>
<path stroke="#3ba0fd" d="M849.4 469.5h0"/>
<path stroke="#25c0e7" d="M849.5 436.8h0"/>
<path stroke="#4771e9" d="M849.6 445.6h0"/>
<path stroke="#2eb4f2" d="M849.8 456.7h0"/>
<path stroke="#33adf7" d="M849.9 452.0h0"/>
<path stroke="#1ccdd8" d="M850.0 447.4h0"/>
<path stroke="#18ddc2" d="M850.1 460.9h0"/>
<path stroke="#2aefa1" d="M850.2 448.6h0"/>
<path stroke="#1ccdd8" d="M850.4 464.8h0"/>
<path stroke="#2eb4f2" d="M850.5 470.7h0"/>
<path stroke="#3ba0fd" d="M850.6 483.6h0"/>
<path stroke="#2eb4f2" d="M850.7 480.0h0"/>
<path stroke="#22ebaa" d="M850.8 477.4h0"/>
<path stroke="#1fe9af" d="M851.0 476.9h0"/>
<path stroke="#18e0bd" d="M851.1 460.7h0"/>
<path stroke="#1ccdd8" d="M851.2 453.1h0"/>
<path stroke="#4685fa" d="M851.3 465.3h0"/>
<path stroke="#1ae4b6" d="M851.4 459.5h0"/>
<path stroke="#25c0e7" d="M851.6 451.7h0"/>
<path stroke="#4685fa" d="M851.7 457.5h0M851.8 473.0h0"/>
<path stroke="#25c0e7" d="M851.9 470.2h0"/>
<path stroke="#18ddc2" d="M852.0 425.1h0"/>
<path stroke="#3ba0fd" d="M852.0 466.9h0"/>
<path stroke="#38f491" d="M852.2 466.3h0"/>
<path stroke="#1fe9af" d="M852.3 472.3h0"/>
<path stroke="#18e0bd" d="M852.4 455.1h0"/>
<path stroke="#28bceb" d="M852.5 460.7h0M852.6 465.6h0"/>
<path stroke="#4146ac" d="M852.8 476.6h0"/>
<path stroke="#4664da" d="M852.9 485.3h0"/>
<path stroke="#2eb4f2" d="M853.0 487.8h0"/>
<path stroke="#458cfd" d="M853.1 493.3h0"/>
<path stroke="#3e3891" d="M853.2 493.5h0"/>
<path stroke="#3ba0fd" d="M853.4 488.7h0"/>
<path stroke="#4778f0" d="M853.5 493.1h0"/>
<path stroke="#3e3891" d="M853.6 494.5h0"/>
<path stroke="#33adf7" d="M853.7 484.5h0"/>
<path stroke="#25c0e7" d="M853.8 476.8h0"/>
<path stroke="#455ccf" d="M854.0 474.8h0"/>
<path stroke="#458cfd" d="M854.1 460.7h0"/>
<path stroke="#3ba0fd" d="M854.2 471.8h0"/>
<path stroke="#4778f0" d="M854.3 474.4h0"/>
<path stroke="#4685fa" d="M854.4 486.5h0"/>
<path stroke="#434eba" d="M854.6 473.0h0"/>
<path stroke="#4146ac" d="M854.7 468.2h0"/>
<path stroke="#4685fa" d="M854.8 463.7h0"/>
<path stroke="#4664da" d="M854.9 468.6h0"/>
<path stroke="#4099ff" d="M855.0 471.4h0"/>
<path stroke="#3b2f80" d="M855.2 477.5h0"/>
<path stroke="#4146ac" d="M855.3 481.9h0"/>
<path stroke="#4664da" d="M855.4 470.0h0"/>
<path stroke="#4680f6" d="M855.5 472.2h0"/>
<path stroke="#466be3" d="M855.6 470.8h0"/>
<path stroke="#37a8fa" d="M855.8 470.2h0"/>
<path stroke="#458cfd" d="M855.9 473.3h0"/>
<path stroke="#33adf7" d="M856.0 454.7h0"/>
<path stroke="#4456c7" d="M856.1 451.1h0"/>
<path stroke="#2eb4f2" d="M856.2 451.0h0"/>
<path stroke="#458cfd" d="M856.4 445.4h0"/>
<path stroke="#36215f" d="M856.5 437.9h0"/>
<path stroke="#37a8fa" d="M856.6 452.3h0"/>
<path stroke="#3ba0fd" d="M856.7 462.9h0"/>
<path stroke="#33184a" d="M856.8 478.4h0"/>
<path stroke="#466be3" d="M857.0 466.6h0"/>
<path stroke="#37a8fa" d="M857.1 444.6h0"/>
<path stroke="#4040a2" d="M857.2 453.7h0"/>
<path stroke="#3ba0fd" d="M857.3 451.0h0"/>
<path stroke="#4146ac" d="M857.4 444.2h0"/>
<path stroke="#4294ff" d="M857.6 451.3h0"/>
<path stroke="#4456c7" d="M857.7 451.0h0"/>
<path stroke="#30123b" d="M857.8 437.9h0"/>
<path stroke="#4146ac" d="M857.9 443.1h0"/>
<path stroke="#4456c7" d="M858.0 430.5h0"/>
<path stroke="#4685fa" d="M858.2 439.6h0"/>
<path stroke="#4146ac" d="M858.3 430.8h0"/>
<path stroke="#4099ff" d="M858.4 429.2h0"/>
<path stroke="#4294ff" d="M858.5 434.4h0"/>
<path stroke="#4685fa" d="M858.6 448.5h0"/>
<path stroke="#466be3" d="M858.8 447.4h0"/>
<path stroke="#4771e9" d="M858.9 437.0h0"/>
<path stroke="#434eba" d="M859.0 447.6h0"/>
<path stroke="#4685fa" d="M859.1 449.8h0"/>
<path stroke="#434eba" d="M859.2 453.3h0M859.4 449.1h0"/>
<path stroke="#3b2f80" d="M859.5 436.4h0"/>
<path stroke="#2eb4f2" d="M859.6 434.7h0"/>
<path stroke="#25c0e7" d="M859.7 450.6h0"/>
<path stroke="#466be3" d="M859.8 445.2h0"/>
<path stroke="#458cfd" d="M860.0 444.5h0"/>
<path stroke="#4040a2" d="M860.1 445.4h0"/>
<path stroke="#4146ac" d="M860.2 455.8h0"/>
<path stroke="#2eb4f2" d="M860.3 456.7h0"/>
<path stroke="#1ae4b6" d="M860.4 451.2h0"/>
<path stroke="#4685fa" d="M860.6 469.9h0"/>
<path stroke="#18d7ca" d="M860.7 467.1h0"/>
<path stroke="#466be3" d="M860.8 466.6h0"/>
<path stroke="#1fe9af" d="M860.9 457.2h0"/>
<path stroke="#18ddc2" d="M861.1 440.5h0"/>
<path stroke="#4685fa" d="M861.2 447.3h0"/>
<path stroke="#37a8fa" d="M861.3 443.8h0"/>
<path stroke="#18e0bd" d="M861.4 448.5h0"/>
<path stroke="#2eb4f2" d="M861.5 427.8h0"/>
<path stroke="#4664da" d="M861.7 447.5h0"/>
<path stroke="#4099ff" d="M861.8 449.0h0"/>
<path stroke="#3e3891" d="M861.9 455.4h0"/>
<path stroke="#4099ff" d="M862.0 443.8h0"/>
<path stroke="#4778f0" d="M862.1 445.0h0"/>
<path stroke="#37a8fa" d="M862.3 446.6h0"/>
<path stroke="#4771e9" d="M862.4 457.1h0"/>
<path stroke="#466be3" d="M862.5 462.1h0"/>
<path stroke="#4040a2" d="M862.6 439.0h0"/>
<path stroke="#4778f0" d="M862.7 441.5h0"/>
<path stroke="#434eba" d="M862.9 442.9h0"/>
<path stroke="#3b2f80" d="M863.0 439.9h0"/>
<path stroke="#37a8fa" d="M863.1 443.2h0"/>
<path stroke="#30123b" d="M863.2 447.0h0"/>
<path stroke="#4664da" d="M863.3 453.8h0"/>
<path stroke="#4040a2" d="M863.5 440.4h0"/>
<path stroke="#434eba" d="M863.6 433.3h0"/>
<path stroke="#4778f0" d="M863.7 435.0h0"/>
<path stroke="#4685fa" d="M863.8 441.4h0"/>
<path stroke="#33adf7" d="M863.9 432.2h0"/>
<path stroke="#36215f" d="M864.1 433.4h0"/>
<path stroke="#3ba0fd" d="M864.2 422.4h0"/>
<path stroke="#4294ff" d="M864.3 426.0h0"/>
<path stroke="#20c7df" d="M864.4 425.8h0"/>
<path stroke="#4771e9" d="M864.5 432.6h0"/>
<path stroke="#4040a2" d="M864.7 446.4h0"/>
<path stroke="#2eb4f2" d="M864.8 436.7h0"/>
<path stroke="#4685fa" d="M864.9 439.7h0"/>
<path stroke="#4680f6" d="M865.0 424.6h0"/>
<path stroke="#4685fa" d="M865.1 429.1h0"/>
<path stroke="#1ad2d2" d="M865.3 446.0h0"/>
<path stroke="#4294ff" d="M865.4 428.6h0"/>
<path stroke="#18e0bd" d="M865.5 425.2h0"/>
<path stroke="#1ad2d2" d="M865.6 407.5h0"/>
<path stroke="#4099ff" d="M865.7 409.8h0"/>
<path stroke="#4771e9" d="M865.9 432.4h0"/>
<path stroke="#1fe9af" d="M866.0 423.1h0"/>
<path stroke="#3ba0fd" d="M866.1 426.5h0M866.2 440.1h0"/>
<path stroke="#22ebaa" d="M866.3 431.6h0"/>
<path stroke="#32f298" d="M866.5 431.5h0M866.6 425.4h0"/>
<path stroke="#28bceb" d="M866.7 419.9h0"/>
<path stroke="#18d7ca" d="M866.8 421.2h0"/>
<path stroke="#37a8fa" d="M866.9 429.3h0"/>
<path stroke="#18ddc2" d="M867.1 431.6h0"/>
<path stroke="#1fe9af" d="M867.2 429.3h0"/>
<path stroke="#80ff53" d="M867.3 427.6h0"/>
<path stroke="#1ad2d2" d="M867.4 434.3h0"/>
<path stroke="#2eb4f2" d="M867.5 437.1h0"/>
<path stroke="#32f298" d="M867.7 437.0h0"/>
<path stroke="#2eb4f2" d="M867.8 418.5h0M867.9 415.9h0"/>
<path stroke="#1ae4b6" d="M868.0 405.3h0M868.1 424.6h0"/>
<path stroke="#18e0bd" d="M868.3 427.8h0"/>
<path stroke="#28bceb" d="M868.4 439.0h0"/>
<path stroke="#1ccdd8" d="M868.5 424.9h0"/>
<path stroke="#4099ff" d="M868.6 409.0h0"/>
<path stroke="#4664da" d="M868.7 402.2h0"/>
<path stroke="#18ddc2" d="M868.9 409.8h0"/>
<path stroke="#4ef97d" d="M869.0 403.0h0"/>
<path stroke="#18d7ca" d="M869.1 409.4h0"/>
<path stroke="#32f298" d="M869.2 422.4h0"/>
<path stroke="#18ddc2" d="M869.3 415.4h0"/>
<path stroke="#55fa76" d="M869.5 423.8h0"/>
<path stroke="#3ba0fd" d="M869.6 396.8h0"/>
<path stroke="#33adf7" d="M869.7 387.4h0"/>
<path stroke="#2eb4f2" d="M869.8 382.5h0"/>
<path stroke="#1ccdd8" d="M869.9 383.5h0"/>
<path stroke="#18ddc2" d="M870.1 370.8h0"/>
<path stroke="#3ba0fd" d="M870.2 373.9h0"/>
<path stroke="#4680f6" d="M870.3 389.5h0"/>
<path stroke="#4664da" d="M870.4 397.9h0"/>
<path stroke="#3b2f80" d="M870.5 401.7h0"/>
<path stroke="#1ccdd8" d="M870.7 391.6h0"/>
<path stroke="#466be3" d="M870.8 406.0h0"/>
<path stroke="#18e0bd" d="M870.9 411.2h0"/>
<path stroke="#3ba0fd" d="M871.0 397.2h0"/>
<path stroke="#1ae4b6" d="M871.1 407.0h0"/>
<path stroke="#1fe9af" d="M871.3 401.8h0"/>
<path stroke="#1ae4b6" d="M871.4 407.2h0"/>
<path stroke="#18ddc2" d="M871.5 410.3h0"/>
<path stroke="#4099ff" d="M871.6 415.3h0"/>
<path stroke="#1ad2d2" d="M871.7 428.5h0"/>
<path stroke="#458cfd" d="M871.9 430.1h0"/>
<path stroke="#4771e9" d="M872.0 430.6h0"/>
<path stroke="#37a8fa" d="M872.1 432.0h0"/>
<path stroke="#20c7df" d="M872.2 431.6h0"/>
<path stroke="#4294ff" d="M872.3 430.1h0"/>
<path stroke="#18d7ca" d="M872.5 431.3h0"/>
<path stroke="#455ccf" d="M872.6 413.0h0"/>
<path stroke="#4456c7" d="M872.7 413.0h0"/>
<path stroke="#455ccf" d="M872.8 434.4h0"/>
<path stroke="#20c7df" d="M873.0 434.5h0"/>
<path stroke="#4685fa" d="M873.1 435.2h0"/>
<path stroke="#2eb4f2" d="M873.2 435.0h0M873.3 436.5h0"/>
<path stroke="#434eba" d="M873.4 436.8h0"/>
<path stroke="#37a8fa" d="M873.6 437.0h0"/>
<path stroke="#1ad2d2" d="M873.7 427.2h0"/>
<path stroke="#1ccdd8" d="M873.8 428.7h0"/>
<path stroke="#37a8fa" d="M873.9 437.1h0"/>
<path stroke="#1ccdd8" d="M874.0 431.5h0"/>
<path stroke="#25c0e7" d="M874.2 418.1h0"/>
<path stroke="#2eb4f2" d="M874.3 394.5h0"/>
<path stroke="#36215f" d="M874.4 407.0h0"/>
<path stroke="#434eba" d="M874.5 397.3h0"/>
<path stroke="#1ccdd8" d="M874.6 395.1h0"/>
<path stroke="#458cfd" d="M874.8 389.4h0"/>
<path stroke="#4040a2" d="M874.9 386.4h0"/>
<path stroke="#458cfd" d="M875.0 399.4h0"/>
<path stroke="#4771e9" d="M875.1 396.1h0"/>
<path stroke="#3e3891" d="M875.2 401.7h0"/>
<path stroke="#4778f0" d="M875.4 398.4h0"/>
<path stroke="#4771e9" d="M875.5 399.1h0"/>
<path stroke="#4099ff" d="M875.6 408.3h0"/>
<path stroke="#466be3" d="M875.7 417.4h0"/>
<path stroke="#4680f6" d="M875.8 407.0h0"/>
<path stroke="#37a8fa" d="M876.0 409.9h0"/>
<path stroke="#3ba0fd" d="M876.1 402.8h0"/>
<path stroke="#466be3" d="M876.2 412.6h0"/>
<path stroke="#4456c7" d="M876.3 407.9h0"/>
<path stroke="#466be3" d="M876.4 402.5h0"/>
<path stroke="#4778f0" d="M876.6 412.6h0"/>
<path stroke="#4685fa" d="M876.7 408.7h0"/>
<path stroke="#4664da" d="M876.8 412.5h0"/>
<path stroke="#466be3" d="M876.9 420.4h0"/>
<path stroke="#4456c7" d="M877.0 414.6h0"/>
<path stroke="#25c0e7" d="M877.2 414.0h0"/>
<path stroke="#4771e9" d="M877.3 421.2h0"/>
<path stroke="#434eba" d="M877.4 441.6h0"/>
<path stroke="#458cfd" d="M877.5 442.8h0"/>
<path stroke="#3ba0fd" d="M877.6 445.4h0"/>
<path stroke="#4778f0" d="M877.8 441.4h0"/>
<path stroke="#3ba0fd" d="M877.9 435.9h0"/>
<path stroke="#4456c7" d="M878.0 447.4h0"/>
<path stroke="#4099ff" d="M878.1 436.3h0M878.2 425.8h0"/>
<path stroke="#28bceb" d="M878.4 439.6h0"/>
<path stroke="#3ba0fd" d="M878.5 427.7h0"/>
<path stroke="#1fe9af" d="M878.6 417.0h0"/>
<path stroke="#1ccdd8" d="M878.7 423.1h0"/>
<path stroke="#18ddc2" d="M878.8 432.0h0"/>
<path stroke="#1ccdd8" d="M879.0 446.2h0"/>
<path stroke="#466be3" d="M879.1 449.0h0"/>
<path stroke="#20c7df" d="M879.2 433.0h0"/>
<path stroke="#1ccdd8" d="M879.3 429.4h0"/>
<path stroke="#20c7df" d="M879.4 426.5h0"/>
<path stroke="#458cfd" d="M879.6 429.2h0"/>
<path stroke="#4771e9" d="M879.7 421.7h0"/>
<path stroke="#4294ff" d="M879.8 422.1h0"/>
<path stroke="#4456c7" d="M879.9 426.1h0"/>
<path stroke="#2eb4f2" d="M880.0 427.7h0"/>
<path stroke="#455ccf" d="M880.2 419.7h0"/>
<path stroke="#4685fa" d="M880.3 422.9h0M880.4 416.8h0"/>
<path stroke="#3ba0fd" d="M880.5 409.8h0"/>
<path stroke="#466be3" d="M880.6 412.9h0"/>
<path stroke="#4680f6" d="M880.8 421.8h0"/>
<path stroke="#18ddc2" d="M880.9 405.9h0"/>
<path stroke="#434eba" d="M881.0 410.6h0"/>
<path stroke="#2eb4f2" d="M881.1 424.6h0"/>
<path stroke="#466be3" d="M881.2 426.9h0M881.4 423.8h0"/>
<path stroke="#4778f0" d="M881.5 425.6h0"/>
<path stroke="#18ddc2" d="M881.6 440.8h0"/>
<path stroke="#4099ff" d="M881.7 437.0h0"/>
<path stroke="#4294ff" d="M881.8 429.7h0"/>
<path stroke="#458cfd" d="M882.0 436.1h0"/>
<path stroke="#4099ff" d="M882.1 433.1h0"/>
<path stroke="#4685fa" d="M882.2 425.5h0"/>
<path stroke="#37a8fa" d="M882.3 434.0h0"/>
<path stroke="#4778f0" d="M882.4 425.1h0"/>
<path stroke="#434eba" d="M882.6 424.8h0"/>
<path stroke="#4664da" d="M882.7 436.1h0"/>
<path stroke="#4680f6" d="M882.8 437.6h0"/>
<path stroke="#18ddc2" d="M882.9 446.6h0"/>
<path stroke="#3e3891" d="M883.0 429.6h0"/>
<path stroke="#466be3" d="M883.2 416.5h0"/>
<path stroke="#4778f0" d="M883.3 413.0h0"/>
<path stroke="#4771e9" d="M883.4 415.1h0"/>
<path stroke="#434eba" d="M883.5 405.2h0"/>
<path stroke="#30123b" d="M883.6 411.0h0"/>
<path stroke="#4456c7" d="M883.8 410.6h0"/>
<path stroke="#434eba" d="M883.9 411.3h0"/>
<path stroke="#30123b" d="M884.0 415.1h0"/>
<path stroke="#3e3891" d="M884.1 417.6h0"/>
<path stroke="#4456c7" d="M884.2 408.7h0M884.4 412.0h0"/>
<path stroke="#33adf7" d="M884.5 406.9h0"/>
<path stroke="#30123b" d="M884.6 422.7h0"/>
<path stroke="#4664da" d="M884.7 421.4h0"/>
<path stroke="#434eba" d="M884.9 421.0h0"/>
<path stroke="#30123b" d="M885.0 417.3h0"/>
<path stroke="#4664da" d="M885.1 421.2h0"/>
<path stroke="#30123b" d="M885.2 424.9h0"/>
<path stroke="#3b2f80" d="M885.3 426.2h0"/>
<path stroke="#30123b" d="M885.5 419.3h0M885.6 430.1h0"/>
<path stroke="#3e3891" d="M885.7 432.1h0"/>
<path stroke="#4456c7" d="M885.8 416.1h0"/>
<path stroke="#3e3891" d="M885.9 409.1h0"/>
<path stroke="#4040a2" d="M886.1 409.5h0"/>
<path stroke="#36215f" d="M886.2 409.5h0"/>
<path stroke="#4664da" d="M886.3 410.4h0"/>
<path stroke="#434eba" d="M886.4 410.8h0"/>
<path stroke="#30123b" d="M886.5 409.1h0"/>
<path stroke="#458cfd" d="M886.7 420.4h0"/>
<path stroke="#33184a" d="M886.8 424.0h0"/>
<path stroke="#30123b" d="M886.9 429.1h0M887.0 439.0h0"/>
<path stroke="#392a73" d="M887.1 454.8h0"/>
<path stroke="#33184a" d="M887.3 459.0h0"/>
<path stroke="#30123b" d="M887.4 459.2h0"/>
<path stroke="#455ccf" d="M887.5 454.0h0"/>
<path stroke="#392a73" d="M887.6 443.0h0"/>
<path stroke="#4456c7" d="M887.7 444.6h0"/>
<path stroke="#4099ff" d="M887.9 451.2h0"/>
<path stroke="#4778f0" d="M888.0 451.8h0"/>
<path stroke="#30123b" d="M888.1 444.1h0M888.2 446.2h0"/>
<path stroke="#36215f" d="M888.3 444.2h0"/>
<path stroke="#3b2f80" d="M888.5 438.3h0"/>
<path stroke="#434eba" d="M888.6 422.2h0"/>
<path stroke="#30123b" d="M888.7 429.3h0"/>
<path stroke="#33184a" d="M888.8 424.7h0"/>
<path stroke="#4146ac" d="M888.9 435.6h0"/>
<path stroke="#4456c7" d="M889.1 431.6h0"/>
<path stroke="#455ccf" d="M889.2 433.4h0"/>
<path stroke="#4664da" d="M889.3 430.6h0"/>
<path stroke="#30123b" d="M889.4 443.7h0"/>
<path stroke="#392a73" d="M889.5 452.7h0"/>
<path stroke="#30123b" d="M889.7 449.9h0"/>
<path stroke="#33184a" d="M889.8 457.1h0"/>
<path stroke="#455ccf" d="M889.9 443.0h0"/>
<path stroke="#4040a2" d="M890.0 447.2h0"/>
<path stroke="#36215f" d="M890.1 439.4h0"/>
<path stroke="#30123b" d="M890.3 437.7h0"/>
<path stroke="#455ccf" d="M890.4 431.3h0"/>
<path stroke="#434eba" d="M890.5 436.8h0"/>
<path stroke="#30123b" d="M890.6 421.5h0"/>
<path stroke="#455ccf" d="M890.7 419.8h0M890.9 431.4h0"/>
<path stroke="#30123b" d="M891.0 413.5h0"/>
<path stroke="#4664da" d="M891.1 414.3h0"/>
<path stroke="#38f491" d="M891.1 474.0h0"/>
<path stroke="#4099ff" d="M891.1 481.0h0"/>
<path stroke="#434eba" d="M891.2 405.3h0"/>
<path stroke="#3e3891" d="M891.3 402.8h0"/>
<path stroke="#30123b" d="M891.5 402.3h0M891.6 401.5h0"/>
<path stroke="#4146ac" d="M891.7 413.9h0"/>
<path stroke="#466be3" d="M891.8 400.8h0"/>
<path stroke="#4664da" d="M891.9 408.2h0"/>
<path stroke="#37a8fa" d="M892.1 422.5h0"/>
<path stroke="#4146ac" d="M892.2 407.5h0"/>
<path stroke="#30123b" d="M892.3 415.4h0"/>
<path stroke="#392a73" d="M892.4 422.1h0"/>
<path stroke="#466be3" d="M892.5 421.9h0"/>
<path stroke="#4771e9" d="M892.7 432.7h0"/>
<path stroke="#4685fa" d="M892.8 436.6h0"/>
<path stroke="#4778f0" d="M892.9 425.9h0M893.0 417.3h0"/>
<path stroke="#4664da" d="M893.1 416.8h0M893.3 429.4h0"/>
<path stroke="#4771e9" d="M893.4 424.5h0M893.5 430.5h0"/>
<path stroke="#4040a2" d="M893.6 427.1h0"/>
<path stroke="#33184a" d="M893.7 428.8h0"/>
<path stroke="#4664da" d="M893.9 430.7h0"/>
<path stroke="#28bceb" d="M894.0 437.9h0"/>
<path stroke="#4664da" d="M894.1 440.1h0"/>
<path stroke="#392a73" d="M894.2 436.0h0M894.3 420.8h0M894.5 417.5h0"/>
<path stroke="#4680f6" d="M894.6 414.9h0M894.7 416.1h0"/>
<path stroke="#30123b" d="M894.8 422.4h0"/>
<path stroke="#4146ac" d="M894.9 416.3h0"/>
<path stroke="#434eba" d="M895.1 413.0h0"/>
<path stroke="#30123b" d="M895.2 412.8h0"/>
<path stroke="#4664da" d="M895.3 421.0h0"/>
<path stroke="#466be3" d="M895.4 412.6h0"/>
<path stroke="#458cfd" d="M895.5 422.8h0"/>
<path stroke="#455ccf" d="M895.7 432.2h0M895.8 428.2h0"/>
<path stroke="#458cfd" d="M895.9 429.7h0"/>
<path stroke="#4685fa" d="M896.0 430.1h0"/>
<path stroke="#28bceb" d="M896.1 428.3h0"/>
<path stroke="#33adf7" d="M896.3 429.2h0"/>
<path stroke="#458cfd" d="M896.4 428.9h0"/>
<path stroke="#3ba0fd" d="M896.5 429.2h0"/>
<path stroke="#458cfd" d="M896.6 428.5h0"/>
<path stroke="#18ddc2" d="M896.8 421.0h0"/>
<path stroke="#4680f6" d="M896.9 402.8h0"/>
<path stroke="#455ccf" d="M897.0 413.6h0"/>
<path stroke="#4040a2" d="M897.1 409.0h0"/>
<path stroke="#434eba" d="M897.2 422.7h0"/>
<path stroke="#4099ff" d="M897.4 419.5h0"/>
<path stroke="#458cfd" d="M897.5 418.4h0M897.6 413.6h0"/>
<path stroke="#4040a2" d="M897.7 411.2h0"/>
<path stroke="#18d7ca" d="M897.8 401.4h0"/>
<path stroke="#2eb4f2" d="M898.0 398.9h0"/>
<path stroke="#3e3891" d="M898.1 381.4h0"/>
<path stroke="#37a8fa" d="M898.2 366.9h0"/>
<path stroke="#466be3" d="M898.3 364.0h0"/>
<path stroke="#2aefa1" d="M898.4 363.7h0"/>
<path stroke="#33adf7" d="M898.6 365.5h0"/>
<path stroke="#4771e9" d="M898.7 369.7h0"/>
<path stroke="#4664da" d="M898.8 384.7h0"/>
<path stroke="#20c7df" d="M898.9 410.0h0"/>
<path stroke="#4680f6" d="M899.0 383.0h0"/>
<path stroke="#4778f0" d="M899.2 398.6h0"/>
<path stroke="#4099ff" d="M899.3 405.2h0"/>
<path stroke="#4685fa" d="M899.4 397.2h0"/>
<path stroke="#4146ac" d="M899.5 397.2h0"/>
<path stroke="#4099ff" d="M899.6 376.0h0"/>
<path stroke="#4456c7" d="M899.8 376.5h0"/>
<path stroke="#33adf7" d="M899.9 394.6h0"/>
<path stroke="#458cfd" d="M900.0 381.7h0"/>
<path stroke="#28bceb" d="M900.1 375.9h0"/>
<path stroke="#1ad2d2" d="M900.2 378.9h0"/>
<path stroke="#2eb4f2" d="M900.4 386.8h0"/>
<path stroke="#4099ff" d="M900.5 387.3h0"/>
<path stroke="#455ccf" d="M900.6 381.9h0"/>
<path stroke="#458cfd" d="M900.7 387.6h0"/>
<path stroke="#4456c7" d="M900.8 381.1h0"/>
<path stroke="#4771e9" d="M901.0 404.8h0"/>
<path stroke="#4680f6" d="M901.1 409.6h0"/>
<path stroke="#4294ff" d="M901.2 407.2h0"/>
<path stroke="#1ccdd8" d="M901.3 393.1h0"/>
<path stroke="#28bceb" d="M901.4 385.4h0"/>
<path stroke="#1ccdd8" d="M901.6 378.8h0"/>
<path stroke="#33adf7" d="M901.7 374.9h0"/>
<path stroke="#25c0e7" d="M901.8 378.9h0"/>
<path stroke="#4778f0" d="M901.9 367.7h0"/>
<path stroke="#18ddc2" d="M902.0 370.8h0"/>
<path stroke="#4685fa" d="M902.2 372.1h0"/>
<path stroke="#28bceb" d="M902.3 363.9h0"/>
<path stroke="#37a8fa" d="M902.4 379.8h0"/>
<path stroke="#466be3" d="M902.5 382.5h0"/>
<path stroke="#1ad2d2" d="M902.6 383.9h0"/>
<path stroke="#37a8fa" d="M902.8 377.7h0"/>
<path stroke="#1ad2d2" d="M902.9 370.2h0"/>
<path stroke="#2aefa1" d="M903.0 370.4h0"/>
<path stroke="#4099ff" d="M903.1 357.1h0"/>
<path stroke="#25c0e7" d="M903.2 365.3h0"/>
<path stroke="#458cfd" d="M903.4 355.4h0"/>
<path stroke="#3ba0fd" d="M903.5 359.3h0"/>
<path stroke="#4294ff" d="M903.6 367.4h0"/>
<path stroke="#4771e9" d="M903.7 365.9h0"/>
<path stroke="#458cfd" d="M903.8 359.8h0"/>
<path stroke="#4294ff" d="M904.0 354.2h0"/>
<path stroke="#4685fa" d="M904.1 360.3h0"/>
<path stroke="#4680f6" d="M904.2 349.8h0"/>
<path stroke="#466be3" d="M904.3 353.8h0"/>
<path stroke="#4146ac" d="M904.4 366.0h0"/>
<path stroke="#30123b" d="M904.6 348.0h0"/>
<path stroke="#466be3" d="M904.7 343.7h0"/>
<path stroke="#4664da" d="M904.8 352.7h0"/>
<path stroke="#458cfd" d="M904.9 343.4h0"/>
<path stroke="#455ccf" d="M905.0 337.0h0"/>
<path stroke="#4771e9" d="M905.2 336.9h0"/>
<path stroke="#4456c7" d="M905.3 345.3h0"/>
<path stroke="#33184a" d="M905.4 336.4h0"/>
<path stroke="#4146ac" d="M905.5 335.0h0"/>
<path stroke="#30123b" d="M905.6 338.6h0"/>
<path stroke="#466be3" d="M905.8 342.1h0"/>
<path stroke="#3e3891" d="M905.9 339.7h0"/>
<path stroke="#4778f0" d="M906.0 343.2h0"/>
<path stroke="#4099ff" d="M906.1 341.7h0"/>
<path stroke="#4146ac" d="M906.2 337.7h0"/>
<path stroke="#3e3891" d="M906.4 369.0h0"/>
<path stroke="#4456c7" d="M906.5 377.1h0"/>
<path stroke="#22ebaa" d="M906.5 307.7h0"/>
<path stroke="#4146ac" d="M906.6 363.2h0"/>
<path stroke="#4664da" d="M906.7 353.9h0"/>
<path stroke="#30123b" d="M906.8 360.6h0"/>
<path stroke="#434eba" d="M907.0 375.8h0"/>
<path stroke="#18ddc2" d="M907.1 302.1h0"/>
<path stroke="#3ba0fd" d="M907.1 370.7h0"/>
<path stroke="#466be3" d="M907.2 374.9h0"/>
<path stroke="#33adf7" d="M907.3 376.2h0"/>
<path stroke="#4664da" d="M907.4 385.9h0"/>
<path stroke="#36215f" d="M907.6 375.5h0"/>
<path stroke="#466be3" d="M907.7 365.9h0"/>
<path stroke="#458cfd" d="M907.8 368.9h0"/>
<path stroke="#4040a2" d="M907.9 370.7h0"/>
<path stroke="#20c7df" d="M908.0 370.6h0"/>
<path stroke="#37a8fa" d="M908.2 382.5h0M908.3 386.7h0"/>
<path stroke="#30123b" d="M908.4 383.8h0"/>
<path stroke="#3e3891" d="M908.5 369.3h0"/>
<path stroke="#4146ac" d="M908.7 377.2h0"/>
<path stroke="#455ccf" d="M908.8 382.7h0"/>
<path stroke="#458cfd" d="M908.9 376.6h0"/>
<path stroke="#4294ff" d="M909.0 375.1h0"/>
<path stroke="#37a8fa" d="M909.1 364.2h0"/>
<path stroke="#4778f0" d="M909.3 368.7h0"/>
<path stroke="#22ebaa" d="M909.4 368.4h0"/>
<path stroke="#4099ff" d="M909.5 354.4h0"/>
<path stroke="#37a8fa" d="M909.6 358.5h0"/>
<path stroke="#33adf7" d="M909.7 361.4h0"/>
<path stroke="#1ae4b6" d="M909.9 361.8h0"/>
<path stroke="#4456c7" d="M910.0 373.4h0"/>
<path stroke="#1ad2d2" d="M910.1 379.5h0"/>
<path stroke="#4099ff" d="M910.2 385.6h0"/>
<path stroke="#3ba0fd" d="M910.3 383.4h0"/>
<path stroke="#455ccf" d="M910.5 393.9h0"/>
<path stroke="#2eb4f2" d="M910.6 384.5h0"/>
<path stroke="#33adf7" d="M910.7 389.7h0"/>
<path stroke="#28bceb" d="M910.8 378.9h0"/>
<path stroke="#4099ff" d="M910.9 381.8h0"/>
<path stroke="#28bceb" d="M911.1 375.5h0"/>
<path stroke="#4685fa" d="M911.2 371.2h0"/>
<path stroke="#2eb4f2" d="M911.3 378.5h0"/>
<path stroke="#1ad2d2" d="M911.4 383.4h0"/>
<path stroke="#18ddc2" d="M911.5 386.3h0M911.5 418.1h0"/>
<path stroke="#4680f6" d="M911.7 388.9h0"/>
<path stroke="#25c0e7" d="M911.8 391.3h0"/>
<path stroke="#4294ff" d="M911.9 391.9h0"/>
<path stroke="#1ad2d2" d="M912.0 391.2h0"/>
</g>
</g>
<rect x="117.00" y="18.00" width="833.00" height="739.00" fill="none" stroke="#000" stroke-width="2.10"/>
<text x="154.86" y="796.70" text-anchor="middle">0</text>
<text x="335.17" y="796.70" text-anchor="middle">50</text>
<text x="515.47" y="796.70" text-anchor="middle">100</text>
<text x="695.77" y="796.70" text-anchor="middle">150</text>
<text x="876.08" y="796.70" text-anchor="middle">200</text>
<text x="98.52" y="656.24" text-anchor="end">0.2</text>
<text x="98.52" y="507.27" text-anchor="end">0.4</text>
<text x="98.52" y="358.29" text-anchor="end">0.6</text>
<text x="98.52" y="209.32" text-anchor="end">0.8</text>
<text x="98.52" y="60.35" text-anchor="end">1.0</text>
<text x="1058.68" y="757.25">−0.6</text>
<text x="1058.68" y="646.43">−0.4</text>
<text x="1058.68" y="535.60">−0.2</text>
<text x="1058.68" y="424.78">0.0</text>
<text x="1058.68" y="313.95">0.2</text>
<text x="1058.68" y="203.13">0.4</text>
<text x="1058.68" y="92.30">0.6</text>
<rect x="1002.00" y="18.00" width="37.00" height="739.00" fill="url(#cb)" stroke="#000" stroke-width="2.10"/>
<path d="M154.86 757.00v9.24M335.17 757.00v9.24M515.47 757.00v9.24M695.77 757.00v9.24M876.08 757.00v9.24M117.00 644.84h-9.24M117.00 495.87h-9.24M117.00 346.89h-9.24M117.00 197.92h-9.24M117.00 48.95h-9.24M1039.00 745.85h9.24M1039.00 635.03h9.24M1039.00 524.20h9.24M1039.00 413.38h9.24M1039.00 302.55h9.24M1039.00 191.73h9.24M1039.00 80.90h9.24" stroke="#000" stroke-width="2.10" fill="none"/>
<text x="533.50" y="834.10" text-anchor="middle">time (s)</text>
<text transform="translate(41.40 391.30) rotate(-90)" text-anchor="middle" letter-spacing="0.1">polarization</text>
<text transform="translate(1153.50 389.50) rotate(-90)" text-anchor="middle" letter-spacing="0.15">log10 herd speed (BL/s)</text>
</svg></body></html>
